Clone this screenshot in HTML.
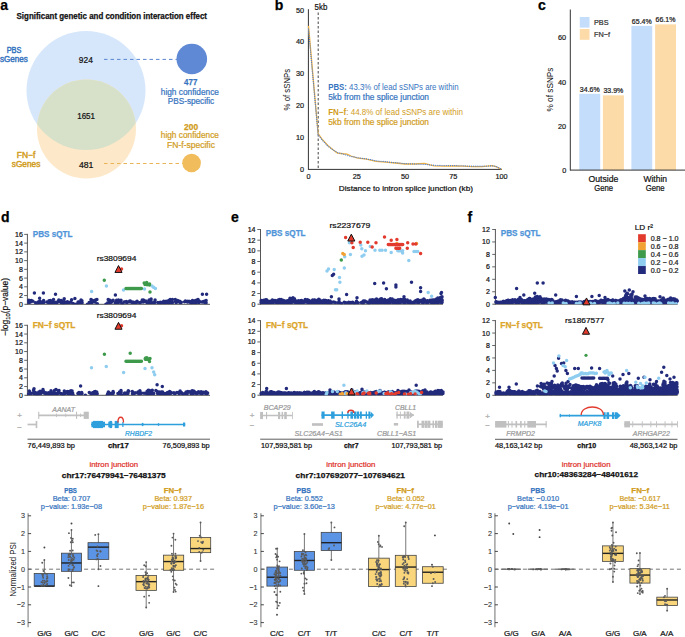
<!DOCTYPE html>
<html><head><meta charset="utf-8"><style>
html,body{margin:0;padding:0;background:#fff;overflow:hidden;}
svg{display:block;font-family:"Liberation Sans", sans-serif;}
</style></head><body>
<svg width="685" height="637" viewBox="0 0 685 637">
<text x="0.3" y="10.2" font-size="14" fill="#000" font-weight="bold" stroke="#000" stroke-width="0.25" text-anchor="start">a</text>
<text x="16.6" y="18.8" font-size="8.2" fill="#111" font-weight="bold" stroke="#111" stroke-width="0.25" text-anchor="start" textLength="190.4" lengthAdjust="spacingAndGlyphs">Significant genetic and condition interaction effect</text>
<circle cx="86.00" cy="90.50" r="59.50" fill="#d6e7fb"/>
<circle cx="86.50" cy="129.00" r="49.50" fill="#fde9c9"/>
<clipPath id="cb"><circle cx="86" cy="90.5" r="59.5"/></clipPath>
<circle cx="86.50" cy="129.00" r="49.50" fill="#d7e0c9" clip-path="url(#cb)"/>
<text x="6.7" y="52.5" font-size="8.6" fill="#3674c0" stroke="#3674c0" stroke-width="0.45" text-anchor="start" textLength="14.7" lengthAdjust="spacingAndGlyphs">PBS</text>
<text x="0.0" y="62.2" font-size="8.6" fill="#3674c0" stroke="#3674c0" stroke-width="0.45" text-anchor="start" textLength="27.7" lengthAdjust="spacingAndGlyphs">sGenes</text>
<text x="78.8" y="63.0" font-size="8.6" fill="#111" stroke="#111" stroke-width="0.22" text-anchor="start" textLength="14.0" lengthAdjust="spacingAndGlyphs">924</text>
<text x="77.2" y="119.2" font-size="8.6" fill="#111" stroke="#111" stroke-width="0.22" text-anchor="start" textLength="17.8" lengthAdjust="spacingAndGlyphs">1651</text>
<text x="78.9" y="167.9" font-size="8.6" fill="#111" stroke="#111" stroke-width="0.22" text-anchor="start" textLength="14.5" lengthAdjust="spacingAndGlyphs">481</text>
<text x="16.8" y="157.8" font-size="8.6" fill="#d19c1c" stroke="#d19c1c" stroke-width="0.45" text-anchor="start" textLength="18.5" lengthAdjust="spacingAndGlyphs">FN−f</text>
<text x="11.8" y="166.9" font-size="8.6" fill="#d19c1c" stroke="#d19c1c" stroke-width="0.45" text-anchor="start" textLength="28.5" lengthAdjust="spacingAndGlyphs">sGenes</text>
<line x1="104.00" y1="59.40" x2="177.00" y2="59.40" stroke="#5b86d2" stroke-width="1" stroke-dasharray="3.5,3"/>
<line x1="104.00" y1="163.50" x2="183.00" y2="163.50" stroke="#e8b455" stroke-width="1" stroke-dasharray="3.5,3"/>
<circle cx="191.80" cy="59.00" r="15.30" fill="#5f88d5"/>
<circle cx="191.60" cy="163.00" r="9.30" fill="#f0bc5c"/>
<text x="184.1" y="85.3" font-size="8.4" fill="#3674c0" font-weight="bold" stroke="#3674c0" stroke-width="0.25" text-anchor="start" textLength="13.2" lengthAdjust="spacingAndGlyphs">477</text>
<text x="160.8" y="94.7" font-size="8.4" fill="#3674c0" stroke="#3674c0" stroke-width="0.22" text-anchor="start" textLength="58.1" lengthAdjust="spacingAndGlyphs">high confidence</text>
<text x="167.8" y="103.6" font-size="8.4" fill="#3674c0" stroke="#3674c0" stroke-width="0.22" text-anchor="start" textLength="46.4" lengthAdjust="spacingAndGlyphs">PBS-specific</text>
<text x="184.1" y="129.6" font-size="8.4" fill="#d19c1c" font-weight="bold" stroke="#d19c1c" stroke-width="0.25" text-anchor="start" textLength="14.1" lengthAdjust="spacingAndGlyphs">200</text>
<text x="160.8" y="138.3" font-size="8.4" fill="#d19c1c" stroke="#d19c1c" stroke-width="0.22" text-anchor="start" textLength="58.1" lengthAdjust="spacingAndGlyphs">high confidence</text>
<text x="167.1" y="147.7" font-size="8.4" fill="#d19c1c" stroke="#d19c1c" stroke-width="0.22" text-anchor="start" textLength="47.8" lengthAdjust="spacingAndGlyphs">FN-f-specific</text>
<text x="274.7" y="10.2" font-size="14" fill="#000" font-weight="bold" stroke="#000" stroke-width="0.25" text-anchor="start">b</text>
<line x1="308.40" y1="9.20" x2="308.40" y2="169.90" stroke="#333333" stroke-width="1"/>
<line x1="308.40" y1="169.40" x2="502.00" y2="169.40" stroke="#333333" stroke-width="1"/>
<text x="304.0" y="172.0" font-size="7.3" fill="#222" stroke="#222" stroke-width="0.22" text-anchor="end">0</text>
<text x="304.0" y="140.1" font-size="7.3" fill="#222" stroke="#222" stroke-width="0.22" text-anchor="end">10</text>
<text x="304.0" y="108.2" font-size="7.3" fill="#222" stroke="#222" stroke-width="0.22" text-anchor="end">20</text>
<text x="304.0" y="76.3" font-size="7.3" fill="#222" stroke="#222" stroke-width="0.22" text-anchor="end">30</text>
<text x="304.0" y="44.4" font-size="7.3" fill="#222" stroke="#222" stroke-width="0.22" text-anchor="end">40</text>
<text x="304.0" y="12.5" font-size="7.3" fill="#222" stroke="#222" stroke-width="0.22" text-anchor="end">50</text>
<text x="308.5" y="179.2" font-size="7.3" fill="#222" stroke="#222" stroke-width="0.22" text-anchor="middle">0</text>
<text x="356.8" y="179.2" font-size="7.3" fill="#222" stroke="#222" stroke-width="0.22" text-anchor="middle">25</text>
<text x="405.1" y="179.2" font-size="7.3" fill="#222" stroke="#222" stroke-width="0.22" text-anchor="middle">50</text>
<text x="453.3" y="179.2" font-size="7.3" fill="#222" stroke="#222" stroke-width="0.22" text-anchor="middle">75</text>
<text x="501.6" y="179.2" font-size="7.3" fill="#222" stroke="#222" stroke-width="0.22" text-anchor="middle">100</text>
<text x="338.8" y="191.0" font-size="8" fill="#111" stroke="#111" stroke-width="0.22" text-anchor="start" textLength="134.2" lengthAdjust="spacingAndGlyphs">Distance to intron splice junction (kb)</text>
<text x="0" y="0" font-size="8.8" fill="#111" text-anchor="middle" textLength="41.6" lengthAdjust="spacingAndGlyphs" transform="translate(289.5,89.6) rotate(-90)">% of sSNPs</text>
<line x1="318.20" y1="12.50" x2="318.20" y2="169.40" stroke="#444" stroke-width="1" stroke-dasharray="2.5,2"/>
<text x="314.6" y="10.0" font-size="9" fill="#111" stroke="#111" stroke-width="0.22" text-anchor="start" textLength="12.7" lengthAdjust="spacingAndGlyphs">5kb</text>
<polyline points="308.50,25.85 318.15,133.67 322.02,139.09 327.81,145.47 333.60,150.26 337.46,153.13 343.26,153.77 347.12,154.09 350.98,156.00 356.77,157.92 366.43,159.19 376.09,161.43 385.74,162.06 395.39,163.02 405.05,163.98 414.70,163.98 424.36,163.34 430.15,164.93 434.01,165.89 443.67,166.21 453.33,165.89 462.98,166.21 472.63,166.53 482.29,166.53 491.94,165.57 495.81,166.53 501.60,169.40" fill="none" stroke="#f2b23c" stroke-width="1.3"/>
<polyline points="308.50,29.04 318.15,134.95 322.02,139.73 327.81,146.11 333.60,150.26 337.46,152.49 343.26,154.09 347.12,155.36 350.98,156.32 356.77,157.60 366.43,158.87 376.09,160.79 385.74,161.74 395.39,162.70 405.05,163.66 414.70,163.98 424.36,164.30 430.15,164.93 434.01,165.25 443.67,165.57 453.33,165.57 462.98,165.89 472.63,166.21 482.29,166.21 491.94,165.89 495.81,166.21 501.60,169.40" fill="none" stroke="#3d78e0" stroke-width="1.25" stroke-dasharray="0.01,2.1" stroke-linecap="round"/>
<text x="328.2" y="90" font-size="8.6" fill="#3674c0" textLength="130.4" lengthAdjust="spacingAndGlyphs"><tspan font-weight="bold">PBS:</tspan> 43.3% of lead sSNPs are within</text>
<text x="328.2" y="99.5" font-size="8.6" fill="#3674c0" stroke="#3674c0" stroke-width="0.22" text-anchor="start" textLength="100.8" lengthAdjust="spacingAndGlyphs">5kb from the splice junction</text>
<text x="328.2" y="115.2" font-size="8.6" fill="#d19c1c" textLength="134.7" lengthAdjust="spacingAndGlyphs"><tspan font-weight="bold">FN−f</tspan>: 44.8% of lead sSNPs are within</text>
<text x="328.2" y="124.9" font-size="8.6" fill="#d19c1c" stroke="#d19c1c" stroke-width="0.22" text-anchor="start" textLength="100.8" lengthAdjust="spacingAndGlyphs">5kb from the splice junction</text>
<text x="537.9" y="10.2" font-size="14" fill="#000" font-weight="bold" stroke="#000" stroke-width="0.25" text-anchor="start">c</text>
<rect x="579.30" y="93.81" width="20.90" height="76.29" fill="#c4ddfa"/>
<text x="589.8" y="91.8" font-size="7" fill="#222" stroke="#222" stroke-width="0.22" text-anchor="middle">34.6%</text>
<rect x="602.90" y="95.35" width="21.00" height="74.75" fill="#fddba8"/>
<text x="613.4" y="93.4" font-size="7" fill="#222" stroke="#222" stroke-width="0.22" text-anchor="middle">33.9%</text>
<rect x="631.40" y="25.89" width="20.80" height="144.21" fill="#c4ddfa"/>
<text x="641.8" y="23.9" font-size="7" fill="#222" stroke="#222" stroke-width="0.22" text-anchor="middle">65.4%</text>
<rect x="655.10" y="24.35" width="20.90" height="145.75" fill="#fddba8"/>
<text x="665.5" y="22.3" font-size="7" fill="#222" stroke="#222" stroke-width="0.22" text-anchor="middle">66.1%</text>
<line x1="570.30" y1="9.50" x2="570.30" y2="170.60" stroke="#333333" stroke-width="1"/>
<line x1="570.30" y1="170.10" x2="685.00" y2="170.10" stroke="#333333" stroke-width="1"/>
<text x="566.2" y="172.7" font-size="7.3" fill="#222" stroke="#222" stroke-width="0.22" text-anchor="end">0</text>
<text x="566.2" y="128.6" font-size="7.3" fill="#222" stroke="#222" stroke-width="0.22" text-anchor="end">20</text>
<text x="566.2" y="84.5" font-size="7.3" fill="#222" stroke="#222" stroke-width="0.22" text-anchor="end">40</text>
<text x="566.2" y="40.4" font-size="7.3" fill="#222" stroke="#222" stroke-width="0.22" text-anchor="end">60</text>
<rect x="579.80" y="17.00" width="9.70" height="10.60" fill="#c4ddfa"/>
<rect x="579.80" y="29.00" width="9.70" height="10.80" fill="#fddba8"/>
<text x="594.0" y="24.8" font-size="7.3" fill="#333" stroke="#333" stroke-width="0.22" text-anchor="start">PBS</text>
<text x="594.0" y="36.8" font-size="7.3" fill="#333" stroke="#333" stroke-width="0.22" text-anchor="start">FN−f</text>
<text x="588.5" y="181.7" font-size="8.8" fill="#111" stroke="#111" stroke-width="0.22" text-anchor="start" textLength="29.9" lengthAdjust="spacingAndGlyphs">Outside</text>
<text x="594.2" y="190.9" font-size="8.8" fill="#111" stroke="#111" stroke-width="0.22" text-anchor="start" textLength="18.8" lengthAdjust="spacingAndGlyphs">Gene</text>
<text x="643.5" y="181.7" font-size="8.8" fill="#111" stroke="#111" stroke-width="0.22" text-anchor="start" textLength="23.5" lengthAdjust="spacingAndGlyphs">Within</text>
<text x="645.7" y="190.9" font-size="8.8" fill="#111" stroke="#111" stroke-width="0.22" text-anchor="start" textLength="18.9" lengthAdjust="spacingAndGlyphs">Gene</text>
<text x="0" y="0" font-size="8.8" fill="#111" text-anchor="middle" textLength="44.0" lengthAdjust="spacingAndGlyphs" transform="translate(553.0,89.5) rotate(-90)">% of sSNPs</text>
<text x="0.9" y="221.6" font-size="14" fill="#000" font-weight="bold" stroke="#000" stroke-width="0.25" text-anchor="start">d</text>
<line x1="27.40" y1="233.88" x2="27.40" y2="304.80" stroke="#555" stroke-width="1.0"/>
<line x1="24.40" y1="304.30" x2="210.00" y2="304.30" stroke="#555" stroke-width="1.0"/>
<text x="22.8" y="306.8" font-size="7" fill="#111" stroke="#111" stroke-width="0.22" text-anchor="end">0</text>
<line x1="24.20" y1="295.56" x2="27.40" y2="295.56" stroke="#555" stroke-width="0.9"/>
<text x="22.8" y="298.1" font-size="7" fill="#111" stroke="#111" stroke-width="0.22" text-anchor="end">2</text>
<line x1="24.20" y1="286.82" x2="27.40" y2="286.82" stroke="#555" stroke-width="0.9"/>
<text x="22.8" y="289.3" font-size="7" fill="#111" stroke="#111" stroke-width="0.22" text-anchor="end">4</text>
<line x1="24.20" y1="278.08" x2="27.40" y2="278.08" stroke="#555" stroke-width="0.9"/>
<text x="22.8" y="280.6" font-size="7" fill="#111" stroke="#111" stroke-width="0.22" text-anchor="end">6</text>
<line x1="24.20" y1="269.34" x2="27.40" y2="269.34" stroke="#555" stroke-width="0.9"/>
<text x="22.8" y="271.8" font-size="7" fill="#111" stroke="#111" stroke-width="0.22" text-anchor="end">8</text>
<line x1="24.20" y1="260.60" x2="27.40" y2="260.60" stroke="#555" stroke-width="0.9"/>
<text x="22.8" y="263.1" font-size="7" fill="#111" stroke="#111" stroke-width="0.22" text-anchor="end">10</text>
<line x1="24.20" y1="251.86" x2="27.40" y2="251.86" stroke="#555" stroke-width="0.9"/>
<text x="22.8" y="254.4" font-size="7" fill="#111" stroke="#111" stroke-width="0.22" text-anchor="end">12</text>
<line x1="24.20" y1="243.12" x2="27.40" y2="243.12" stroke="#555" stroke-width="0.9"/>
<text x="22.8" y="245.6" font-size="7" fill="#111" stroke="#111" stroke-width="0.22" text-anchor="end">14</text>
<line x1="24.20" y1="234.38" x2="27.40" y2="234.38" stroke="#555" stroke-width="0.9"/>
<text x="22.8" y="236.9" font-size="7" fill="#111" stroke="#111" stroke-width="0.22" text-anchor="end">16</text>
<text x="32.8" y="236.6" font-size="8.4" fill="#4f94d8" font-weight="bold" stroke="#4f94d8" stroke-width="0.25" text-anchor="start" textLength="39.7" lengthAdjust="spacingAndGlyphs">PBS sQTL</text>
<clipPath id="mc1"><rect x="0" y="184.3" width="685" height="120"/></clipPath><g clip-path="url(#mc1)">
<path d="M30.8 301.7h0M29.0 302.2h0M28.9 301.8h0M28.8 302.0h0M29.0 302.7h0M31.5 301.1h0M29.4 302.6h0M32.9 301.2h0M31.3 300.5h0M28.8 300.3h0M35.6 302.7h0M36.6 304.3h0M38.2 302.1h0M41.3 301.9h0M38.6 302.8h0M39.3 301.6h0M40.3 302.4h0M41.1 302.1h0M39.7 301.2h0M41.6 302.6h0M43.6 300.6h0M43.7 302.5h0M49.9 302.3h0M48.5 302.7h0M46.9 301.9h0M48.6 302.0h0M49.3 302.5h0M48.2 301.9h0M47.5 302.3h0M49.0 300.8h0M52.4 302.7h0M53.5 299.5h0M54.1 302.4h0M51.9 301.1h0M50.1 301.9h0M50.8 302.7h0M50.3 300.6h0M55.9 302.3h0M61.1 302.2h0M58.8 299.9h0M61.0 302.5h0M57.9 302.1h0M61.2 300.6h0M56.1 302.7h0M56.6 302.6h0M58.4 301.2h0M56.8 302.8h0M62.2 302.6h0M63.1 304.3h0M63.8 301.8h0M69.2 302.8h0M71.6 299.7h0M70.8 302.0h0M67.4 301.7h0M64.5 302.7h0M65.8 302.7h0M66.9 302.8h0M64.0 302.6h0M64.9 302.0h0M64.2 298.8h0M69.2 302.6h0M66.1 302.4h0M67.1 302.7h0M72.9 303.4h0M75.1 304.3h0M77.5 303.7h0M79.4 302.5h0M81.3 302.8h0M81.8 301.9h0M78.6 301.9h0M78.1 301.9h0M81.9 300.8h0M80.8 302.5h0M82.1 302.7h0M87.5 304.3h0M89.2 302.6h0M95.5 300.0h0M95.5 300.2h0M95.0 302.1h0M92.0 302.8h0M91.5 302.6h0M94.6 300.7h0M92.7 300.6h0M96.9 299.6h0M92.1 302.6h0M91.0 302.7h0M90.9 301.9h0M97.3 303.8h0M105.9 304.3h0M107.8 302.7h0M116.6 300.2h0M117.8 302.6h0M118.3 302.4h0M118.4 299.9h0M113.1 300.3h0M117.4 302.6h0M109.7 302.7h0M119.8 300.7h0M109.9 300.2h0M120.7 302.2h0M115.1 302.7h0M108.2 299.4h0M116.4 301.5h0M120.1 302.0h0M119.3 300.6h0M110.7 302.5h0M111.1 301.9h0M111.4 302.3h0M121.0 300.3h0M122.3 304.3h0M124.1 302.1h0M128.8 301.7h0M130.0 301.7h0M124.5 302.1h0M126.3 301.6h0M126.1 302.3h0M132.1 302.4h0M129.8 301.5h0M132.7 302.1h0M127.0 302.6h0M132.6 302.2h0M130.3 301.1h0M134.1 302.4h0M130.9 302.0h0M129.8 300.9h0M141.8 302.0h0M149.1 299.9h0M149.1 302.5h0M143.4 299.9h0M137.1 302.3h0M136.1 302.6h0M136.1 301.9h0M146.8 302.6h0M145.7 300.9h0M137.1 301.3h0M149.5 302.5h0M149.3 302.1h0M142.3 299.9h0M147.5 302.6h0M141.5 301.9h0M140.1 302.6h0M139.8 302.8h0M143.3 301.9h0M135.3 302.5h0M144.4 301.6h0M151.0 299.9h0M164.6 302.6h0M150.6 300.0h0M154.1 302.3h0M163.7 301.2h0M153.9 302.7h0M163.8 302.0h0M160.5 302.8h0M160.3 302.3h0M151.1 298.9h0M159.5 302.7h0M162.8 302.8h0M162.9 302.2h0M155.1 299.9h0M154.0 302.7h0M157.9 302.5h0M151.6 302.6h0M150.8 302.5h0M154.7 302.5h0M161.4 302.5h0M172.5 302.4h0M165.3 302.8h0M176.0 302.6h0M172.1 302.7h0M177.3 302.0h0M172.4 299.6h0M170.9 301.5h0M175.3 299.4h0M170.1 299.6h0M175.6 301.2h0M171.1 302.1h0M165.8 302.7h0M166.1 301.3h0M168.8 302.7h0M177.6 300.6h0M169.2 302.6h0M169.4 302.2h0M167.4 302.2h0M168.9 300.5h0M179.6 301.3h0M168.7 300.5h0M169.6 302.4h0M180.0 301.9h0M187.5 302.1h0M180.1 302.5h0M181.3 302.2h0M180.6 302.8h0M184.6 301.8h0M187.9 301.3h0M189.9 301.5h0M193.2 302.4h0M194.8 302.7h0M190.9 302.8h0M192.5 300.6h0M189.4 301.4h0M192.2 302.7h0M187.9 302.1h0M192.5 300.9h0M192.4 301.5h0M193.4 301.4h0M190.4 302.5h0M180.5 302.7h0M185.4 301.1h0M188.4 301.7h0M204.4 301.8h0M195.0 300.7h0M202.5 301.7h0M204.9 302.7h0M206.1 302.7h0M199.0 302.6h0M206.1 300.4h0M202.4 302.0h0M205.3 301.2h0M204.3 301.2h0M196.2 302.7h0M198.8 300.8h0M199.6 301.5h0M195.2 302.7h0M199.0 301.1h0M205.4 301.5h0M199.4 301.7h0M202.0 302.1h0M196.8 299.9h0M198.0 299.5h0M34.4 292.9h0M43.4 292.9h0M39.6 298.2h0M55.5 294.2h0M74.9 298.6h0M115.4 295.1h0M202.4 294.2h0M206.6 294.2h0M81.0 299.9h0M91.0 299.5h0" stroke="#222a7c" stroke-width="3.5" stroke-linecap="round" fill="none"/>
<path d="M91.6 291.6h0M106.4 285.9h0M123.5 289.9h0M144.5 289.0h0M152.0 285.9h0M153.5 287.3h0M155.4 288.6h0" stroke="#8fcdf0" stroke-width="3.5" stroke-linecap="round" fill="none"/>
<path d="M104.3 280.3h0M150.0 292.1h0M126.0 288.6h0M127.1 288.6h0M128.2 288.6h0M129.3 288.6h0M130.4 288.6h0M131.5 288.6h0M132.6 288.6h0M133.7 288.6h0M134.8 288.6h0M135.9 288.6h0M137.0 288.6h0M138.1 288.6h0M139.2 288.6h0M140.3 288.6h0M141.4 288.6h0M149.4 285.0h0M146.3 282.9h0M149.6 283.9h0M145.0 284.5h0M149.4 284.5h0M147.1 284.7h0M146.7 282.6h0M144.2 282.9h0M146.6 282.7h0M147.9 284.5h0" stroke="#3e9a4b" stroke-width="3.5" stroke-linecap="round" fill="none"/>
<path d="M121.5 268.9h0" stroke="#e23b2e" stroke-width="3.5" stroke-linecap="round" fill="none"/>
</g>
<polygon points="114.95,272.44 122.05,272.44 118.50,265.56" fill="#e23b2e" stroke="#111" stroke-width="1"/>
<text x="96.7" y="260.6" font-size="8" fill="#111" stroke="#111" stroke-width="0.22" text-anchor="start" textLength="39.7" lengthAdjust="spacingAndGlyphs">rs3809694</text>
<line x1="27.40" y1="324.80" x2="27.40" y2="395.80" stroke="#555" stroke-width="1.0"/>
<line x1="24.40" y1="395.30" x2="210.00" y2="395.30" stroke="#555" stroke-width="1.0"/>
<text x="22.8" y="397.8" font-size="7" fill="#111" stroke="#111" stroke-width="0.22" text-anchor="end">0</text>
<line x1="24.20" y1="386.55" x2="27.40" y2="386.55" stroke="#555" stroke-width="0.9"/>
<text x="22.8" y="389.1" font-size="7" fill="#111" stroke="#111" stroke-width="0.22" text-anchor="end">2</text>
<line x1="24.20" y1="377.80" x2="27.40" y2="377.80" stroke="#555" stroke-width="0.9"/>
<text x="22.8" y="380.3" font-size="7" fill="#111" stroke="#111" stroke-width="0.22" text-anchor="end">4</text>
<line x1="24.20" y1="369.05" x2="27.40" y2="369.05" stroke="#555" stroke-width="0.9"/>
<text x="22.8" y="371.6" font-size="7" fill="#111" stroke="#111" stroke-width="0.22" text-anchor="end">6</text>
<line x1="24.20" y1="360.30" x2="27.40" y2="360.30" stroke="#555" stroke-width="0.9"/>
<text x="22.8" y="362.8" font-size="7" fill="#111" stroke="#111" stroke-width="0.22" text-anchor="end">8</text>
<line x1="24.20" y1="351.55" x2="27.40" y2="351.55" stroke="#555" stroke-width="0.9"/>
<text x="22.8" y="354.1" font-size="7" fill="#111" stroke="#111" stroke-width="0.22" text-anchor="end">10</text>
<line x1="24.20" y1="342.80" x2="27.40" y2="342.80" stroke="#555" stroke-width="0.9"/>
<text x="22.8" y="345.3" font-size="7" fill="#111" stroke="#111" stroke-width="0.22" text-anchor="end">12</text>
<line x1="24.20" y1="334.05" x2="27.40" y2="334.05" stroke="#555" stroke-width="0.9"/>
<text x="22.8" y="336.6" font-size="7" fill="#111" stroke="#111" stroke-width="0.22" text-anchor="end">14</text>
<line x1="24.20" y1="325.30" x2="27.40" y2="325.30" stroke="#555" stroke-width="0.9"/>
<text x="22.8" y="327.8" font-size="7" fill="#111" stroke="#111" stroke-width="0.22" text-anchor="end">16</text>
<text x="32.7" y="327.8" font-size="8.4" fill="#dca52a" font-weight="bold" stroke="#dca52a" stroke-width="0.25" text-anchor="start" textLength="42.8" lengthAdjust="spacingAndGlyphs">FN−f sQTL</text>
<clipPath id="mc2"><rect x="0" y="275.3" width="685" height="120"/></clipPath><g clip-path="url(#mc2)">
<path d="M34.8 392.6h0M28.7 393.8h0M31.9 393.2h0M30.6 393.7h0M30.9 393.5h0M34.4 393.8h0M33.8 390.7h0M29.3 390.9h0M33.5 390.2h0M30.5 393.4h0M35.7 392.7h0M37.2 395.3h0M38.1 393.7h0M39.6 393.8h0M38.8 392.1h0M39.6 391.7h0M39.5 393.6h0M40.7 393.6h0M40.1 391.2h0M42.5 392.0h0M43.6 391.5h0M43.9 392.9h0M48.3 393.8h0M48.4 393.3h0M48.5 392.8h0M45.7 393.8h0M49.6 393.7h0M46.8 393.5h0M45.8 392.7h0M49.9 393.6h0M53.3 393.4h0M52.8 393.1h0M50.8 393.6h0M51.0 390.8h0M52.5 393.5h0M54.5 390.6h0M52.2 393.7h0M56.3 393.7h0M57.4 393.7h0M56.7 393.6h0M59.0 390.4h0M60.2 393.3h0M57.9 392.5h0M57.6 393.2h0M55.4 393.5h0M61.8 393.7h0M58.5 392.0h0M62.4 394.4h0M62.7 395.3h0M63.6 393.7h0M67.4 393.2h0M72.1 390.9h0M71.4 393.8h0M64.3 391.0h0M71.6 392.7h0M69.0 393.8h0M67.3 391.6h0M71.0 390.8h0M72.3 393.5h0M64.9 393.6h0M68.4 391.8h0M72.0 391.6h0M69.5 391.4h0M72.7 393.2h0M73.2 395.3h0M77.9 393.6h0M81.7 392.6h0M79.2 393.7h0M79.0 392.6h0M80.8 393.7h0M78.3 392.9h0M80.3 393.3h0M78.9 392.7h0M82.0 393.5h0M85.4 395.3h0M89.3 392.5h0M96.1 392.8h0M91.1 393.6h0M96.7 391.9h0M91.7 393.8h0M93.1 392.6h0M92.5 393.6h0M94.4 391.8h0M91.0 393.8h0M91.9 393.3h0M94.6 393.6h0M95.4 391.6h0M97.2 393.7h0M107.2 395.3h0M107.7 393.7h0M111.0 393.6h0M117.9 393.4h0M120.4 392.8h0M110.4 393.6h0M113.4 392.4h0M120.3 393.7h0M113.1 393.6h0M120.7 393.7h0M108.7 393.7h0M113.1 391.5h0M119.5 392.0h0M121.0 390.6h0M112.3 393.7h0M120.2 391.7h0M108.4 392.1h0M112.9 393.3h0M112.3 393.7h0M108.0 393.4h0M121.1 392.0h0M121.6 395.3h0M124.3 393.6h0M128.1 391.2h0M133.1 393.4h0M124.8 393.0h0M128.3 390.7h0M126.4 393.5h0M133.9 393.8h0M128.7 391.3h0M132.5 393.8h0M124.7 393.7h0M134.1 393.6h0M132.3 391.5h0M127.9 393.4h0M134.5 393.0h0M127.1 392.8h0M139.7 393.5h0M135.1 392.7h0M148.7 392.2h0M149.1 393.8h0M138.5 392.9h0M149.4 390.4h0M140.8 393.5h0M141.4 393.0h0M148.9 393.6h0M147.0 391.5h0M147.3 391.3h0M144.1 393.2h0M139.8 393.3h0M146.7 393.7h0M138.0 391.9h0M138.7 393.7h0M135.5 393.1h0M139.9 390.7h0M148.3 390.3h0M139.0 393.7h0M151.4 392.5h0M160.6 393.3h0M153.5 393.3h0M159.3 391.9h0M161.2 392.1h0M160.0 393.7h0M162.6 393.5h0M158.5 393.1h0M161.1 393.6h0M153.7 393.6h0M152.3 390.3h0M158.7 393.2h0M155.9 390.5h0M157.6 393.5h0M162.1 392.8h0M164.9 393.7h0M157.1 391.5h0M162.6 391.9h0M150.6 393.3h0M151.8 393.6h0M179.6 392.1h0M179.0 393.0h0M178.0 392.7h0M168.9 392.2h0M179.2 393.7h0M173.9 392.7h0M168.3 393.4h0M167.1 393.6h0M168.8 392.8h0M174.8 393.6h0M165.2 393.4h0M175.2 393.6h0M169.7 393.6h0M176.9 392.6h0M165.9 393.7h0M170.9 392.3h0M174.6 393.7h0M167.5 392.4h0M171.1 393.3h0M169.6 391.5h0M169.7 392.9h0M170.4 392.9h0M193.0 391.1h0M185.5 393.6h0M190.9 393.6h0M180.1 391.1h0M186.4 392.2h0M186.1 392.0h0M186.9 393.7h0M180.2 392.7h0M189.6 391.8h0M181.3 392.4h0M185.6 393.1h0M182.2 393.4h0M187.8 391.6h0M181.6 392.9h0M192.1 390.7h0M183.0 393.7h0M194.1 391.2h0M187.2 393.8h0M193.9 393.3h0M193.6 392.6h0M192.4 393.6h0M191.8 393.5h0M201.1 391.8h0M207.4 393.6h0M198.3 393.1h0M202.8 393.2h0M196.8 393.5h0M205.9 391.7h0M195.6 392.5h0M206.4 393.8h0M207.6 392.9h0M203.3 392.3h0M199.6 393.0h0M203.7 393.0h0M204.9 393.0h0M201.6 393.8h0M204.3 392.8h0M198.5 391.7h0M206.7 393.2h0M197.7 392.9h0M196.6 393.7h0M201.5 393.7h0M80.6 386.1h0M157.1 384.8h0M162.3 386.6h0M34.0 388.7h0M43.0 389.6h0M56.0 389.6h0" stroke="#222a7c" stroke-width="3.5" stroke-linecap="round" fill="none"/>
<path d="M91.5 367.7h0M106.3 366.4h0M123.6 372.6h0M145.0 368.6h0M152.0 367.7h0M153.7 372.1h0M154.7 374.7h0" stroke="#8fcdf0" stroke-width="3.5" stroke-linecap="round" fill="none"/>
<path d="M104.4 354.2h0M130.2 353.3h0M149.5 361.6h0M126.0 361.2h0M127.1 361.2h0M128.2 361.2h0M129.3 361.2h0M130.4 361.2h0M131.5 361.2h0M132.6 361.2h0M133.7 361.2h0M134.8 361.2h0M135.9 361.2h0M137.0 361.2h0M138.1 361.2h0M139.2 361.2h0M140.3 361.2h0M141.4 361.2h0M147.2 359.2h0M145.2 358.8h0M145.4 358.5h0M148.9 359.2h0M145.3 359.2h0M146.9 357.8h0M145.7 358.1h0M150.0 358.5h0" stroke="#3e9a4b" stroke-width="3.5" stroke-linecap="round" fill="none"/>
<path d="M121.5 325.7h0" stroke="#e23b2e" stroke-width="3.5" stroke-linecap="round" fill="none"/>
</g>
<polygon points="114.95,329.24 122.05,329.24 118.50,322.36" fill="#e23b2e" stroke="#111" stroke-width="1"/>
<text x="96.7" y="318.2" font-size="8" fill="#111" stroke="#111" stroke-width="0.22" text-anchor="start" textLength="39.7" lengthAdjust="spacingAndGlyphs">rs3809694</text>
<text x="0" y="0" font-size="8.6" fill="#111" stroke="#111" stroke-width="0.2" text-anchor="middle" textLength="58" lengthAdjust="spacingAndGlyphs" transform="translate(8.0,307) rotate(-90)">−log<tspan font-size="6" dy="1.8">10</tspan><tspan dy="-1.8">(p−value)</tspan></text>
<text x="19.5" y="418.0" font-size="8" fill="#aaa" stroke="#aaa" stroke-width="0.22" text-anchor="middle">+</text>
<text x="19.5" y="429.5" font-size="8" fill="#aaa" stroke="#aaa" stroke-width="0.22" text-anchor="middle">−</text>
<line x1="38.50" y1="415.30" x2="84.00" y2="415.30" stroke="#c0c0c0" stroke-width="1.7"/>
<rect x="83.70" y="411.70" width="5.10" height="7.20" fill="#c0c0c0"/>
<rect x="38.20" y="411.70" width="1.10" height="7.20" fill="#c0c0c0"/>
<rect x="76.00" y="411.70" width="1.10" height="7.20" fill="#c0c0c0"/>
<rect x="56.00" y="413.55" width="0.90" height="3.50" fill="#c0c0c0"/>
<rect x="65.30" y="413.55" width="0.90" height="3.50" fill="#c0c0c0"/>
<rect x="80.00" y="413.55" width="0.90" height="3.50" fill="#c0c0c0"/>
<text x="52.3" y="411.8" font-size="7.2" fill="#999" font-style="italic" stroke="#999" stroke-width="0.22" text-anchor="start" textLength="22.7" lengthAdjust="spacingAndGlyphs">AANAT</text>
<line x1="27.50" y1="424.50" x2="37.00" y2="424.50" stroke="#c0c0c0" stroke-width="1.7"/>
<rect x="35.70" y="420.90" width="1.60" height="7.20" fill="#c0c0c0"/>
<line x1="91.00" y1="424.50" x2="185.20" y2="424.50" stroke="#2d9fdc" stroke-width="1.7"/>
<rect x="91.40" y="421.70" width="13.60" height="5.60" fill="#2d9fdc"/>
<rect x="93.00" y="420.90" width="10.00" height="7.20" fill="#2d9fdc"/>
<rect x="108.30" y="421.70" width="4.00" height="5.60" fill="#2d9fdc"/>
<rect x="109.50" y="420.90" width="2.50" height="7.20" fill="#2d9fdc"/>
<rect x="114.70" y="420.90" width="4.00" height="7.20" fill="#2d9fdc"/>
<rect x="122.30" y="422.00" width="1.20" height="5.00" fill="#2d9fdc"/>
<rect x="141.80" y="422.90" width="1.60" height="3.20" fill="#2d9fdc"/>
<rect x="157.80" y="423.20" width="1.40" height="2.60" fill="#2d9fdc"/>
<rect x="183.00" y="422.50" width="2.20" height="4.00" fill="#2d9fdc"/>
<path d="M117.90,422.50 C117.90,415.53 123.50,415.53 123.50,422.50" fill="none" stroke="#e23b2e" stroke-width="1.3"/>
<text x="125.0" y="436.2" font-size="7.2" fill="#2d9fdc" font-style="italic" stroke="#2d9fdc" stroke-width="0.22" text-anchor="start" textLength="27.0" lengthAdjust="spacingAndGlyphs">RHBDF2</text>
<line x1="27.50" y1="439.20" x2="210.00" y2="439.20" stroke="#333" stroke-width="0.8"/>
<text x="27.5" y="448.2" font-size="7.4" fill="#111" stroke="#111" stroke-width="0.22" text-anchor="start" textLength="47.5" lengthAdjust="spacingAndGlyphs">76,449,893 bp</text>
<text x="108.0" y="448.2" font-size="7.4" fill="#111" font-weight="bold" stroke="#111" stroke-width="0.25" text-anchor="start" textLength="20.7" lengthAdjust="spacingAndGlyphs">chr17</text>
<text x="162.6" y="448.2" font-size="7.4" fill="#111" stroke="#111" stroke-width="0.22" text-anchor="start" textLength="47.1" lengthAdjust="spacingAndGlyphs">76,509,893 bp</text>
<text x="89.5" y="467.2" font-size="7.4" fill="#e0322c" stroke="#e0322c" stroke-width="0.22" text-anchor="start" textLength="48.6" lengthAdjust="spacingAndGlyphs">intron junction</text>
<text x="61.8" y="477.6" font-size="7.8" fill="#111" font-weight="bold" stroke="#111" stroke-width="0.25" text-anchor="start" textLength="103.9" lengthAdjust="spacingAndGlyphs">chr17:76479941−76481375</text>
<text x="64.3" y="493.1" font-size="7.4" fill="#3674c0" font-weight="bold" stroke="#3674c0" stroke-width="0.25" text-anchor="start" textLength="12.6" lengthAdjust="spacingAndGlyphs">PBS</text>
<text x="52.7" y="501.0" font-size="7.4" fill="#3674c0" stroke="#3674c0" stroke-width="0.22" text-anchor="start" textLength="37.7" lengthAdjust="spacingAndGlyphs">Beta: 0.707</text>
<text x="40.8" y="508.9" font-size="7.4" fill="#3674c0" stroke="#3674c0" stroke-width="0.22" text-anchor="start" textLength="61.2" lengthAdjust="spacingAndGlyphs">p−value: 1.93e−08</text>
<text x="163.8" y="493.1" font-size="7.4" fill="#d19c1c" font-weight="bold" stroke="#d19c1c" stroke-width="0.25" text-anchor="start" textLength="17.6" lengthAdjust="spacingAndGlyphs">FN−f</text>
<text x="154.4" y="501.0" font-size="7.4" fill="#d19c1c" stroke="#d19c1c" stroke-width="0.22" text-anchor="start" textLength="37.6" lengthAdjust="spacingAndGlyphs">Beta: 0.937</text>
<text x="142.8" y="508.9" font-size="7.4" fill="#d19c1c" stroke="#d19c1c" stroke-width="0.22" text-anchor="start" textLength="61.2" lengthAdjust="spacingAndGlyphs">p−value: 1.87e−16</text>
<line x1="28.10" y1="513.30" x2="28.10" y2="627.20" stroke="#999" stroke-width="1.4"/>
<line x1="28.10" y1="515.80" x2="31.10" y2="515.80" stroke="#333" stroke-width="0.9"/>
<text x="25.0" y="518.3" font-size="7.2" fill="#333" stroke="#333" stroke-width="0.1" text-anchor="end">3</text>
<line x1="28.10" y1="533.60" x2="31.10" y2="533.60" stroke="#333" stroke-width="0.9"/>
<text x="25.0" y="536.1" font-size="7.2" fill="#333" stroke="#333" stroke-width="0.1" text-anchor="end">2</text>
<line x1="28.10" y1="551.40" x2="31.10" y2="551.40" stroke="#333" stroke-width="0.9"/>
<text x="25.0" y="553.9" font-size="7.2" fill="#333" stroke="#333" stroke-width="0.1" text-anchor="end">1</text>
<line x1="28.10" y1="569.20" x2="31.10" y2="569.20" stroke="#333" stroke-width="0.9"/>
<text x="25.0" y="571.7" font-size="7.2" fill="#333" stroke="#333" stroke-width="0.1" text-anchor="end">0</text>
<line x1="28.10" y1="587.00" x2="31.10" y2="587.00" stroke="#333" stroke-width="0.9"/>
<text x="25.0" y="589.5" font-size="7.2" fill="#333" stroke="#333" stroke-width="0.1" text-anchor="end">−1</text>
<line x1="28.10" y1="604.80" x2="31.10" y2="604.80" stroke="#333" stroke-width="0.9"/>
<text x="25.0" y="607.3" font-size="7.2" fill="#333" stroke="#333" stroke-width="0.1" text-anchor="end">−2</text>
<line x1="28.10" y1="622.60" x2="31.10" y2="622.60" stroke="#333" stroke-width="0.9"/>
<text x="25.0" y="625.1" font-size="7.2" fill="#333" stroke="#333" stroke-width="0.1" text-anchor="end">−3</text>
<line x1="28.10" y1="569.20" x2="215.00" y2="569.20" stroke="#666" stroke-width="0.9" stroke-dasharray="4,3"/>
<text x="0" y="0" font-size="8.6" fill="#222" text-anchor="middle" textLength="54.7" lengthAdjust="spacingAndGlyphs" transform="translate(15.8,569.3) rotate(-90)">Normalized PSI</text>
<line x1="44.35" y1="559.94" x2="44.35" y2="586.11" stroke="#555" stroke-width="0.8"/>
<rect x="34.20" y="573.47" width="20.30" height="12.64" fill="#5b93e5" stroke="#444" stroke-width="0.8"/>
<line x1="34.20" y1="586.11" x2="54.50" y2="586.11" stroke="#222" stroke-width="1.4"/>
<circle cx="47.43" cy="581.04" r="0.95" fill="#5a5a5a"/>
<circle cx="47.01" cy="574.02" r="0.95" fill="#5a5a5a"/>
<circle cx="47.11" cy="576.15" r="0.95" fill="#5a5a5a"/>
<circle cx="45.99" cy="581.68" r="0.95" fill="#5a5a5a"/>
<circle cx="42.91" cy="574.78" r="0.95" fill="#5a5a5a"/>
<circle cx="44.36" cy="582.35" r="0.95" fill="#5a5a5a"/>
<circle cx="42.83" cy="580.66" r="0.95" fill="#5a5a5a"/>
<circle cx="41.39" cy="582.08" r="0.95" fill="#5a5a5a"/>
<circle cx="47.14" cy="584.07" r="0.95" fill="#5a5a5a"/>
<circle cx="42.23" cy="562.68" r="0.95" fill="#5a5a5a"/>
<circle cx="44.55" cy="583.10" r="0.95" fill="#5a5a5a"/>
<circle cx="46.74" cy="581.56" r="0.95" fill="#5a5a5a"/>
<circle cx="46.80" cy="578.78" r="0.95" fill="#5a5a5a"/>
<circle cx="45.18" cy="573.56" r="0.95" fill="#5a5a5a"/>
<circle cx="42.84" cy="576.03" r="0.95" fill="#5a5a5a"/>
<circle cx="43.46" cy="571.00" r="0.95" fill="#5a5a5a"/>
<circle cx="42.28" cy="574.54" r="0.95" fill="#5a5a5a"/>
<circle cx="46.40" cy="584.85" r="0.95" fill="#5a5a5a"/>
<circle cx="47.45" cy="578.03" r="0.95" fill="#5a5a5a"/>
<circle cx="43.15" cy="577.72" r="0.95" fill="#5a5a5a"/>
<circle cx="42.11" cy="585.68" r="0.95" fill="#5a5a5a"/>
<circle cx="44.43" cy="580.65" r="0.95" fill="#5a5a5a"/>
<circle cx="42.60" cy="582.66" r="0.95" fill="#5a5a5a"/>
<circle cx="41.17" cy="585.53" r="0.95" fill="#5a5a5a"/>
<circle cx="43.44" cy="584.77" r="0.95" fill="#5a5a5a"/>
<circle cx="44.35" cy="559.94" r="0.95" fill="#5a5a5a"/>
<circle cx="44.35" cy="586.11" r="0.95" fill="#5a5a5a"/>
<circle cx="44.40" cy="547.48" r="0.95" fill="#444"/>
<line x1="71.45" y1="530.04" x2="71.45" y2="586.11" stroke="#555" stroke-width="0.8"/>
<rect x="61.50" y="553.18" width="19.90" height="18.16" fill="#5b93e5" stroke="#444" stroke-width="0.8"/>
<line x1="61.50" y1="562.97" x2="81.40" y2="562.97" stroke="#222" stroke-width="1.4"/>
<circle cx="72.02" cy="560.74" r="0.95" fill="#5a5a5a"/>
<circle cx="71.29" cy="560.01" r="0.95" fill="#5a5a5a"/>
<circle cx="69.81" cy="554.33" r="0.95" fill="#5a5a5a"/>
<circle cx="72.33" cy="569.60" r="0.95" fill="#5a5a5a"/>
<circle cx="70.82" cy="542.25" r="0.95" fill="#5a5a5a"/>
<circle cx="72.38" cy="571.13" r="0.95" fill="#5a5a5a"/>
<circle cx="72.38" cy="564.98" r="0.95" fill="#5a5a5a"/>
<circle cx="72.94" cy="554.32" r="0.95" fill="#5a5a5a"/>
<circle cx="68.53" cy="554.93" r="0.95" fill="#5a5a5a"/>
<circle cx="69.77" cy="563.96" r="0.95" fill="#5a5a5a"/>
<circle cx="68.33" cy="557.19" r="0.95" fill="#5a5a5a"/>
<circle cx="69.16" cy="554.25" r="0.95" fill="#5a5a5a"/>
<circle cx="71.49" cy="560.30" r="0.95" fill="#5a5a5a"/>
<circle cx="69.37" cy="556.57" r="0.95" fill="#5a5a5a"/>
<circle cx="68.56" cy="565.88" r="0.95" fill="#5a5a5a"/>
<circle cx="72.83" cy="542.21" r="0.95" fill="#5a5a5a"/>
<circle cx="73.02" cy="556.00" r="0.95" fill="#5a5a5a"/>
<circle cx="71.15" cy="557.87" r="0.95" fill="#5a5a5a"/>
<circle cx="69.74" cy="569.42" r="0.95" fill="#5a5a5a"/>
<circle cx="73.05" cy="565.24" r="0.95" fill="#5a5a5a"/>
<circle cx="72.80" cy="538.71" r="0.95" fill="#5a5a5a"/>
<circle cx="71.04" cy="561.28" r="0.95" fill="#5a5a5a"/>
<circle cx="69.95" cy="556.77" r="0.95" fill="#5a5a5a"/>
<circle cx="69.64" cy="553.81" r="0.95" fill="#5a5a5a"/>
<circle cx="69.92" cy="585.26" r="0.95" fill="#5a5a5a"/>
<circle cx="74.30" cy="557.83" r="0.95" fill="#5a5a5a"/>
<circle cx="73.88" cy="567.78" r="0.95" fill="#5a5a5a"/>
<circle cx="74.06" cy="566.99" r="0.95" fill="#5a5a5a"/>
<circle cx="72.51" cy="558.76" r="0.95" fill="#5a5a5a"/>
<circle cx="73.62" cy="559.79" r="0.95" fill="#5a5a5a"/>
<circle cx="71.05" cy="538.03" r="0.95" fill="#5a5a5a"/>
<circle cx="70.22" cy="554.13" r="0.95" fill="#5a5a5a"/>
<circle cx="68.75" cy="560.03" r="0.95" fill="#5a5a5a"/>
<circle cx="68.42" cy="578.00" r="0.95" fill="#5a5a5a"/>
<circle cx="70.46" cy="554.47" r="0.95" fill="#5a5a5a"/>
<circle cx="68.52" cy="570.81" r="0.95" fill="#5a5a5a"/>
<circle cx="72.71" cy="550.57" r="0.95" fill="#5a5a5a"/>
<circle cx="72.03" cy="582.42" r="0.95" fill="#5a5a5a"/>
<circle cx="73.50" cy="556.49" r="0.95" fill="#5a5a5a"/>
<circle cx="73.80" cy="582.41" r="0.95" fill="#5a5a5a"/>
<circle cx="68.94" cy="533.16" r="0.95" fill="#5a5a5a"/>
<circle cx="68.47" cy="569.30" r="0.95" fill="#5a5a5a"/>
<circle cx="72.31" cy="540.58" r="0.95" fill="#5a5a5a"/>
<circle cx="70.09" cy="550.70" r="0.95" fill="#5a5a5a"/>
<circle cx="73.10" cy="569.56" r="0.95" fill="#5a5a5a"/>
<circle cx="71.45" cy="530.04" r="0.95" fill="#5a5a5a"/>
<circle cx="71.45" cy="586.11" r="0.95" fill="#5a5a5a"/>
<circle cx="71.50" cy="523.45" r="0.95" fill="#444"/>
<line x1="98.40" y1="534.13" x2="98.40" y2="569.20" stroke="#555" stroke-width="0.8"/>
<rect x="88.00" y="542.68" width="20.80" height="16.73" fill="#5b93e5" stroke="#444" stroke-width="0.8"/>
<line x1="88.00" y1="547.13" x2="108.80" y2="547.13" stroke="#222" stroke-width="1.4"/>
<circle cx="97.91" cy="554.07" r="0.95" fill="#5a5a5a"/>
<circle cx="97.01" cy="555.11" r="0.95" fill="#5a5a5a"/>
<circle cx="97.25" cy="556.29" r="0.95" fill="#5a5a5a"/>
<circle cx="100.65" cy="551.54" r="0.95" fill="#5a5a5a"/>
<circle cx="97.84" cy="558.89" r="0.95" fill="#5a5a5a"/>
<circle cx="97.42" cy="546.48" r="0.95" fill="#5a5a5a"/>
<circle cx="96.59" cy="550.34" r="0.95" fill="#5a5a5a"/>
<circle cx="100.45" cy="566.01" r="0.95" fill="#5a5a5a"/>
<circle cx="96.49" cy="559.39" r="0.95" fill="#5a5a5a"/>
<circle cx="95.23" cy="534.91" r="0.95" fill="#5a5a5a"/>
<circle cx="100.30" cy="551.19" r="0.95" fill="#5a5a5a"/>
<circle cx="97.42" cy="551.13" r="0.95" fill="#5a5a5a"/>
<circle cx="98.40" cy="534.13" r="0.95" fill="#5a5a5a"/>
<circle cx="98.40" cy="569.20" r="0.95" fill="#5a5a5a"/>
<circle cx="98.40" cy="586.11" r="0.95" fill="#444"/>
<line x1="146.20" y1="562.08" x2="146.20" y2="607.47" stroke="#555" stroke-width="0.8"/>
<rect x="136.00" y="575.43" width="20.40" height="14.95" fill="#f9d67c" stroke="#444" stroke-width="0.8"/>
<line x1="136.00" y1="581.66" x2="156.40" y2="581.66" stroke="#222" stroke-width="1.4"/>
<circle cx="149.04" cy="595.64" r="0.95" fill="#5a5a5a"/>
<circle cx="147.48" cy="587.17" r="0.95" fill="#5a5a5a"/>
<circle cx="147.07" cy="588.74" r="0.95" fill="#5a5a5a"/>
<circle cx="147.46" cy="578.60" r="0.95" fill="#5a5a5a"/>
<circle cx="145.28" cy="578.97" r="0.95" fill="#5a5a5a"/>
<circle cx="148.70" cy="584.48" r="0.95" fill="#5a5a5a"/>
<circle cx="143.16" cy="577.10" r="0.95" fill="#5a5a5a"/>
<circle cx="148.77" cy="586.45" r="0.95" fill="#5a5a5a"/>
<circle cx="148.66" cy="584.71" r="0.95" fill="#5a5a5a"/>
<circle cx="146.40" cy="583.49" r="0.95" fill="#5a5a5a"/>
<circle cx="147.14" cy="573.29" r="0.95" fill="#5a5a5a"/>
<circle cx="143.99" cy="585.50" r="0.95" fill="#5a5a5a"/>
<circle cx="147.75" cy="577.42" r="0.95" fill="#5a5a5a"/>
<circle cx="147.95" cy="583.82" r="0.95" fill="#5a5a5a"/>
<circle cx="145.96" cy="588.50" r="0.95" fill="#5a5a5a"/>
<circle cx="144.23" cy="596.67" r="0.95" fill="#5a5a5a"/>
<circle cx="148.40" cy="579.87" r="0.95" fill="#5a5a5a"/>
<circle cx="144.58" cy="588.05" r="0.95" fill="#5a5a5a"/>
<circle cx="144.03" cy="582.57" r="0.95" fill="#5a5a5a"/>
<circle cx="149.24" cy="587.55" r="0.95" fill="#5a5a5a"/>
<circle cx="149.16" cy="602.85" r="0.95" fill="#5a5a5a"/>
<circle cx="149.30" cy="584.64" r="0.95" fill="#5a5a5a"/>
<circle cx="145.78" cy="574.19" r="0.95" fill="#5a5a5a"/>
<circle cx="143.68" cy="580.84" r="0.95" fill="#5a5a5a"/>
<circle cx="143.22" cy="584.58" r="0.95" fill="#5a5a5a"/>
<circle cx="147.44" cy="578.55" r="0.95" fill="#5a5a5a"/>
<circle cx="145.96" cy="580.93" r="0.95" fill="#5a5a5a"/>
<circle cx="145.59" cy="581.36" r="0.95" fill="#5a5a5a"/>
<circle cx="145.75" cy="566.26" r="0.95" fill="#5a5a5a"/>
<circle cx="145.70" cy="579.18" r="0.95" fill="#5a5a5a"/>
<circle cx="148.63" cy="579.58" r="0.95" fill="#5a5a5a"/>
<circle cx="148.46" cy="575.69" r="0.95" fill="#5a5a5a"/>
<circle cx="145.90" cy="578.35" r="0.95" fill="#5a5a5a"/>
<circle cx="143.63" cy="580.99" r="0.95" fill="#5a5a5a"/>
<circle cx="147.56" cy="578.68" r="0.95" fill="#5a5a5a"/>
<circle cx="145.71" cy="586.64" r="0.95" fill="#5a5a5a"/>
<circle cx="145.62" cy="581.09" r="0.95" fill="#5a5a5a"/>
<circle cx="144.17" cy="565.25" r="0.95" fill="#5a5a5a"/>
<circle cx="145.49" cy="572.15" r="0.95" fill="#5a5a5a"/>
<circle cx="143.24" cy="575.81" r="0.95" fill="#5a5a5a"/>
<circle cx="148.00" cy="587.98" r="0.95" fill="#5a5a5a"/>
<circle cx="143.65" cy="583.90" r="0.95" fill="#5a5a5a"/>
<circle cx="147.59" cy="582.29" r="0.95" fill="#5a5a5a"/>
<circle cx="148.31" cy="580.82" r="0.95" fill="#5a5a5a"/>
<circle cx="149.07" cy="584.25" r="0.95" fill="#5a5a5a"/>
<circle cx="146.20" cy="562.08" r="0.95" fill="#5a5a5a"/>
<circle cx="146.20" cy="607.47" r="0.95" fill="#5a5a5a"/>
<line x1="173.55" y1="533.60" x2="173.55" y2="591.98" stroke="#555" stroke-width="0.8"/>
<rect x="163.40" y="555.14" width="20.30" height="15.13" fill="#f9d67c" stroke="#444" stroke-width="0.8"/>
<line x1="163.40" y1="561.55" x2="183.70" y2="561.55" stroke="#222" stroke-width="1.4"/>
<circle cx="172.86" cy="559.91" r="0.95" fill="#5a5a5a"/>
<circle cx="176.65" cy="584.84" r="0.95" fill="#5a5a5a"/>
<circle cx="172.11" cy="569.41" r="0.95" fill="#5a5a5a"/>
<circle cx="173.03" cy="570.07" r="0.95" fill="#5a5a5a"/>
<circle cx="172.60" cy="559.70" r="0.95" fill="#5a5a5a"/>
<circle cx="175.10" cy="566.87" r="0.95" fill="#5a5a5a"/>
<circle cx="171.75" cy="561.21" r="0.95" fill="#5a5a5a"/>
<circle cx="171.71" cy="569.10" r="0.95" fill="#5a5a5a"/>
<circle cx="175.53" cy="558.52" r="0.95" fill="#5a5a5a"/>
<circle cx="173.95" cy="563.17" r="0.95" fill="#5a5a5a"/>
<circle cx="172.61" cy="555.68" r="0.95" fill="#5a5a5a"/>
<circle cx="175.57" cy="557.88" r="0.95" fill="#5a5a5a"/>
<circle cx="173.86" cy="565.81" r="0.95" fill="#5a5a5a"/>
<circle cx="172.62" cy="557.65" r="0.95" fill="#5a5a5a"/>
<circle cx="172.76" cy="576.37" r="0.95" fill="#5a5a5a"/>
<circle cx="171.54" cy="563.82" r="0.95" fill="#5a5a5a"/>
<circle cx="172.15" cy="559.35" r="0.95" fill="#5a5a5a"/>
<circle cx="173.42" cy="565.70" r="0.95" fill="#5a5a5a"/>
<circle cx="174.57" cy="560.63" r="0.95" fill="#5a5a5a"/>
<circle cx="175.82" cy="556.22" r="0.95" fill="#5a5a5a"/>
<circle cx="176.15" cy="557.74" r="0.95" fill="#5a5a5a"/>
<circle cx="175.67" cy="583.79" r="0.95" fill="#5a5a5a"/>
<circle cx="170.42" cy="570.04" r="0.95" fill="#5a5a5a"/>
<circle cx="171.95" cy="553.69" r="0.95" fill="#5a5a5a"/>
<circle cx="171.85" cy="568.11" r="0.95" fill="#5a5a5a"/>
<circle cx="171.33" cy="571.76" r="0.95" fill="#5a5a5a"/>
<circle cx="171.42" cy="545.76" r="0.95" fill="#5a5a5a"/>
<circle cx="175.35" cy="556.47" r="0.95" fill="#5a5a5a"/>
<circle cx="175.39" cy="539.79" r="0.95" fill="#5a5a5a"/>
<circle cx="174.78" cy="580.46" r="0.95" fill="#5a5a5a"/>
<circle cx="173.16" cy="559.04" r="0.95" fill="#5a5a5a"/>
<circle cx="172.04" cy="559.58" r="0.95" fill="#5a5a5a"/>
<circle cx="173.51" cy="568.16" r="0.95" fill="#5a5a5a"/>
<circle cx="171.27" cy="563.20" r="0.95" fill="#5a5a5a"/>
<circle cx="173.80" cy="562.73" r="0.95" fill="#5a5a5a"/>
<circle cx="175.73" cy="591.60" r="0.95" fill="#5a5a5a"/>
<circle cx="174.61" cy="561.76" r="0.95" fill="#5a5a5a"/>
<circle cx="173.03" cy="570.09" r="0.95" fill="#5a5a5a"/>
<circle cx="174.43" cy="587.58" r="0.95" fill="#5a5a5a"/>
<circle cx="174.25" cy="569.84" r="0.95" fill="#5a5a5a"/>
<circle cx="172.46" cy="537.60" r="0.95" fill="#5a5a5a"/>
<circle cx="173.45" cy="562.17" r="0.95" fill="#5a5a5a"/>
<circle cx="174.95" cy="590.00" r="0.95" fill="#5a5a5a"/>
<circle cx="175.86" cy="565.14" r="0.95" fill="#5a5a5a"/>
<circle cx="173.71" cy="563.09" r="0.95" fill="#5a5a5a"/>
<circle cx="173.14" cy="579.68" r="0.95" fill="#5a5a5a"/>
<circle cx="175.64" cy="561.89" r="0.95" fill="#5a5a5a"/>
<circle cx="172.93" cy="557.74" r="0.95" fill="#5a5a5a"/>
<circle cx="173.59" cy="566.16" r="0.95" fill="#5a5a5a"/>
<circle cx="175.42" cy="553.77" r="0.95" fill="#5a5a5a"/>
<circle cx="173.55" cy="533.60" r="0.95" fill="#5a5a5a"/>
<circle cx="173.55" cy="591.98" r="0.95" fill="#5a5a5a"/>
<line x1="200.55" y1="522.56" x2="200.55" y2="561.01" stroke="#555" stroke-width="0.8"/>
<rect x="190.40" y="537.52" width="20.30" height="15.13" fill="#f9d67c" stroke="#444" stroke-width="0.8"/>
<line x1="190.40" y1="548.55" x2="210.70" y2="548.55" stroke="#222" stroke-width="1.4"/>
<circle cx="199.27" cy="547.85" r="0.95" fill="#5a5a5a"/>
<circle cx="202.37" cy="543.04" r="0.95" fill="#5a5a5a"/>
<circle cx="203.02" cy="541.71" r="0.95" fill="#5a5a5a"/>
<circle cx="199.27" cy="551.89" r="0.95" fill="#5a5a5a"/>
<circle cx="203.25" cy="549.77" r="0.95" fill="#5a5a5a"/>
<circle cx="202.40" cy="542.69" r="0.95" fill="#5a5a5a"/>
<circle cx="201.30" cy="537.49" r="0.95" fill="#5a5a5a"/>
<circle cx="201.17" cy="542.11" r="0.95" fill="#5a5a5a"/>
<circle cx="201.62" cy="552.84" r="0.95" fill="#5a5a5a"/>
<circle cx="198.00" cy="541.11" r="0.95" fill="#5a5a5a"/>
<circle cx="202.31" cy="552.09" r="0.95" fill="#5a5a5a"/>
<circle cx="199.71" cy="535.80" r="0.95" fill="#5a5a5a"/>
<circle cx="200.55" cy="522.56" r="0.95" fill="#5a5a5a"/>
<circle cx="200.55" cy="561.01" r="0.95" fill="#5a5a5a"/>
<text x="44.5" y="636.2" font-size="8" fill="#111" stroke="#111" stroke-width="0.22" text-anchor="middle">G/G</text>
<text x="71.5" y="636.2" font-size="8" fill="#111" stroke="#111" stroke-width="0.22" text-anchor="middle">G/C</text>
<text x="98.4" y="636.2" font-size="8" fill="#111" stroke="#111" stroke-width="0.22" text-anchor="middle">C/C</text>
<text x="146.4" y="636.2" font-size="8" fill="#111" stroke="#111" stroke-width="0.22" text-anchor="middle">G/G</text>
<text x="173.4" y="636.2" font-size="8" fill="#111" stroke="#111" stroke-width="0.22" text-anchor="middle">G/C</text>
<text x="200.3" y="636.2" font-size="8" fill="#111" stroke="#111" stroke-width="0.22" text-anchor="middle">C/C</text>
<text x="230.9" y="221.8" font-size="14" fill="#000" font-weight="bold" stroke="#000" stroke-width="0.25" text-anchor="start">e</text>
<line x1="260.50" y1="229.00" x2="260.50" y2="304.70" stroke="#555" stroke-width="1.0"/>
<line x1="257.50" y1="304.20" x2="443.00" y2="304.20" stroke="#555" stroke-width="1.0"/>
<text x="255.5" y="306.7" font-size="7" fill="#111" stroke="#111" stroke-width="0.22" text-anchor="end">0</text>
<line x1="257.30" y1="293.53" x2="260.50" y2="293.53" stroke="#555" stroke-width="0.9"/>
<text x="255.5" y="296.0" font-size="7" fill="#111" stroke="#111" stroke-width="0.22" text-anchor="end">2</text>
<line x1="257.30" y1="282.86" x2="260.50" y2="282.86" stroke="#555" stroke-width="0.9"/>
<text x="255.5" y="285.4" font-size="7" fill="#111" stroke="#111" stroke-width="0.22" text-anchor="end">4</text>
<line x1="257.30" y1="272.18" x2="260.50" y2="272.18" stroke="#555" stroke-width="0.9"/>
<text x="255.5" y="274.7" font-size="7" fill="#111" stroke="#111" stroke-width="0.22" text-anchor="end">6</text>
<line x1="257.30" y1="261.51" x2="260.50" y2="261.51" stroke="#555" stroke-width="0.9"/>
<text x="255.5" y="264.0" font-size="7" fill="#111" stroke="#111" stroke-width="0.22" text-anchor="end">8</text>
<line x1="257.30" y1="250.84" x2="260.50" y2="250.84" stroke="#555" stroke-width="0.9"/>
<text x="255.5" y="253.3" font-size="7" fill="#111" stroke="#111" stroke-width="0.22" text-anchor="end">10</text>
<line x1="257.30" y1="240.17" x2="260.50" y2="240.17" stroke="#555" stroke-width="0.9"/>
<text x="255.5" y="242.7" font-size="7" fill="#111" stroke="#111" stroke-width="0.22" text-anchor="end">12</text>
<line x1="257.30" y1="229.50" x2="260.50" y2="229.50" stroke="#555" stroke-width="0.9"/>
<text x="255.5" y="232.0" font-size="7" fill="#111" stroke="#111" stroke-width="0.22" text-anchor="end">14</text>
<text x="265.8" y="236.4" font-size="8.4" fill="#4f94d8" font-weight="bold" stroke="#4f94d8" stroke-width="0.25" text-anchor="start" textLength="39.8" lengthAdjust="spacingAndGlyphs">PBS sQTL</text>
<clipPath id="mc3"><rect x="0" y="184.2" width="685" height="120"/></clipPath><g clip-path="url(#mc3)">
<path d="M265.1 301.1h0M262.3 301.7h0M262.6 300.9h0M265.7 302.5h0M263.8 302.6h0M261.6 300.4h0M263.9 300.2h0M263.2 302.6h0M262.9 301.1h0M265.7 299.8h0M263.4 301.7h0M261.5 301.0h0M262.1 302.4h0M261.1 302.6h0M264.4 302.4h0M265.8 302.5h0M265.3 302.4h0M261.1 300.7h0M262.2 300.8h0M261.9 302.5h0M264.9 301.0h0M265.3 300.6h0M261.4 301.0h0M264.5 301.7h0M265.7 302.1h0M265.8 300.7h0M261.1 302.6h0M264.3 300.6h0M261.4 302.0h0M264.6 302.4h0M265.3 301.4h0M261.3 301.8h0M263.9 301.7h0M275.5 301.2h0M271.1 301.1h0M271.9 301.8h0M277.0 300.8h0M277.0 301.7h0M270.1 302.5h0M279.6 300.2h0M270.6 301.2h0M279.7 300.1h0M274.4 301.9h0M278.4 301.7h0M275.6 301.6h0M278.5 300.3h0M270.0 302.3h0M271.9 301.2h0M277.4 300.9h0M266.6 300.4h0M277.4 301.0h0M274.0 302.2h0M277.9 300.3h0M275.6 300.9h0M270.9 302.5h0M273.8 301.0h0M268.8 301.6h0M279.0 302.1h0M274.5 301.3h0M272.5 302.3h0M269.6 301.6h0M277.1 301.9h0M267.2 300.4h0M276.8 302.3h0M274.1 300.7h0M278.4 301.3h0M272.7 301.5h0M268.6 302.4h0M268.5 301.7h0M271.1 301.3h0M271.6 301.4h0M268.1 302.6h0M280.0 301.7h0M267.5 301.0h0M277.0 302.4h0M274.4 302.1h0M273.3 302.6h0M266.5 299.8h0M278.1 301.4h0M273.9 302.2h0M276.9 302.0h0M279.3 300.4h0M277.5 300.8h0M269.6 302.6h0M268.8 302.4h0M267.2 302.5h0M273.8 300.8h0M272.4 300.0h0M278.7 302.5h0M274.4 301.9h0M267.7 301.2h0M269.6 301.9h0M275.0 300.5h0M275.4 302.0h0M272.3 302.3h0M279.5 299.5h0M269.1 302.6h0M269.6 302.2h0M278.6 299.9h0M277.7 302.5h0M277.0 301.4h0M275.1 300.8h0M266.8 302.4h0M276.6 300.8h0M275.5 302.2h0M274.3 301.1h0M267.5 301.9h0M269.6 302.5h0M284.8 302.2h0M281.4 302.6h0M287.2 302.6h0M289.3 300.1h0M288.7 300.3h0M281.4 301.5h0M281.0 299.7h0M288.4 301.2h0M284.5 302.0h0M288.2 301.6h0M286.3 302.4h0M282.2 302.5h0M287.1 301.4h0M281.4 299.9h0M282.7 301.9h0M281.6 302.0h0M288.4 302.0h0M281.7 301.3h0M283.2 300.7h0M281.1 299.5h0M280.6 299.9h0M286.7 302.3h0M284.8 302.1h0M282.6 302.3h0M283.6 300.4h0M290.0 300.1h0M281.0 302.0h0M289.0 302.5h0M287.3 302.1h0M289.8 302.6h0M288.1 302.0h0M281.4 302.6h0M288.3 301.5h0M281.9 301.5h0M289.1 302.2h0M285.7 302.4h0M281.8 300.3h0M287.1 302.3h0M280.8 302.5h0M286.1 301.6h0M282.7 302.3h0M286.1 301.0h0M288.1 301.3h0M282.0 302.5h0M287.3 301.8h0M287.2 302.5h0M288.1 302.0h0M288.4 300.4h0M284.9 302.6h0M289.1 301.6h0M288.7 302.1h0M281.9 300.1h0M283.7 302.4h0M283.7 301.5h0M280.0 301.3h0M284.5 301.6h0M281.2 300.5h0M288.2 300.4h0M283.2 301.2h0M283.8 301.0h0M280.6 300.0h0M289.5 301.5h0M285.1 301.6h0M285.4 302.6h0M289.7 302.2h0M291.8 302.2h0M298.2 302.5h0M297.0 302.6h0M296.0 301.5h0M295.2 301.1h0M291.0 300.6h0M297.2 302.6h0M291.2 301.7h0M295.0 302.1h0M291.2 301.9h0M291.4 301.4h0M298.6 302.4h0M295.7 301.0h0M291.6 300.8h0M299.4 302.1h0M294.2 300.9h0M294.0 298.9h0M297.8 302.1h0M292.4 302.0h0M294.4 298.7h0M298.0 301.0h0M298.2 301.1h0M290.5 301.6h0M299.6 301.0h0M292.5 301.9h0M296.3 302.0h0M295.3 302.5h0M294.3 301.0h0M290.2 302.4h0M299.7 301.3h0M299.4 301.6h0M298.1 301.0h0M298.8 302.6h0M296.4 302.2h0M296.8 302.2h0M295.4 300.5h0M296.2 302.2h0M295.2 301.8h0M299.5 302.2h0M293.1 300.3h0M291.2 301.4h0M299.6 301.9h0M292.7 301.1h0M295.3 302.4h0M291.2 302.4h0M292.9 301.3h0M292.9 301.9h0M290.9 301.5h0M298.4 301.6h0M295.7 301.3h0M292.0 301.1h0M294.6 300.8h0M296.1 301.7h0M293.1 302.0h0M292.2 301.6h0M293.8 300.6h0M290.1 302.0h0M298.6 302.3h0M295.6 301.7h0M292.8 298.6h0M293.0 299.7h0M291.6 302.5h0M298.7 302.0h0M290.6 301.9h0M294.4 299.9h0M301.6 300.6h0M311.1 302.1h0M305.3 301.0h0M312.7 301.2h0M311.1 301.2h0M311.4 301.8h0M311.8 301.3h0M313.7 302.4h0M313.1 302.6h0M311.5 301.6h0M307.5 299.7h0M308.6 300.7h0M313.1 300.8h0M305.7 301.5h0M306.9 300.6h0M304.4 301.4h0M305.8 301.9h0M311.8 301.0h0M307.5 301.5h0M302.8 302.1h0M302.2 301.6h0M308.7 302.5h0M313.8 301.8h0M312.7 299.9h0M314.4 302.2h0M306.4 299.9h0M300.2 302.6h0M308.5 301.6h0M313.8 300.2h0M308.1 300.1h0M307.8 301.5h0M310.3 302.0h0M305.4 301.0h0M305.3 299.7h0M310.1 301.7h0M301.5 302.0h0M306.0 301.2h0M308.6 300.4h0M314.5 301.3h0M306.6 300.9h0M314.9 301.8h0M308.0 300.7h0M302.6 302.0h0M314.7 300.0h0M307.7 302.5h0M313.4 300.5h0M312.3 300.6h0M313.3 301.5h0M302.3 302.2h0M307.7 301.6h0M302.8 302.3h0M309.5 301.3h0M305.3 299.6h0M309.5 302.6h0M306.2 300.3h0M304.6 301.1h0M300.1 302.1h0M312.6 300.9h0M310.0 302.4h0M307.5 301.2h0M304.0 301.2h0M308.0 300.1h0M308.6 301.8h0M301.8 302.4h0M311.4 302.5h0M301.5 302.4h0M307.8 300.6h0M309.2 300.7h0M300.9 302.6h0M311.6 302.1h0M310.7 302.1h0M302.5 302.2h0M301.5 300.7h0M308.7 302.0h0M306.7 301.7h0M300.8 300.8h0M308.7 300.2h0M306.6 301.0h0M303.7 302.6h0M314.0 299.9h0M304.7 300.4h0M323.2 301.1h0M324.6 301.4h0M324.5 302.1h0M318.9 302.1h0M318.1 299.7h0M319.8 299.9h0M317.4 302.0h0M316.9 300.5h0M317.9 301.0h0M316.1 301.7h0M318.9 301.5h0M315.7 302.5h0M323.3 301.9h0M317.4 302.3h0M317.8 302.1h0M315.3 301.4h0M318.4 302.3h0M322.1 302.2h0M323.4 302.4h0M319.4 299.8h0M323.0 302.3h0M318.5 300.3h0M318.8 299.3h0M317.1 300.6h0M320.0 302.3h0M319.5 302.3h0M322.1 302.2h0M324.0 301.1h0M318.7 302.0h0M321.1 302.3h0M323.7 302.4h0M320.1 301.6h0M317.7 300.2h0M318.8 300.6h0M320.7 302.1h0M318.9 302.5h0M316.8 300.9h0M318.2 300.6h0M316.1 301.6h0M318.6 301.2h0M318.0 302.5h0M318.1 302.1h0M316.3 301.2h0M317.8 301.6h0M324.1 300.5h0M323.8 300.2h0M316.3 302.2h0M315.3 301.4h0M321.6 302.0h0M319.1 300.5h0M322.0 302.2h0M323.5 301.9h0M321.3 302.4h0M316.2 300.7h0M322.3 301.1h0M315.4 302.6h0M316.6 302.3h0M318.0 301.6h0M315.4 302.1h0M321.4 302.4h0M323.4 301.2h0M322.2 302.2h0M319.3 300.4h0M318.5 302.6h0M323.3 300.5h0M327.0 301.0h0M329.3 302.3h0M325.8 301.0h0M326.5 300.8h0M330.2 301.6h0M327.8 301.3h0M330.8 302.3h0M325.6 300.6h0M328.0 300.9h0M329.8 301.5h0M330.8 301.8h0M328.2 302.6h0M329.9 302.1h0M328.6 301.0h0M325.9 301.1h0M325.3 301.2h0M330.6 302.3h0M328.8 300.9h0M329.5 301.9h0M326.7 302.5h0M327.5 302.0h0M326.4 302.1h0M326.0 301.2h0M329.7 302.4h0M326.7 301.7h0M328.1 300.9h0M327.5 302.2h0M331.2 302.5h0M328.9 302.2h0M330.7 301.9h0M330.3 302.4h0M329.7 301.8h0M328.2 301.3h0M330.8 302.5h0M327.0 302.1h0M326.4 302.5h0M327.0 302.4h0M329.9 302.0h0M325.8 302.1h0M328.3 302.1h0M326.2 302.5h0M325.1 300.4h0M330.3 302.5h0M330.0 301.0h0M328.9 302.5h0M350.6 303.0h0M352.6 302.2h0M356.5 301.2h0M356.8 302.8h0M341.3 303.4h0M361.4 302.6h0M339.1 301.4h0M367.2 302.2h0M363.6 302.6h0M339.0 301.5h0M344.2 302.3h0M346.0 302.8h0M333.6 302.0h0M363.1 301.6h0M366.4 301.9h0M350.8 302.4h0M338.0 302.7h0M354.1 303.3h0M358.1 302.7h0M368.9 303.3h0M348.7 302.2h0M332.1 302.2h0M364.5 301.4h0M348.2 302.9h0M357.1 302.2h0M348.0 302.8h0M348.7 302.3h0M363.4 301.1h0M338.2 302.7h0M348.8 302.5h0M345.2 302.9h0M335.2 302.6h0M368.9 302.1h0M364.9 300.9h0M368.5 302.5h0M362.8 303.2h0M383.5 301.9h0M381.4 301.1h0M382.9 301.9h0M376.9 302.6h0M373.8 301.5h0M371.7 301.7h0M381.6 301.3h0M380.6 300.7h0M377.9 302.4h0M387.8 302.4h0M387.2 302.5h0M380.6 301.9h0M379.8 301.6h0M374.5 301.1h0M372.3 301.3h0M381.8 302.5h0M378.2 302.5h0M378.8 300.9h0M381.0 300.1h0M385.1 302.5h0M389.8 300.5h0M372.0 300.2h0M377.8 302.4h0M389.2 301.1h0M385.5 302.4h0M385.5 302.5h0M374.7 301.7h0M370.3 301.1h0M374.3 301.9h0M384.1 301.5h0M387.8 300.9h0M387.4 301.4h0M388.4 299.9h0M373.4 300.4h0M376.8 300.0h0M383.6 300.1h0M372.5 301.7h0M384.7 299.6h0M384.4 302.5h0M382.1 302.4h0M381.0 299.6h0M372.3 299.8h0M383.5 302.1h0M373.9 301.5h0M386.8 301.4h0M372.3 302.6h0M372.2 300.3h0M373.7 301.1h0M375.8 300.4h0M377.6 302.4h0M387.5 301.2h0M383.8 300.2h0M389.0 302.6h0M376.8 302.3h0M380.0 299.3h0M386.0 302.6h0M373.6 300.2h0M383.6 301.6h0M379.5 302.4h0M386.9 301.9h0M387.5 301.3h0M371.5 301.9h0M374.3 299.9h0M381.8 302.5h0M373.4 301.8h0M379.4 301.6h0M377.8 302.1h0M370.1 301.1h0M376.7 302.6h0M379.2 300.6h0M370.9 302.3h0M383.4 302.0h0M375.5 301.1h0M375.2 300.9h0M380.6 298.9h0M389.8 302.6h0M381.2 299.8h0M387.4 300.8h0M382.7 300.8h0M377.3 301.9h0M385.9 300.5h0M388.8 300.7h0M376.1 300.0h0M384.8 301.3h0M382.7 301.8h0M381.0 301.4h0M371.2 301.9h0M376.5 299.0h0M379.6 302.0h0M374.9 302.1h0M377.0 302.3h0M370.1 300.1h0M379.1 301.9h0M381.4 301.8h0M373.4 302.5h0M376.0 301.8h0M384.5 301.1h0M388.7 301.8h0M388.4 301.0h0M371.6 302.3h0M381.6 298.7h0M377.1 300.0h0M378.6 300.9h0M371.4 301.4h0M388.0 302.0h0M375.2 302.6h0M393.3 301.0h0M394.4 301.9h0M394.0 301.3h0M407.3 302.3h0M404.7 300.8h0M391.6 299.4h0M396.8 302.4h0M400.7 300.7h0M408.5 302.2h0M405.0 300.7h0M398.1 301.8h0M391.1 301.4h0M390.9 300.5h0M396.7 301.8h0M402.0 302.0h0M399.3 302.6h0M408.5 301.7h0M409.8 302.6h0M402.3 300.4h0M396.6 302.5h0M393.1 302.4h0M405.3 302.5h0M406.3 301.7h0M400.8 300.9h0M401.1 300.6h0M402.0 301.8h0M404.8 302.0h0M404.2 300.2h0M405.5 302.0h0M405.5 299.9h0M399.1 302.0h0M400.5 299.4h0M392.6 302.6h0M399.5 300.8h0M405.5 301.9h0M409.8 302.3h0M405.1 302.5h0M390.6 302.3h0M391.2 301.1h0M401.1 302.2h0M408.8 302.1h0M393.0 302.3h0M404.8 299.5h0M393.2 302.6h0M405.6 302.2h0M409.6 301.9h0M402.7 301.7h0M406.0 301.6h0M396.5 300.8h0M392.2 300.1h0M391.3 300.5h0M398.0 300.0h0M391.2 300.8h0M398.2 299.8h0M408.9 301.6h0M394.5 302.2h0M395.2 301.9h0M394.6 302.3h0M405.2 301.0h0M396.0 300.5h0M394.3 301.4h0M393.1 300.6h0M407.4 302.1h0M405.0 300.4h0M395.7 302.1h0M399.7 299.9h0M393.2 301.1h0M402.0 301.4h0M401.6 299.7h0M394.2 300.5h0M397.2 301.1h0M407.3 302.3h0M407.3 299.9h0M396.0 302.6h0M392.2 299.0h0M390.2 299.2h0M393.0 301.0h0M392.0 302.2h0M403.7 302.4h0M396.8 300.8h0M404.3 299.7h0M409.6 302.6h0M394.7 300.8h0M403.8 302.6h0M400.1 302.1h0M398.6 302.4h0M390.4 298.8h0M396.3 300.9h0M392.4 301.1h0M392.7 301.8h0M393.6 301.1h0M393.0 300.9h0M400.0 302.4h0M397.1 301.8h0M408.4 302.1h0M394.3 300.3h0M407.7 301.3h0M395.5 302.4h0M395.3 302.5h0M390.9 301.0h0M398.2 301.1h0M397.3 302.6h0M403.8 300.6h0M400.9 301.0h0M403.8 299.2h0M407.5 300.9h0M410.4 302.2h0M411.0 302.6h0M410.4 302.2h0M410.1 300.9h0M410.0 301.6h0M413.8 302.6h0M412.8 302.6h0M412.1 302.6h0M411.7 302.6h0M411.6 302.6h0M414.1 302.4h0M414.8 301.3h0M414.0 302.5h0M414.3 302.3h0M414.5 302.4h0M429.6 301.5h0M427.8 301.9h0M423.9 302.1h0M424.4 300.2h0M420.7 301.7h0M422.9 300.8h0M425.2 301.4h0M423.1 302.1h0M424.2 302.0h0M428.6 302.0h0M425.8 301.6h0M422.1 302.2h0M417.1 301.2h0M422.9 301.1h0M427.2 302.2h0M417.6 301.5h0M424.6 299.8h0M428.4 301.2h0M415.6 301.7h0M427.5 300.8h0M416.8 302.3h0M418.8 302.4h0M420.3 300.5h0M422.8 301.4h0M416.3 301.7h0M430.0 301.6h0M421.7 301.5h0M427.0 301.0h0M417.2 300.7h0M420.5 301.4h0M418.6 301.8h0M420.1 301.8h0M415.3 302.2h0M423.6 302.5h0M417.7 300.7h0M419.1 301.9h0M418.6 300.2h0M416.4 300.9h0M427.9 302.4h0M421.3 300.5h0M424.3 301.6h0M415.7 301.5h0M420.5 300.8h0M419.4 301.7h0M424.7 299.9h0M420.3 301.8h0M423.7 299.4h0M417.9 299.7h0M425.7 302.0h0M425.0 301.8h0M416.1 300.4h0M420.7 301.4h0M422.4 300.1h0M426.4 302.6h0M423.9 301.3h0M421.9 300.3h0M421.2 301.5h0M428.4 302.0h0M422.4 301.4h0M427.4 301.2h0M426.1 301.9h0M415.6 300.7h0M423.3 300.1h0M426.5 302.5h0M418.3 302.5h0M427.3 302.5h0M416.3 300.4h0M423.5 302.5h0M425.2 301.2h0M422.2 302.5h0M425.4 301.9h0M423.8 299.1h0M427.3 300.7h0M431.9 301.5h0M430.1 300.3h0M433.6 302.0h0M433.3 300.4h0M437.2 301.4h0M430.7 302.1h0M441.3 298.2h0M433.3 302.3h0M430.7 301.5h0M434.9 301.6h0M436.4 300.8h0M434.8 300.5h0M432.6 300.3h0M437.2 302.5h0M434.1 301.4h0M435.3 300.9h0M434.2 302.1h0M440.3 301.5h0M439.2 300.1h0M435.9 299.3h0M435.8 299.6h0M430.8 301.8h0M438.3 302.5h0M441.2 302.4h0M437.8 302.1h0M442.0 300.0h0M440.4 300.5h0M438.8 299.6h0M433.8 302.2h0M440.9 302.2h0M441.9 301.9h0M431.3 302.5h0M440.2 297.7h0M435.4 300.5h0M433.3 300.3h0M438.9 302.2h0M430.7 301.1h0M430.5 300.7h0M433.8 302.2h0M437.6 301.5h0M437.3 302.3h0M441.9 301.3h0M440.9 302.1h0M440.4 297.5h0M435.1 302.6h0M434.9 301.0h0M432.9 301.4h0M431.2 301.7h0M439.5 300.9h0M438.8 302.3h0M440.8 302.3h0M442.0 297.1h0M442.2 300.2h0M433.8 301.9h0M439.8 300.5h0M442.1 302.3h0M436.3 299.6h0M437.8 300.5h0M431.1 302.4h0M433.5 300.3h0M441.0 301.8h0M442.0 302.5h0M437.8 298.0h0M434.5 300.0h0M438.5 302.5h0M434.3 301.6h0M433.2 300.8h0M432.3 300.6h0M433.9 302.5h0M437.3 302.4h0M437.2 299.8h0M437.7 300.9h0M430.4 301.6h0M431.3 301.2h0M431.7 301.3h0M434.6 301.8h0M438.6 302.1h0M432.2 300.1h0M434.3 300.4h0M441.4 300.5h0M431.9 302.5h0M441.4 302.3h0M436.4 301.0h0M431.5 301.6h0M432.1 301.4h0M436.6 301.6h0M432.6 301.8h0M432.6 302.4h0M433.1 300.4h0M436.5 299.4h0M430.2 300.4h0M436.3 299.9h0M437.4 300.2h0M433.0 300.8h0M290.0 298.3h0M293.0 297.8h0M442.0 296.7h0M441.0 293.5h0M332.3 275.4h0M333.6 274.3h0M374.7 283.4h0M383.6 282.9h0M386.4 288.7h0M395.9 285.0h0M395.9 287.1h0M411.5 282.3h0M420.6 287.7h0M420.6 291.4h0M441.5 292.5h0M346.6 294.6h0M331.4 296.7h0M339.0 298.9h0M357.0 297.8h0M404.0 296.7h0" stroke="#222a7c" stroke-width="3.5" stroke-linecap="round" fill="none"/>
<path d="M349.4 242.8h0M360.8 245.0h0M361.8 248.7h0M365.5 250.8h0M364.0 255.1h0M370.3 246.6h0M375.0 250.3h0M379.8 250.3h0M382.0 250.3h0M385.5 250.3h0M391.2 252.4h0M397.8 250.8h0M400.0 250.8h0M402.6 250.8h0M402.6 253.0h0M414.0 251.4h0M416.0 251.4h0M417.7 251.4h0M408.8 260.4h0M350.4 254.6h0M344.7 256.7h0M328.5 269.0h0M334.2 269.5h0M344.3 267.9h0M339.5 277.5h0M339.9 282.3h0M336.7 289.8h0M335.5 289.8h0M428.2 292.5h0M431.6 296.2h0M327.0 271.1h0M362.0 256.2h0" stroke="#8fcdf0" stroke-width="3.5" stroke-linecap="round" fill="none"/>
<path d="M341.3 259.9h0" stroke="#3e9a4b" stroke-width="3.5" stroke-linecap="round" fill="none"/>
<path d="M342.8 253.5h0M344.2 254.6h0M396.9 243.4h0M416.5 243.4h0" stroke="#f2a234" stroke-width="3.5" stroke-linecap="round" fill="none"/>
<path d="M345.6 237.5h0M351.9 242.8h0M353.2 247.6h0M360.2 242.3h0M367.8 242.3h0M372.2 247.1h0M376.0 242.8h0M384.5 237.0h0M391.2 240.2h0M396.9 239.6h0M407.7 242.8h0M407.3 248.2h0M413.0 243.9h0M415.8 243.9h0M420.6 253.5h0M395.9 248.2h0M397.8 248.2h0M399.7 248.2h0M388.3 244.4h0M389.5 244.4h0M390.7 244.4h0M391.9 244.4h0M393.1 244.4h0M394.3 244.4h0M395.5 244.4h0M396.7 244.4h0M397.9 244.4h0M399.1 244.4h0M400.3 244.4h0M401.5 244.4h0M402.7 244.4h0" stroke="#e23b2e" stroke-width="3.5" stroke-linecap="round" fill="none"/>
</g>
<polygon points="347.75,241.04 354.85,241.04 351.30,234.16" fill="#e23b2e" stroke="#111" stroke-width="1"/>
<text x="329.5" y="227.6" font-size="8" fill="#111" stroke="#111" stroke-width="0.22" text-anchor="start" textLength="40.8" lengthAdjust="spacingAndGlyphs">rs2237679</text>
<line x1="260.50" y1="320.15" x2="260.50" y2="395.70" stroke="#555" stroke-width="1.0"/>
<line x1="257.50" y1="395.20" x2="443.00" y2="395.20" stroke="#555" stroke-width="1.0"/>
<text x="255.5" y="397.7" font-size="7" fill="#111" stroke="#111" stroke-width="0.22" text-anchor="end">0</text>
<line x1="257.30" y1="384.55" x2="260.50" y2="384.55" stroke="#555" stroke-width="0.9"/>
<text x="255.5" y="387.1" font-size="7" fill="#111" stroke="#111" stroke-width="0.22" text-anchor="end">2</text>
<line x1="257.30" y1="373.90" x2="260.50" y2="373.90" stroke="#555" stroke-width="0.9"/>
<text x="255.5" y="376.4" font-size="7" fill="#111" stroke="#111" stroke-width="0.22" text-anchor="end">4</text>
<line x1="257.30" y1="363.25" x2="260.50" y2="363.25" stroke="#555" stroke-width="0.9"/>
<text x="255.5" y="365.8" font-size="7" fill="#111" stroke="#111" stroke-width="0.22" text-anchor="end">6</text>
<line x1="257.30" y1="352.60" x2="260.50" y2="352.60" stroke="#555" stroke-width="0.9"/>
<text x="255.5" y="355.1" font-size="7" fill="#111" stroke="#111" stroke-width="0.22" text-anchor="end">8</text>
<line x1="257.30" y1="341.95" x2="260.50" y2="341.95" stroke="#555" stroke-width="0.9"/>
<text x="255.5" y="344.4" font-size="7" fill="#111" stroke="#111" stroke-width="0.22" text-anchor="end">10</text>
<line x1="257.30" y1="331.30" x2="260.50" y2="331.30" stroke="#555" stroke-width="0.9"/>
<text x="255.5" y="333.8" font-size="7" fill="#111" stroke="#111" stroke-width="0.22" text-anchor="end">12</text>
<line x1="257.30" y1="320.65" x2="260.50" y2="320.65" stroke="#555" stroke-width="0.9"/>
<text x="255.5" y="323.1" font-size="7" fill="#111" stroke="#111" stroke-width="0.22" text-anchor="end">14</text>
<text x="266.0" y="327.6" font-size="8.4" fill="#dca52a" font-weight="bold" stroke="#dca52a" stroke-width="0.25" text-anchor="start" textLength="42.0" lengthAdjust="spacingAndGlyphs">FN−f sQTL</text>
<clipPath id="mc4"><rect x="0" y="275.2" width="685" height="120"/></clipPath><g clip-path="url(#mc4)">
<path d="M265.5 393.9h0M261.9 393.8h0M276.0 394.1h0M286.8 394.3h0M277.8 394.0h0M278.3 392.5h0M281.6 394.3h0M268.1 393.6h0M289.5 394.4h0M278.9 392.8h0M284.6 394.0h0M284.5 393.8h0M287.7 394.4h0M288.3 393.9h0M272.8 394.3h0M268.1 393.4h0M280.7 394.2h0M271.0 394.2h0M266.7 394.0h0M270.6 391.8h0M289.9 393.2h0M274.9 393.6h0M283.6 392.9h0M282.8 393.5h0M266.8 392.8h0M285.5 393.2h0M263.7 392.9h0M271.1 394.2h0M289.0 393.4h0M282.6 394.3h0M285.0 392.9h0M287.2 393.3h0M285.1 393.1h0M278.1 393.5h0M284.9 393.2h0M286.3 394.1h0M288.9 393.7h0M288.4 394.3h0M289.1 393.2h0M268.3 393.2h0M267.7 394.2h0M274.3 394.1h0M275.3 392.9h0M280.9 392.8h0M272.4 392.5h0M284.0 393.4h0M288.3 393.1h0M272.8 394.3h0M279.9 392.3h0M270.8 393.1h0M285.3 393.2h0M261.1 393.6h0M261.5 394.3h0M284.6 393.9h0M278.5 393.5h0M270.7 394.0h0M271.3 392.3h0M279.0 393.9h0M263.6 394.0h0M281.3 393.5h0M280.2 392.5h0M264.5 393.0h0M262.2 392.8h0M266.3 393.9h0M288.8 394.0h0M267.5 393.1h0M278.7 392.1h0M272.4 393.3h0M288.7 393.7h0M289.7 394.2h0M285.1 394.2h0M276.3 394.4h0M266.1 391.6h0M274.2 392.9h0M268.3 394.0h0M263.9 393.3h0M286.0 393.7h0M271.9 392.0h0M286.9 393.4h0M263.2 393.1h0M273.9 392.5h0M271.5 392.9h0M279.3 393.7h0M276.1 393.4h0M287.3 393.7h0M271.5 391.9h0M262.7 392.5h0M280.8 393.2h0M274.0 393.0h0M286.8 393.3h0M282.7 394.4h0M270.4 394.2h0M288.6 392.9h0M265.2 392.9h0M277.7 394.4h0M272.4 392.6h0M279.6 393.9h0M283.1 394.1h0M276.8 393.9h0M289.4 393.4h0M284.3 393.4h0M272.0 391.9h0M281.6 392.8h0M269.0 394.3h0M277.7 392.3h0M284.0 394.0h0M265.1 393.1h0M286.4 394.2h0M282.4 394.1h0M270.0 394.3h0M269.6 394.0h0M289.0 392.8h0M266.4 393.8h0M288.4 394.2h0M270.3 393.5h0M264.1 394.0h0M272.4 393.6h0M288.9 394.1h0M266.9 391.8h0M274.1 392.8h0M279.5 392.5h0M270.1 394.2h0M283.0 393.8h0M277.2 393.4h0M320.1 394.1h0M304.5 392.5h0M311.2 394.1h0M315.2 394.1h0M320.9 394.4h0M323.1 393.4h0M304.1 392.5h0M300.6 394.1h0M292.8 393.2h0M320.1 393.4h0M306.5 392.4h0M294.5 393.8h0M315.8 392.7h0M315.4 393.3h0M321.0 393.9h0M327.6 393.3h0M303.7 393.8h0M322.2 394.0h0M297.4 393.0h0M311.3 393.7h0M316.8 392.8h0M295.3 394.0h0M292.6 393.5h0M310.1 393.0h0M316.7 393.5h0M306.1 393.1h0M301.0 393.0h0M321.5 393.1h0M296.0 393.4h0M320.2 393.7h0M325.9 393.0h0M319.7 392.2h0M316.0 392.9h0M295.3 393.3h0M318.2 392.9h0M301.0 394.3h0M314.1 392.1h0M300.9 394.2h0M299.0 394.3h0M317.0 392.7h0M322.1 394.0h0M318.0 394.3h0M323.5 393.9h0M290.1 393.6h0M295.6 394.1h0M292.4 393.9h0M312.2 393.1h0M291.6 393.2h0M294.4 394.0h0M315.2 394.0h0M303.2 393.4h0M298.7 393.3h0M298.4 393.3h0M322.3 393.7h0M291.2 393.3h0M291.1 393.8h0M307.0 394.3h0M315.2 393.2h0M313.4 393.5h0M310.5 393.5h0M299.1 393.2h0M329.8 393.2h0M328.5 394.0h0M329.5 394.3h0M309.1 394.2h0M308.2 393.1h0M318.3 393.4h0M303.7 394.2h0M306.1 393.9h0M297.8 393.5h0M310.6 393.8h0M297.9 393.5h0M297.9 394.1h0M312.4 393.3h0M328.9 393.3h0M327.9 392.9h0M318.9 392.6h0M292.5 394.1h0M290.5 393.2h0M318.9 392.9h0M300.6 393.9h0M296.5 393.5h0M329.7 394.0h0M291.8 394.2h0M304.2 392.6h0M322.2 393.8h0M294.1 394.3h0M296.2 393.2h0M308.9 392.3h0M326.5 393.2h0M309.0 392.7h0M295.1 394.3h0M312.5 393.2h0M298.4 394.2h0M290.8 393.1h0M318.4 391.8h0M329.2 393.8h0M319.3 393.6h0M322.5 393.1h0M295.4 394.4h0M298.6 393.7h0M305.2 394.4h0M323.2 392.9h0M308.5 394.4h0M325.6 393.7h0M292.8 393.8h0M315.0 391.9h0M309.4 393.2h0M298.2 394.2h0M326.2 393.9h0M294.2 393.0h0M295.0 394.2h0M308.3 393.3h0M315.5 393.3h0M307.6 394.3h0M319.0 394.3h0M308.8 393.7h0M316.9 393.2h0M299.6 393.6h0M317.7 393.4h0M295.7 392.9h0M314.0 394.3h0M299.5 393.0h0M299.1 394.0h0M321.5 393.1h0M315.4 393.2h0M291.5 394.3h0M329.0 393.2h0M291.5 394.4h0M299.6 393.1h0M298.8 393.6h0M327.2 393.5h0M326.8 394.1h0M296.1 394.4h0M320.3 394.3h0M328.9 393.4h0M297.5 393.1h0M296.5 393.7h0M294.2 392.4h0M325.6 393.0h0M290.1 393.2h0M312.2 393.1h0M310.1 393.5h0M313.8 392.2h0M293.1 394.3h0M311.8 394.1h0M305.9 394.4h0M319.8 394.4h0M323.2 392.8h0M308.3 394.3h0M316.0 394.2h0M307.2 394.3h0M329.1 393.7h0M304.1 394.3h0M319.2 392.1h0M323.9 394.3h0M304.7 394.0h0M320.5 394.3h0M314.3 391.6h0M320.8 394.4h0M293.0 394.2h0M317.7 393.0h0M310.8 393.8h0M306.3 393.0h0M315.9 392.8h0M319.3 392.3h0M326.5 393.1h0M318.7 394.4h0M317.2 392.9h0M307.2 392.2h0M297.2 392.8h0M343.3 393.1h0M337.6 393.8h0M340.5 394.0h0M332.8 393.5h0M359.4 393.5h0M358.0 393.3h0M355.1 392.0h0M352.6 394.1h0M337.5 393.7h0M330.6 394.1h0M356.6 392.3h0M339.9 392.5h0M353.2 393.2h0M353.8 393.8h0M333.1 392.4h0M339.4 393.0h0M341.0 393.6h0M359.0 394.3h0M345.9 392.8h0M346.2 391.8h0M342.2 392.9h0M350.7 392.4h0M332.7 394.1h0M338.6 392.1h0M330.4 394.1h0M351.5 392.3h0M335.3 393.7h0M350.6 393.1h0M352.4 392.9h0M337.5 394.0h0M330.8 393.3h0M336.3 394.0h0M358.9 393.5h0M347.7 393.4h0M347.9 393.3h0M339.1 394.3h0M332.0 394.4h0M340.8 394.3h0M333.4 393.4h0M359.1 393.4h0M338.2 392.5h0M335.3 394.3h0M339.1 393.6h0M350.7 393.7h0M351.8 394.3h0M358.0 394.0h0M355.0 394.4h0M354.9 394.2h0M355.7 392.6h0M350.1 394.0h0M330.3 394.2h0M357.1 394.2h0M349.8 393.5h0M349.8 394.2h0M334.3 394.3h0M359.5 393.9h0M349.6 393.6h0M336.7 394.3h0M330.4 393.0h0M333.9 391.9h0M340.9 393.3h0M334.2 392.5h0M337.5 393.7h0M345.7 394.2h0M337.4 392.8h0M338.6 393.6h0M352.9 394.2h0M335.8 394.1h0M341.5 393.9h0M349.2 393.7h0M356.1 394.4h0M349.9 393.0h0M337.0 394.4h0M343.2 394.3h0M343.8 393.1h0M332.8 394.2h0M344.4 394.2h0M336.9 393.7h0M333.5 394.3h0M340.8 393.8h0M358.1 393.7h0M332.1 394.2h0M352.3 393.4h0M356.1 392.1h0M355.7 394.3h0M358.3 393.7h0M337.2 394.2h0M355.9 394.1h0M332.5 394.1h0M357.7 393.8h0M351.9 394.3h0M343.6 393.9h0M336.2 393.2h0M340.8 394.3h0M359.5 393.8h0M335.4 394.4h0M349.6 393.7h0M330.7 393.8h0M352.2 393.5h0M337.0 393.6h0M348.1 393.4h0M334.4 392.5h0M358.4 393.3h0M355.7 393.8h0M357.1 394.1h0M336.8 393.3h0M357.0 394.3h0M336.5 394.4h0M343.2 394.2h0M335.7 393.0h0M347.5 391.8h0M342.1 393.4h0M330.4 392.8h0M337.0 393.6h0M345.3 391.7h0M344.8 392.3h0M348.6 394.2h0M355.0 394.1h0M360.0 393.8h0M336.8 392.4h0M339.7 393.6h0M340.3 393.4h0M330.7 393.9h0M334.9 392.4h0M330.0 393.5h0M337.7 393.4h0M346.9 392.6h0M334.1 394.0h0M364.8 392.0h0M366.0 394.3h0M380.9 392.9h0M395.5 394.4h0M369.4 394.3h0M383.4 393.5h0M376.4 391.9h0M386.5 392.8h0M398.3 393.9h0M397.7 393.5h0M362.1 392.0h0M364.2 394.4h0M371.6 393.9h0M398.7 392.0h0M376.8 393.1h0M394.0 392.9h0M386.1 393.6h0M364.7 394.0h0M386.3 393.4h0M392.0 391.8h0M398.5 394.1h0M363.0 392.2h0M382.8 394.1h0M387.7 394.0h0M369.5 394.0h0M381.0 392.5h0M362.9 392.7h0M385.0 393.4h0M386.9 393.0h0M360.4 393.4h0M387.1 393.2h0M385.9 394.2h0M398.3 392.3h0M369.3 393.9h0M398.3 394.0h0M376.4 391.6h0M396.0 394.1h0M389.4 393.7h0M386.5 393.0h0M365.1 394.2h0M368.6 394.1h0M361.4 394.2h0M376.2 393.4h0M363.1 393.1h0M397.7 393.0h0M374.2 392.8h0M377.5 394.1h0M379.3 394.4h0M387.0 394.2h0M374.8 392.0h0M390.7 392.0h0M385.7 393.3h0M388.2 392.0h0M367.9 393.3h0M372.0 394.0h0M392.9 393.4h0M394.0 392.7h0M383.6 394.1h0M360.6 393.2h0M389.0 393.9h0M362.8 394.4h0M366.9 393.4h0M360.2 394.0h0M370.6 392.8h0M399.5 394.4h0M364.6 392.1h0M398.8 394.2h0M373.4 393.3h0M372.8 393.6h0M379.2 394.1h0M362.2 394.3h0M366.5 394.3h0M385.0 392.8h0M370.5 392.6h0M389.2 393.8h0M379.7 394.2h0M397.2 393.6h0M362.1 394.2h0M387.7 393.7h0M388.7 394.0h0M391.9 392.1h0M363.8 393.1h0M367.7 393.4h0M392.2 392.2h0M369.2 394.3h0M386.5 393.5h0M365.5 394.2h0M383.3 394.3h0M385.4 394.1h0M370.3 393.6h0M381.3 392.3h0M361.2 392.6h0M368.8 394.1h0M385.6 393.2h0M384.6 392.2h0M368.2 394.1h0M386.5 394.1h0M366.3 394.2h0M390.9 392.1h0M388.7 392.0h0M391.8 393.7h0M372.6 392.7h0M362.2 393.0h0M363.6 394.4h0M380.5 394.1h0M397.3 392.9h0M378.5 394.2h0M364.8 393.3h0M380.9 393.6h0M388.7 393.3h0M391.0 394.2h0M362.8 393.7h0M379.3 394.1h0M386.7 394.1h0M372.7 393.4h0M388.5 392.6h0M374.9 393.5h0M397.1 392.8h0M384.7 394.3h0M378.2 393.5h0M371.1 394.4h0M399.2 391.9h0M365.2 393.8h0M384.8 393.9h0M362.7 392.6h0M390.8 393.4h0M363.4 393.6h0M363.8 392.0h0M362.0 393.9h0M390.7 394.2h0M364.3 394.3h0M366.6 393.7h0M393.3 394.2h0M366.9 393.2h0M377.0 393.7h0M364.9 394.0h0M398.9 394.2h0M370.4 392.7h0M395.7 392.8h0M378.9 392.9h0M384.2 393.9h0M378.6 393.3h0M389.4 394.2h0M367.7 393.0h0M364.3 392.4h0M373.6 394.0h0M370.2 393.5h0M399.6 394.2h0M394.2 393.9h0M366.9 393.3h0M373.7 394.1h0M376.7 392.1h0M394.5 393.4h0M360.4 392.5h0M384.3 392.2h0M398.1 393.7h0M393.9 392.8h0M370.6 393.7h0M375.0 393.7h0M375.1 394.2h0M369.1 393.1h0M376.4 392.8h0M395.5 393.2h0M369.8 393.0h0M392.2 391.4h0M389.1 392.7h0M392.5 394.1h0M386.2 393.9h0M393.6 394.3h0M381.6 393.6h0M392.8 393.9h0M436.3 391.8h0M437.8 394.1h0M440.3 391.7h0M429.1 393.3h0M402.1 391.7h0M423.6 392.9h0M414.6 392.8h0M433.6 392.3h0M409.2 393.9h0M410.7 394.3h0M414.1 394.4h0M434.3 394.0h0M403.0 394.3h0M431.9 394.1h0M419.9 393.3h0M434.5 392.0h0M413.3 393.2h0M438.5 392.9h0M438.7 391.8h0M413.4 392.5h0M424.7 394.2h0M425.3 392.4h0M422.3 393.1h0M417.9 391.4h0M428.6 394.2h0M415.6 393.4h0M441.2 391.9h0M405.4 391.8h0M401.5 392.8h0M418.6 392.1h0M418.5 394.2h0M422.5 391.3h0M433.9 393.7h0M409.6 393.0h0M434.5 394.0h0M438.0 390.5h0M418.6 393.4h0M430.5 392.0h0M408.7 394.0h0M414.1 392.9h0M408.0 393.5h0M421.5 392.4h0M406.2 391.6h0M443.0 391.9h0M407.9 392.6h0M423.7 391.6h0M437.3 393.5h0M439.7 393.9h0M401.0 393.1h0M438.6 391.0h0M441.1 392.7h0M440.1 392.5h0M406.2 392.8h0M434.5 393.6h0M425.9 394.0h0M411.9 393.6h0M422.1 393.1h0M404.0 394.4h0M414.6 392.9h0M432.2 394.0h0M411.0 393.4h0M407.5 393.3h0M438.9 393.9h0M425.2 392.7h0M432.2 392.7h0M430.6 393.9h0M436.0 391.5h0M402.3 391.4h0M419.0 394.3h0M403.0 391.8h0M429.1 394.3h0M419.8 392.4h0M442.9 393.6h0M433.0 394.0h0M408.6 394.2h0M417.6 392.5h0M413.0 394.2h0M409.4 394.3h0M408.3 393.9h0M421.7 394.0h0M420.6 393.3h0M441.8 392.8h0M440.6 392.9h0M408.5 393.3h0M406.2 394.1h0M403.2 392.2h0M441.6 393.2h0M415.2 393.2h0M415.1 392.1h0M416.9 394.1h0M437.2 392.8h0M400.3 391.8h0M431.3 393.7h0M427.1 392.1h0M417.3 393.1h0M412.8 393.4h0M428.5 393.1h0M440.8 394.1h0M415.7 391.4h0M434.0 393.1h0M429.1 393.9h0M440.6 392.6h0M417.3 394.0h0M405.0 391.4h0M434.4 394.4h0M413.9 393.5h0M421.3 393.5h0M438.5 393.4h0M422.9 390.7h0M427.5 393.4h0M414.3 393.7h0M426.2 392.5h0M411.2 393.8h0M416.7 393.4h0M439.3 392.6h0M411.9 393.8h0M435.3 394.1h0M429.7 394.4h0M408.3 394.3h0M434.6 394.2h0M409.8 394.3h0M411.3 392.8h0M431.0 392.0h0M440.7 392.6h0M439.6 394.2h0M439.8 393.1h0M408.3 393.0h0M436.9 393.5h0M404.0 391.5h0M432.4 393.0h0M442.0 394.3h0M402.4 394.2h0M400.9 392.3h0M427.1 394.3h0M407.0 394.1h0M426.2 392.9h0M441.7 393.3h0M442.1 393.0h0M416.8 393.8h0M410.0 392.2h0M442.8 392.2h0M407.5 394.2h0M406.5 393.7h0M431.7 394.3h0M422.8 392.0h0M401.4 393.3h0M434.0 393.2h0M419.4 391.4h0M425.8 393.8h0M417.0 390.9h0M437.0 391.6h0M424.1 394.1h0M407.5 393.8h0M429.7 394.4h0M434.5 392.5h0M422.1 394.4h0M434.3 393.6h0M428.8 393.5h0M431.3 393.6h0M441.3 390.6h0M439.9 392.3h0M413.6 393.8h0M411.6 392.3h0M434.1 392.5h0M435.3 391.3h0M429.6 394.0h0M432.6 394.0h0M426.3 394.2h0M436.9 393.1h0M411.8 392.3h0M403.6 391.2h0M432.5 394.2h0M432.7 393.2h0M439.0 392.4h0M418.4 391.2h0M403.8 391.9h0M404.4 393.7h0M404.9 391.5h0M419.0 392.1h0M411.0 392.8h0M427.9 394.3h0M421.2 392.2h0M409.2 393.2h0M411.9 393.8h0M439.6 390.7h0M442.9 393.3h0M424.6 391.3h0M432.6 393.5h0M437.1 393.4h0M440.9 392.9h0M405.1 392.4h0M406.2 392.6h0M402.3 391.2h0M423.3 391.7h0M405.6 392.8h0M416.2 393.8h0M435.0 394.4h0M420.6 394.3h0M436.6 391.6h0M401.5 393.2h0M420.2 392.2h0M431.4 393.7h0M440.1 394.0h0M405.9 392.2h0M405.2 394.1h0M421.5 393.6h0M407.0 391.7h0M420.4 392.0h0M410.8 392.3h0M409.5 392.6h0M426.4 391.9h0M433.2 393.0h0M422.9 391.1h0M419.1 394.2h0M439.3 391.4h0M429.3 393.1h0M410.0 393.6h0M435.4 391.4h0M439.7 394.0h0M429.4 393.5h0M417.4 394.0h0M405.9 393.3h0M421.2 393.8h0M415.8 392.7h0M432.8 393.1h0M407.0 391.9h0M415.8 390.9h0M442.2 394.1h0M425.0 392.0h0M266.7 388.5h0M286.4 388.5h0M416.2 385.3h0M330.0 389.9h0M352.0 389.9h0M362.0 389.3h0M380.0 390.4h0M398.0 390.4h0M409.0 390.1h0M425.0 389.9h0" stroke="#222a7c" stroke-width="3.5" stroke-linecap="round" fill="none"/>
<path d="M363.0 392.6h0M356.1 394.6h0M345.6 394.2h0M353.3 392.3h0M380.1 391.1h0M391.8 393.3h0M417.1 392.3h0M378.2 391.5h0M390.3 393.3h0M384.1 393.5h0M419.0 393.8h0M419.4 394.4h0M326.9 392.6h0M345.8 392.8h0M337.3 391.5h0M390.2 392.1h0M415.0 391.0h0M391.1 392.0h0M326.2 394.5h0M366.9 391.1h0M356.0 392.5h0M326.8 393.1h0M412.6 392.5h0M405.1 394.6h0M345.5 394.0h0M405.9 394.3h0M415.5 393.7h0M410.5 392.7h0M357.1 391.1h0M364.9 392.1h0M332.5 391.6h0M420.2 394.3h0M343.9 385.3h0M352.0 390.4h0" stroke="#8fcdf0" stroke-width="3.5" stroke-linecap="round" fill="none"/>
<path d="M342.6 394.9h0M347.1 393.8h0M342.3 393.6h0M351.1 394.4h0M340.2 394.2h0" stroke="#f2a234" stroke-width="3.5" stroke-linecap="round" fill="none"/>
<path d="M404.5 394.1h0M363.2 393.9h0M398.7 392.6h0M421.6 392.6h0M396.0 393.3h0M364.1 393.1h0M391.0 393.9h0M415.1 394.1h0M362.8 394.3h0M363.3 393.4h0M408.3 394.3h0M387.7 393.4h0M391.7 393.8h0M390.5 394.6h0M357.0 393.8h0M369.3 393.1h0M369.7 392.9h0M369.7 394.5h0M385.9 393.8h0M376.2 393.0h0M368.3 393.2h0M410.6 393.7h0M387.7 392.7h0M394.7 394.3h0M357.8 394.5h0" stroke="#e23b2e" stroke-width="3.5" stroke-linecap="round" fill="none"/>
</g>
<polygon points="347.95,394.94 355.05,394.94 351.50,388.06" fill="#e23b2e" stroke="#111" stroke-width="1"/>
<text x="252.0" y="418.0" font-size="8" fill="#aaa" stroke="#aaa" stroke-width="0.22" text-anchor="middle">+</text>
<text x="252.0" y="428.0" font-size="8" fill="#aaa" stroke="#aaa" stroke-width="0.22" text-anchor="middle">−</text>
<line x1="260.20" y1="415.50" x2="292.60" y2="415.50" stroke="#c0c0c0" stroke-width="1.7"/>
<rect x="260.10" y="411.90" width="2.90" height="7.20" fill="#c0c0c0"/>
<rect x="266.00" y="411.90" width="1.10" height="7.20" fill="#c0c0c0"/>
<rect x="278.00" y="411.90" width="2.20" height="7.20" fill="#c0c0c0"/>
<rect x="281.60" y="411.90" width="1.50" height="7.20" fill="#c0c0c0"/>
<rect x="284.20" y="411.90" width="2.60" height="7.20" fill="#c0c0c0"/>
<rect x="292.00" y="411.90" width="0.80" height="7.20" fill="#c0c0c0"/>
<text x="263.8" y="409.7" font-size="7.2" fill="#999" font-style="italic" stroke="#999" stroke-width="0.22" text-anchor="start" textLength="27.0" lengthAdjust="spacingAndGlyphs">BCAP29</text>
<line x1="312.00" y1="424.50" x2="323.00" y2="424.50" stroke="#c0c0c0" stroke-width="1.2"/>
<rect x="312.00" y="423.20" width="11.00" height="2.60" fill="#c0c0c0"/>
<text x="294.5" y="436.2" font-size="7.2" fill="#999" font-style="italic" stroke="#999" stroke-width="0.22" text-anchor="start" textLength="48.2" lengthAdjust="spacingAndGlyphs">SLC26A4−AS1</text>
<line x1="321.50" y1="415.10" x2="373.00" y2="415.10" stroke="#2d9fdc" stroke-width="1.7"/>
<rect x="321.50" y="411.50" width="3.10" height="7.20" fill="#2d9fdc"/>
<rect x="331.10" y="411.50" width="3.50" height="7.20" fill="#2d9fdc"/>
<rect x="341.60" y="411.50" width="1.40" height="7.20" fill="#2d9fdc"/>
<rect x="347.30" y="411.50" width="1.30" height="7.20" fill="#2d9fdc"/>
<rect x="350.40" y="411.50" width="2.60" height="7.20" fill="#2d9fdc"/>
<rect x="353.90" y="411.50" width="2.60" height="7.20" fill="#2d9fdc"/>
<rect x="357.00" y="411.50" width="2.20" height="7.20" fill="#2d9fdc"/>
<rect x="360.00" y="411.50" width="1.80" height="7.20" fill="#2d9fdc"/>
<rect x="365.70" y="411.50" width="1.30" height="7.20" fill="#2d9fdc"/>
<rect x="368.40" y="411.50" width="1.70" height="7.20" fill="#2d9fdc"/>
<polygon points="370.5,411.5 374,415.1 370.5,418.7" fill="#2d9fdc"/>
<path d="M347.80,413.00 C347.80,409.31 353.90,409.31 353.90,413.00" fill="none" stroke="#e23b2e" stroke-width="1.3"/>
<text x="335.0" y="426.8" font-size="7.2" fill="#2d9fdc" font-style="italic" stroke="#2d9fdc" stroke-width="0.22" text-anchor="start" textLength="31.3" lengthAdjust="spacingAndGlyphs">SLC26A4</text>
<line x1="396.40" y1="415.10" x2="413.90" y2="415.10" stroke="#c0c0c0" stroke-width="1.7"/>
<rect x="396.40" y="411.50" width="1.30" height="7.20" fill="#c0c0c0"/>
<rect x="399.90" y="411.50" width="0.90" height="7.20" fill="#c0c0c0"/>
<rect x="403.80" y="411.50" width="1.80" height="7.20" fill="#c0c0c0"/>
<rect x="406.50" y="411.50" width="2.60" height="7.20" fill="#c0c0c0"/>
<polygon points="409.6,411.5 413.9,415.1 409.6,418.7" fill="#c0c0c0"/>
<text x="395.0" y="409.9" font-size="7.2" fill="#999" font-style="italic" stroke="#999" stroke-width="0.22" text-anchor="start" textLength="21.1" lengthAdjust="spacingAndGlyphs">CBLL1</text>
<rect x="393.80" y="423.00" width="4.30" height="2.60" fill="#c0c0c0"/>
<line x1="417.00" y1="424.30" x2="442.80" y2="424.30" stroke="#c0c0c0" stroke-width="1.7"/>
<rect x="417.00" y="420.70" width="1.80" height="7.20" fill="#c0c0c0"/>
<rect x="421.50" y="420.70" width="3.00" height="7.20" fill="#c0c0c0"/>
<rect x="425.00" y="420.70" width="2.60" height="7.20" fill="#c0c0c0"/>
<rect x="427.80" y="420.70" width="2.60" height="7.20" fill="#c0c0c0"/>
<rect x="432.50" y="420.70" width="1.50" height="7.20" fill="#c0c0c0"/>
<rect x="435.00" y="420.70" width="2.50" height="7.20" fill="#c0c0c0"/>
<rect x="438.00" y="420.70" width="4.80" height="7.20" fill="#c0c0c0"/>
<text x="377.0" y="436.2" font-size="7.2" fill="#999" font-style="italic" stroke="#999" stroke-width="0.22" text-anchor="start" textLength="39.3" lengthAdjust="spacingAndGlyphs">CBLL1−AS1</text>
<line x1="260.20" y1="439.20" x2="442.80" y2="439.20" stroke="#333" stroke-width="0.8"/>
<text x="261.0" y="448.2" font-size="7.4" fill="#111" stroke="#111" stroke-width="0.22" text-anchor="start" textLength="51.0" lengthAdjust="spacingAndGlyphs">107,593,581 bp</text>
<text x="344.0" y="448.2" font-size="7.4" fill="#111" font-weight="bold" stroke="#111" stroke-width="0.25" text-anchor="start" textLength="14.5" lengthAdjust="spacingAndGlyphs">chr7</text>
<text x="391.4" y="448.2" font-size="7.4" fill="#111" stroke="#111" stroke-width="0.22" text-anchor="start" textLength="50.6" lengthAdjust="spacingAndGlyphs">107,793,581 bp</text>
<text x="326.2" y="467.4" font-size="7.4" fill="#e0322c" stroke="#e0322c" stroke-width="0.22" text-anchor="start" textLength="49.3" lengthAdjust="spacingAndGlyphs">intron junction</text>
<text x="295.6" y="477.5" font-size="7.8" fill="#111" font-weight="bold" stroke="#111" stroke-width="0.25" text-anchor="start" textLength="109.4" lengthAdjust="spacingAndGlyphs">chr7:107692077−107694621</text>
<text x="296.6" y="493.1" font-size="7.4" fill="#3674c0" font-weight="bold" stroke="#3674c0" stroke-width="0.25" text-anchor="start" textLength="14.4" lengthAdjust="spacingAndGlyphs">PBS</text>
<text x="285.8" y="501.0" font-size="7.4" fill="#3674c0" stroke="#3674c0" stroke-width="0.22" text-anchor="start" textLength="37.1" lengthAdjust="spacingAndGlyphs">Beta: 0.552</text>
<text x="273.6" y="508.9" font-size="7.4" fill="#3674c0" stroke="#3674c0" stroke-width="0.22" text-anchor="start" textLength="61.4" lengthAdjust="spacingAndGlyphs">p−value: 3.60e−13</text>
<text x="396.5" y="493.1" font-size="7.4" fill="#d19c1c" font-weight="bold" stroke="#d19c1c" stroke-width="0.25" text-anchor="start" textLength="17.4" lengthAdjust="spacingAndGlyphs">FN−f</text>
<text x="387.0" y="501.0" font-size="7.4" fill="#d19c1c" stroke="#d19c1c" stroke-width="0.22" text-anchor="start" textLength="37.7" lengthAdjust="spacingAndGlyphs">Beta: 0.052</text>
<text x="375.5" y="508.9" font-size="7.4" fill="#d19c1c" stroke="#d19c1c" stroke-width="0.22" text-anchor="start" textLength="60.4" lengthAdjust="spacingAndGlyphs">p−value: 4.77e−01</text>
<line x1="260.90" y1="513.30" x2="260.90" y2="627.20" stroke="#999" stroke-width="1.4"/>
<line x1="260.90" y1="515.80" x2="263.90" y2="515.80" stroke="#333" stroke-width="0.9"/>
<text x="257.4" y="518.3" font-size="7.2" fill="#333" stroke="#333" stroke-width="0.1" text-anchor="end">3</text>
<line x1="260.90" y1="533.60" x2="263.90" y2="533.60" stroke="#333" stroke-width="0.9"/>
<text x="257.4" y="536.1" font-size="7.2" fill="#333" stroke="#333" stroke-width="0.1" text-anchor="end">2</text>
<line x1="260.90" y1="551.40" x2="263.90" y2="551.40" stroke="#333" stroke-width="0.9"/>
<text x="257.4" y="553.9" font-size="7.2" fill="#333" stroke="#333" stroke-width="0.1" text-anchor="end">1</text>
<line x1="260.90" y1="569.20" x2="263.90" y2="569.20" stroke="#333" stroke-width="0.9"/>
<text x="257.4" y="571.7" font-size="7.2" fill="#333" stroke="#333" stroke-width="0.1" text-anchor="end">0</text>
<line x1="260.90" y1="587.00" x2="263.90" y2="587.00" stroke="#333" stroke-width="0.9"/>
<text x="257.4" y="589.5" font-size="7.2" fill="#333" stroke="#333" stroke-width="0.1" text-anchor="end">−1</text>
<line x1="260.90" y1="604.80" x2="263.90" y2="604.80" stroke="#333" stroke-width="0.9"/>
<text x="257.4" y="607.3" font-size="7.2" fill="#333" stroke="#333" stroke-width="0.1" text-anchor="end">−2</text>
<line x1="260.90" y1="622.60" x2="263.90" y2="622.60" stroke="#333" stroke-width="0.9"/>
<text x="257.4" y="625.1" font-size="7.2" fill="#333" stroke="#333" stroke-width="0.1" text-anchor="end">−3</text>
<line x1="260.90" y1="569.20" x2="447.70" y2="569.20" stroke="#666" stroke-width="0.9" stroke-dasharray="4,3"/>
<line x1="277.25" y1="548.55" x2="277.25" y2="608.36" stroke="#555" stroke-width="0.8"/>
<rect x="266.90" y="567.06" width="20.70" height="19.05" fill="#5b93e5" stroke="#444" stroke-width="0.8"/>
<line x1="266.90" y1="577.21" x2="287.60" y2="577.21" stroke="#222" stroke-width="1.4"/>
<circle cx="278.57" cy="568.78" r="0.95" fill="#5a5a5a"/>
<circle cx="274.34" cy="582.95" r="0.95" fill="#5a5a5a"/>
<circle cx="278.20" cy="569.97" r="0.95" fill="#5a5a5a"/>
<circle cx="274.42" cy="574.20" r="0.95" fill="#5a5a5a"/>
<circle cx="274.71" cy="579.72" r="0.95" fill="#5a5a5a"/>
<circle cx="277.32" cy="565.49" r="0.95" fill="#5a5a5a"/>
<circle cx="276.82" cy="573.36" r="0.95" fill="#5a5a5a"/>
<circle cx="279.83" cy="602.89" r="0.95" fill="#5a5a5a"/>
<circle cx="276.60" cy="581.87" r="0.95" fill="#5a5a5a"/>
<circle cx="278.45" cy="584.44" r="0.95" fill="#5a5a5a"/>
<circle cx="275.75" cy="588.33" r="0.95" fill="#5a5a5a"/>
<circle cx="276.61" cy="595.05" r="0.95" fill="#5a5a5a"/>
<circle cx="275.05" cy="582.60" r="0.95" fill="#5a5a5a"/>
<circle cx="280.39" cy="575.77" r="0.95" fill="#5a5a5a"/>
<circle cx="277.26" cy="602.39" r="0.95" fill="#5a5a5a"/>
<circle cx="278.34" cy="582.41" r="0.95" fill="#5a5a5a"/>
<circle cx="275.92" cy="570.71" r="0.95" fill="#5a5a5a"/>
<circle cx="277.08" cy="559.64" r="0.95" fill="#5a5a5a"/>
<circle cx="274.86" cy="576.90" r="0.95" fill="#5a5a5a"/>
<circle cx="277.75" cy="566.65" r="0.95" fill="#5a5a5a"/>
<circle cx="278.63" cy="605.66" r="0.95" fill="#5a5a5a"/>
<circle cx="276.11" cy="601.61" r="0.95" fill="#5a5a5a"/>
<circle cx="278.68" cy="575.01" r="0.95" fill="#5a5a5a"/>
<circle cx="276.40" cy="572.86" r="0.95" fill="#5a5a5a"/>
<circle cx="280.31" cy="591.80" r="0.95" fill="#5a5a5a"/>
<circle cx="274.64" cy="586.04" r="0.95" fill="#5a5a5a"/>
<circle cx="278.13" cy="556.64" r="0.95" fill="#5a5a5a"/>
<circle cx="278.64" cy="569.50" r="0.95" fill="#5a5a5a"/>
<circle cx="278.35" cy="578.86" r="0.95" fill="#5a5a5a"/>
<circle cx="276.31" cy="585.30" r="0.95" fill="#5a5a5a"/>
<circle cx="276.09" cy="548.77" r="0.95" fill="#5a5a5a"/>
<circle cx="279.59" cy="561.35" r="0.95" fill="#5a5a5a"/>
<circle cx="278.17" cy="567.65" r="0.95" fill="#5a5a5a"/>
<circle cx="275.31" cy="574.52" r="0.95" fill="#5a5a5a"/>
<circle cx="276.21" cy="576.91" r="0.95" fill="#5a5a5a"/>
<circle cx="277.81" cy="576.39" r="0.95" fill="#5a5a5a"/>
<circle cx="277.27" cy="580.83" r="0.95" fill="#5a5a5a"/>
<circle cx="278.30" cy="578.13" r="0.95" fill="#5a5a5a"/>
<circle cx="275.82" cy="575.98" r="0.95" fill="#5a5a5a"/>
<circle cx="279.05" cy="566.27" r="0.95" fill="#5a5a5a"/>
<circle cx="279.97" cy="581.37" r="0.95" fill="#5a5a5a"/>
<circle cx="275.91" cy="578.96" r="0.95" fill="#5a5a5a"/>
<circle cx="279.29" cy="572.61" r="0.95" fill="#5a5a5a"/>
<circle cx="275.41" cy="572.19" r="0.95" fill="#5a5a5a"/>
<circle cx="276.01" cy="579.29" r="0.95" fill="#5a5a5a"/>
<circle cx="278.74" cy="571.74" r="0.95" fill="#5a5a5a"/>
<circle cx="279.07" cy="581.66" r="0.95" fill="#5a5a5a"/>
<circle cx="278.12" cy="567.92" r="0.95" fill="#5a5a5a"/>
<circle cx="274.44" cy="592.04" r="0.95" fill="#5a5a5a"/>
<circle cx="280.21" cy="585.49" r="0.95" fill="#5a5a5a"/>
<circle cx="280.24" cy="573.35" r="0.95" fill="#5a5a5a"/>
<circle cx="276.21" cy="594.65" r="0.95" fill="#5a5a5a"/>
<circle cx="278.77" cy="570.96" r="0.95" fill="#5a5a5a"/>
<circle cx="275.78" cy="579.08" r="0.95" fill="#5a5a5a"/>
<circle cx="279.78" cy="572.55" r="0.95" fill="#5a5a5a"/>
<circle cx="276.86" cy="556.47" r="0.95" fill="#5a5a5a"/>
<circle cx="280.28" cy="580.13" r="0.95" fill="#5a5a5a"/>
<circle cx="275.85" cy="583.10" r="0.95" fill="#5a5a5a"/>
<circle cx="276.17" cy="557.36" r="0.95" fill="#5a5a5a"/>
<circle cx="276.78" cy="555.09" r="0.95" fill="#5a5a5a"/>
<circle cx="276.45" cy="571.39" r="0.95" fill="#5a5a5a"/>
<circle cx="276.86" cy="568.92" r="0.95" fill="#5a5a5a"/>
<circle cx="275.68" cy="574.77" r="0.95" fill="#5a5a5a"/>
<circle cx="276.48" cy="578.68" r="0.95" fill="#5a5a5a"/>
<circle cx="278.92" cy="579.03" r="0.95" fill="#5a5a5a"/>
<circle cx="278.05" cy="573.17" r="0.95" fill="#5a5a5a"/>
<circle cx="278.37" cy="585.72" r="0.95" fill="#5a5a5a"/>
<circle cx="275.33" cy="580.51" r="0.95" fill="#5a5a5a"/>
<circle cx="275.54" cy="553.98" r="0.95" fill="#5a5a5a"/>
<circle cx="276.11" cy="575.17" r="0.95" fill="#5a5a5a"/>
<circle cx="277.25" cy="548.55" r="0.95" fill="#5a5a5a"/>
<circle cx="277.25" cy="608.36" r="0.95" fill="#5a5a5a"/>
<circle cx="277.00" cy="614.77" r="0.95" fill="#444"/>
<line x1="304.40" y1="533.96" x2="304.40" y2="593.94" stroke="#555" stroke-width="0.8"/>
<rect x="294.30" y="551.58" width="20.20" height="18.69" fill="#5b93e5" stroke="#444" stroke-width="0.8"/>
<line x1="294.30" y1="560.48" x2="314.50" y2="560.48" stroke="#222" stroke-width="1.4"/>
<circle cx="305.32" cy="564.19" r="0.95" fill="#5a5a5a"/>
<circle cx="301.98" cy="560.74" r="0.95" fill="#5a5a5a"/>
<circle cx="303.87" cy="564.45" r="0.95" fill="#5a5a5a"/>
<circle cx="301.94" cy="553.40" r="0.95" fill="#5a5a5a"/>
<circle cx="306.68" cy="579.52" r="0.95" fill="#5a5a5a"/>
<circle cx="303.61" cy="559.29" r="0.95" fill="#5a5a5a"/>
<circle cx="306.39" cy="555.38" r="0.95" fill="#5a5a5a"/>
<circle cx="304.27" cy="555.76" r="0.95" fill="#5a5a5a"/>
<circle cx="303.63" cy="590.68" r="0.95" fill="#5a5a5a"/>
<circle cx="306.18" cy="558.59" r="0.95" fill="#5a5a5a"/>
<circle cx="303.68" cy="561.05" r="0.95" fill="#5a5a5a"/>
<circle cx="302.86" cy="587.67" r="0.95" fill="#5a5a5a"/>
<circle cx="307.56" cy="567.52" r="0.95" fill="#5a5a5a"/>
<circle cx="302.56" cy="561.64" r="0.95" fill="#5a5a5a"/>
<circle cx="301.78" cy="568.52" r="0.95" fill="#5a5a5a"/>
<circle cx="304.45" cy="562.18" r="0.95" fill="#5a5a5a"/>
<circle cx="304.50" cy="557.15" r="0.95" fill="#5a5a5a"/>
<circle cx="304.47" cy="583.79" r="0.95" fill="#5a5a5a"/>
<circle cx="306.71" cy="563.32" r="0.95" fill="#5a5a5a"/>
<circle cx="303.49" cy="553.87" r="0.95" fill="#5a5a5a"/>
<circle cx="304.81" cy="558.78" r="0.95" fill="#5a5a5a"/>
<circle cx="307.31" cy="568.69" r="0.95" fill="#5a5a5a"/>
<circle cx="305.40" cy="568.13" r="0.95" fill="#5a5a5a"/>
<circle cx="303.30" cy="564.15" r="0.95" fill="#5a5a5a"/>
<circle cx="303.87" cy="573.63" r="0.95" fill="#5a5a5a"/>
<circle cx="303.77" cy="572.30" r="0.95" fill="#5a5a5a"/>
<circle cx="305.45" cy="557.89" r="0.95" fill="#5a5a5a"/>
<circle cx="302.69" cy="562.68" r="0.95" fill="#5a5a5a"/>
<circle cx="306.52" cy="566.51" r="0.95" fill="#5a5a5a"/>
<circle cx="301.38" cy="556.56" r="0.95" fill="#5a5a5a"/>
<circle cx="305.57" cy="552.31" r="0.95" fill="#5a5a5a"/>
<circle cx="304.22" cy="564.13" r="0.95" fill="#5a5a5a"/>
<circle cx="305.33" cy="567.03" r="0.95" fill="#5a5a5a"/>
<circle cx="305.33" cy="578.42" r="0.95" fill="#5a5a5a"/>
<circle cx="302.30" cy="558.81" r="0.95" fill="#5a5a5a"/>
<circle cx="304.72" cy="564.40" r="0.95" fill="#5a5a5a"/>
<circle cx="305.15" cy="561.23" r="0.95" fill="#5a5a5a"/>
<circle cx="305.54" cy="564.50" r="0.95" fill="#5a5a5a"/>
<circle cx="306.19" cy="558.74" r="0.95" fill="#5a5a5a"/>
<circle cx="304.03" cy="566.12" r="0.95" fill="#5a5a5a"/>
<circle cx="306.02" cy="559.95" r="0.95" fill="#5a5a5a"/>
<circle cx="307.41" cy="561.89" r="0.95" fill="#5a5a5a"/>
<circle cx="301.88" cy="554.78" r="0.95" fill="#5a5a5a"/>
<circle cx="307.18" cy="569.65" r="0.95" fill="#5a5a5a"/>
<circle cx="302.91" cy="550.27" r="0.95" fill="#5a5a5a"/>
<circle cx="306.50" cy="583.31" r="0.95" fill="#5a5a5a"/>
<circle cx="306.90" cy="569.97" r="0.95" fill="#5a5a5a"/>
<circle cx="305.61" cy="554.75" r="0.95" fill="#5a5a5a"/>
<circle cx="302.50" cy="554.15" r="0.95" fill="#5a5a5a"/>
<circle cx="301.37" cy="573.62" r="0.95" fill="#5a5a5a"/>
<circle cx="304.40" cy="533.96" r="0.95" fill="#5a5a5a"/>
<circle cx="304.40" cy="593.94" r="0.95" fill="#5a5a5a"/>
<line x1="331.35" y1="522.56" x2="331.35" y2="559.94" stroke="#555" stroke-width="0.8"/>
<rect x="321.20" y="532.35" width="20.30" height="18.16" fill="#5b93e5" stroke="#444" stroke-width="0.8"/>
<line x1="321.20" y1="542.68" x2="341.50" y2="542.68" stroke="#222" stroke-width="1.4"/>
<circle cx="328.61" cy="549.31" r="0.95" fill="#5a5a5a"/>
<circle cx="329.17" cy="548.32" r="0.95" fill="#5a5a5a"/>
<circle cx="334.04" cy="545.45" r="0.95" fill="#5a5a5a"/>
<circle cx="334.48" cy="527.42" r="0.95" fill="#5a5a5a"/>
<circle cx="331.35" cy="522.56" r="0.95" fill="#5a5a5a"/>
<circle cx="331.35" cy="559.94" r="0.95" fill="#5a5a5a"/>
<line x1="378.85" y1="535.74" x2="378.85" y2="586.47" stroke="#555" stroke-width="0.8"/>
<rect x="368.40" y="558.16" width="20.90" height="28.30" fill="#f9d67c" stroke="#444" stroke-width="0.8"/>
<line x1="368.40" y1="569.56" x2="389.30" y2="569.56" stroke="#222" stroke-width="1.4"/>
<circle cx="377.45" cy="563.94" r="0.95" fill="#5a5a5a"/>
<circle cx="380.34" cy="545.34" r="0.95" fill="#5a5a5a"/>
<circle cx="381.57" cy="583.88" r="0.95" fill="#5a5a5a"/>
<circle cx="381.17" cy="569.14" r="0.95" fill="#5a5a5a"/>
<circle cx="378.62" cy="566.67" r="0.95" fill="#5a5a5a"/>
<circle cx="376.91" cy="563.34" r="0.95" fill="#5a5a5a"/>
<circle cx="380.42" cy="572.20" r="0.95" fill="#5a5a5a"/>
<circle cx="380.10" cy="573.90" r="0.95" fill="#5a5a5a"/>
<circle cx="377.04" cy="580.12" r="0.95" fill="#5a5a5a"/>
<circle cx="378.91" cy="567.79" r="0.95" fill="#5a5a5a"/>
<circle cx="380.47" cy="585.71" r="0.95" fill="#5a5a5a"/>
<circle cx="377.93" cy="542.03" r="0.95" fill="#5a5a5a"/>
<circle cx="380.34" cy="576.63" r="0.95" fill="#5a5a5a"/>
<circle cx="379.01" cy="565.87" r="0.95" fill="#5a5a5a"/>
<circle cx="378.67" cy="560.47" r="0.95" fill="#5a5a5a"/>
<circle cx="376.92" cy="564.19" r="0.95" fill="#5a5a5a"/>
<circle cx="380.85" cy="568.54" r="0.95" fill="#5a5a5a"/>
<circle cx="379.72" cy="578.66" r="0.95" fill="#5a5a5a"/>
<circle cx="379.35" cy="575.80" r="0.95" fill="#5a5a5a"/>
<circle cx="375.66" cy="574.09" r="0.95" fill="#5a5a5a"/>
<circle cx="380.97" cy="573.58" r="0.95" fill="#5a5a5a"/>
<circle cx="379.66" cy="569.44" r="0.95" fill="#5a5a5a"/>
<circle cx="377.52" cy="564.47" r="0.95" fill="#5a5a5a"/>
<circle cx="379.99" cy="546.57" r="0.95" fill="#5a5a5a"/>
<circle cx="379.96" cy="564.31" r="0.95" fill="#5a5a5a"/>
<circle cx="376.29" cy="576.87" r="0.95" fill="#5a5a5a"/>
<circle cx="376.60" cy="572.04" r="0.95" fill="#5a5a5a"/>
<circle cx="378.13" cy="561.94" r="0.95" fill="#5a5a5a"/>
<circle cx="379.35" cy="581.29" r="0.95" fill="#5a5a5a"/>
<circle cx="379.09" cy="573.02" r="0.95" fill="#5a5a5a"/>
<circle cx="381.01" cy="572.21" r="0.95" fill="#5a5a5a"/>
<circle cx="376.93" cy="560.15" r="0.95" fill="#5a5a5a"/>
<circle cx="379.30" cy="564.74" r="0.95" fill="#5a5a5a"/>
<circle cx="380.65" cy="580.31" r="0.95" fill="#5a5a5a"/>
<circle cx="377.11" cy="565.89" r="0.95" fill="#5a5a5a"/>
<circle cx="378.03" cy="568.12" r="0.95" fill="#5a5a5a"/>
<circle cx="379.77" cy="584.62" r="0.95" fill="#5a5a5a"/>
<circle cx="379.17" cy="578.68" r="0.95" fill="#5a5a5a"/>
<circle cx="381.02" cy="581.34" r="0.95" fill="#5a5a5a"/>
<circle cx="377.24" cy="583.90" r="0.95" fill="#5a5a5a"/>
<circle cx="376.20" cy="579.31" r="0.95" fill="#5a5a5a"/>
<circle cx="377.57" cy="579.38" r="0.95" fill="#5a5a5a"/>
<circle cx="380.70" cy="575.95" r="0.95" fill="#5a5a5a"/>
<circle cx="377.08" cy="580.68" r="0.95" fill="#5a5a5a"/>
<circle cx="376.34" cy="577.15" r="0.95" fill="#5a5a5a"/>
<circle cx="382.02" cy="546.88" r="0.95" fill="#5a5a5a"/>
<circle cx="380.49" cy="585.43" r="0.95" fill="#5a5a5a"/>
<circle cx="378.16" cy="560.11" r="0.95" fill="#5a5a5a"/>
<circle cx="381.72" cy="584.41" r="0.95" fill="#5a5a5a"/>
<circle cx="378.45" cy="573.99" r="0.95" fill="#5a5a5a"/>
<circle cx="378.70" cy="544.32" r="0.95" fill="#5a5a5a"/>
<circle cx="381.35" cy="574.97" r="0.95" fill="#5a5a5a"/>
<circle cx="379.23" cy="567.76" r="0.95" fill="#5a5a5a"/>
<circle cx="377.22" cy="570.20" r="0.95" fill="#5a5a5a"/>
<circle cx="376.16" cy="561.99" r="0.95" fill="#5a5a5a"/>
<circle cx="378.85" cy="535.74" r="0.95" fill="#5a5a5a"/>
<circle cx="378.85" cy="586.47" r="0.95" fill="#5a5a5a"/>
<line x1="405.75" y1="522.56" x2="405.75" y2="586.47" stroke="#555" stroke-width="0.8"/>
<rect x="395.30" y="555.32" width="20.90" height="31.15" fill="#f9d67c" stroke="#444" stroke-width="0.8"/>
<line x1="395.30" y1="567.06" x2="416.20" y2="567.06" stroke="#222" stroke-width="1.4"/>
<circle cx="408.81" cy="559.03" r="0.95" fill="#5a5a5a"/>
<circle cx="406.60" cy="566.93" r="0.95" fill="#5a5a5a"/>
<circle cx="403.39" cy="556.43" r="0.95" fill="#5a5a5a"/>
<circle cx="407.21" cy="564.27" r="0.95" fill="#5a5a5a"/>
<circle cx="406.75" cy="566.45" r="0.95" fill="#5a5a5a"/>
<circle cx="405.38" cy="585.07" r="0.95" fill="#5a5a5a"/>
<circle cx="404.71" cy="567.86" r="0.95" fill="#5a5a5a"/>
<circle cx="404.39" cy="565.58" r="0.95" fill="#5a5a5a"/>
<circle cx="406.04" cy="566.93" r="0.95" fill="#5a5a5a"/>
<circle cx="407.23" cy="579.08" r="0.95" fill="#5a5a5a"/>
<circle cx="402.71" cy="557.30" r="0.95" fill="#5a5a5a"/>
<circle cx="403.70" cy="562.91" r="0.95" fill="#5a5a5a"/>
<circle cx="405.21" cy="570.85" r="0.95" fill="#5a5a5a"/>
<circle cx="404.47" cy="570.18" r="0.95" fill="#5a5a5a"/>
<circle cx="405.34" cy="561.99" r="0.95" fill="#5a5a5a"/>
<circle cx="404.61" cy="556.29" r="0.95" fill="#5a5a5a"/>
<circle cx="405.07" cy="560.53" r="0.95" fill="#5a5a5a"/>
<circle cx="403.25" cy="568.65" r="0.95" fill="#5a5a5a"/>
<circle cx="408.14" cy="572.48" r="0.95" fill="#5a5a5a"/>
<circle cx="407.43" cy="572.75" r="0.95" fill="#5a5a5a"/>
<circle cx="405.87" cy="581.71" r="0.95" fill="#5a5a5a"/>
<circle cx="408.29" cy="557.23" r="0.95" fill="#5a5a5a"/>
<circle cx="405.21" cy="569.00" r="0.95" fill="#5a5a5a"/>
<circle cx="408.41" cy="572.62" r="0.95" fill="#5a5a5a"/>
<circle cx="407.10" cy="568.21" r="0.95" fill="#5a5a5a"/>
<circle cx="403.25" cy="557.68" r="0.95" fill="#5a5a5a"/>
<circle cx="402.67" cy="564.17" r="0.95" fill="#5a5a5a"/>
<circle cx="405.58" cy="582.52" r="0.95" fill="#5a5a5a"/>
<circle cx="403.97" cy="581.76" r="0.95" fill="#5a5a5a"/>
<circle cx="403.79" cy="583.65" r="0.95" fill="#5a5a5a"/>
<circle cx="407.81" cy="582.20" r="0.95" fill="#5a5a5a"/>
<circle cx="404.09" cy="578.62" r="0.95" fill="#5a5a5a"/>
<circle cx="407.30" cy="583.47" r="0.95" fill="#5a5a5a"/>
<circle cx="405.16" cy="557.04" r="0.95" fill="#5a5a5a"/>
<circle cx="403.19" cy="559.58" r="0.95" fill="#5a5a5a"/>
<circle cx="406.31" cy="564.86" r="0.95" fill="#5a5a5a"/>
<circle cx="405.73" cy="568.71" r="0.95" fill="#5a5a5a"/>
<circle cx="404.35" cy="572.85" r="0.95" fill="#5a5a5a"/>
<circle cx="404.31" cy="577.15" r="0.95" fill="#5a5a5a"/>
<circle cx="407.68" cy="583.80" r="0.95" fill="#5a5a5a"/>
<circle cx="403.29" cy="579.34" r="0.95" fill="#5a5a5a"/>
<circle cx="407.15" cy="570.77" r="0.95" fill="#5a5a5a"/>
<circle cx="408.26" cy="573.62" r="0.95" fill="#5a5a5a"/>
<circle cx="408.26" cy="555.91" r="0.95" fill="#5a5a5a"/>
<circle cx="404.20" cy="526.19" r="0.95" fill="#5a5a5a"/>
<circle cx="405.75" cy="522.56" r="0.95" fill="#5a5a5a"/>
<circle cx="405.75" cy="586.47" r="0.95" fill="#5a5a5a"/>
<line x1="432.85" y1="566.71" x2="432.85" y2="583.26" stroke="#555" stroke-width="0.8"/>
<rect x="422.50" y="566.71" width="20.70" height="16.55" fill="#f9d67c" stroke="#444" stroke-width="0.8"/>
<line x1="422.50" y1="572.23" x2="443.20" y2="572.23" stroke="#222" stroke-width="1.4"/>
<circle cx="430.96" cy="573.13" r="0.95" fill="#5a5a5a"/>
<circle cx="434.83" cy="572.54" r="0.95" fill="#5a5a5a"/>
<circle cx="435.18" cy="581.95" r="0.95" fill="#5a5a5a"/>
<circle cx="433.59" cy="578.97" r="0.95" fill="#5a5a5a"/>
<circle cx="432.85" cy="566.71" r="0.95" fill="#5a5a5a"/>
<circle cx="432.85" cy="583.26" r="0.95" fill="#5a5a5a"/>
<circle cx="434.90" cy="535.38" r="0.95" fill="#444"/>
<circle cx="432.00" cy="586.11" r="0.95" fill="#444"/>
<circle cx="432.00" cy="564.75" r="0.95" fill="#444"/>
<text x="276.9" y="636.2" font-size="8" fill="#111" stroke="#111" stroke-width="0.22" text-anchor="middle">C/C</text>
<text x="304.2" y="636.2" font-size="8" fill="#111" stroke="#111" stroke-width="0.22" text-anchor="middle">C/T</text>
<text x="331.1" y="636.2" font-size="8" fill="#111" stroke="#111" stroke-width="0.22" text-anchor="middle">T/T</text>
<text x="378.9" y="636.2" font-size="8" fill="#111" stroke="#111" stroke-width="0.22" text-anchor="middle">C/C</text>
<text x="405.9" y="636.2" font-size="8" fill="#111" stroke="#111" stroke-width="0.22" text-anchor="middle">C/T</text>
<text x="432.8" y="636.2" font-size="8" fill="#111" stroke="#111" stroke-width="0.22" text-anchor="middle">T/T</text>
<text x="467.6" y="221.8" font-size="14" fill="#000" font-weight="bold" stroke="#000" stroke-width="0.25" text-anchor="start">f</text>
<line x1="495.40" y1="229.00" x2="495.40" y2="304.70" stroke="#555" stroke-width="1.0"/>
<line x1="492.40" y1="304.20" x2="677.70" y2="304.20" stroke="#555" stroke-width="1.0"/>
<text x="489.8" y="306.7" font-size="7" fill="#111" stroke="#111" stroke-width="0.22" text-anchor="end">0</text>
<line x1="492.20" y1="291.75" x2="495.40" y2="291.75" stroke="#555" stroke-width="0.9"/>
<text x="489.8" y="294.2" font-size="7" fill="#111" stroke="#111" stroke-width="0.22" text-anchor="end">2</text>
<line x1="492.20" y1="279.30" x2="495.40" y2="279.30" stroke="#555" stroke-width="0.9"/>
<text x="489.8" y="281.8" font-size="7" fill="#111" stroke="#111" stroke-width="0.22" text-anchor="end">4</text>
<line x1="492.20" y1="266.85" x2="495.40" y2="266.85" stroke="#555" stroke-width="0.9"/>
<text x="489.8" y="269.4" font-size="7" fill="#111" stroke="#111" stroke-width="0.22" text-anchor="end">6</text>
<line x1="492.20" y1="254.40" x2="495.40" y2="254.40" stroke="#555" stroke-width="0.9"/>
<text x="489.8" y="256.9" font-size="7" fill="#111" stroke="#111" stroke-width="0.22" text-anchor="end">8</text>
<line x1="492.20" y1="241.95" x2="495.40" y2="241.95" stroke="#555" stroke-width="0.9"/>
<text x="489.8" y="244.4" font-size="7" fill="#111" stroke="#111" stroke-width="0.22" text-anchor="end">10</text>
<line x1="492.20" y1="229.50" x2="495.40" y2="229.50" stroke="#555" stroke-width="0.9"/>
<text x="489.8" y="232.0" font-size="7" fill="#111" stroke="#111" stroke-width="0.22" text-anchor="end">12</text>
<text x="500.7" y="236.4" font-size="8.4" fill="#4f94d8" font-weight="bold" stroke="#4f94d8" stroke-width="0.25" text-anchor="start" textLength="39.9" lengthAdjust="spacingAndGlyphs">PBS sQTL</text>
<clipPath id="mc5"><rect x="0" y="184.2" width="685" height="120"/></clipPath><g clip-path="url(#mc5)">
<path d="M496.4 302.1h0M495.9 302.1h0M496.0 302.3h0M498.4 302.6h0M496.4 301.8h0M497.3 302.5h0M497.2 302.2h0M498.8 302.4h0M497.3 302.3h0M497.8 302.6h0M499.8 302.4h0M507.8 301.8h0M508.4 302.3h0M507.4 300.6h0M508.3 300.3h0M502.7 302.3h0M503.1 302.4h0M508.0 300.5h0M508.4 301.1h0M501.7 302.5h0M502.1 302.6h0M501.0 302.6h0M507.2 302.4h0M508.5 302.1h0M508.5 302.2h0M502.7 302.4h0M500.1 302.6h0M503.8 302.6h0M508.6 302.0h0M500.0 302.5h0M502.3 302.6h0M500.2 302.6h0M507.1 301.7h0M505.0 302.5h0M502.9 301.6h0M503.7 301.4h0M508.9 302.5h0M508.5 302.6h0M507.1 301.1h0M507.0 301.8h0M508.1 302.5h0M505.4 302.4h0M504.0 302.5h0M507.1 301.8h0M507.8 301.3h0M506.0 301.0h0M508.1 301.5h0M503.3 301.6h0M503.7 302.6h0M515.0 299.8h0M519.7 299.5h0M521.7 301.8h0M521.4 302.2h0M511.6 300.6h0M513.7 300.9h0M523.4 302.5h0M517.4 300.3h0M525.0 302.0h0M521.9 301.2h0M512.6 299.7h0M512.6 302.6h0M516.8 302.6h0M517.2 302.0h0M524.3 302.1h0M522.7 301.1h0M518.8 302.3h0M514.6 301.6h0M515.9 301.4h0M517.6 302.1h0M519.1 299.3h0M513.0 302.1h0M510.2 302.6h0M510.8 301.9h0M522.5 301.3h0M524.5 300.8h0M518.8 301.2h0M510.2 302.1h0M513.9 301.2h0M511.0 301.6h0M515.6 301.9h0M516.1 302.6h0M521.0 300.5h0M519.0 302.5h0M519.0 299.9h0M524.8 301.1h0M510.7 300.4h0M520.0 302.2h0M523.8 300.9h0M523.4 302.4h0M518.7 301.9h0M514.4 300.6h0M519.2 302.1h0M518.1 299.7h0M518.5 299.7h0M518.5 299.3h0M510.4 301.9h0M518.3 300.6h0M524.5 301.5h0M517.2 301.4h0M518.0 300.7h0M524.2 302.6h0M514.8 300.0h0M510.9 300.7h0M510.5 301.3h0M522.0 302.3h0M515.7 302.4h0M520.6 301.6h0M519.1 302.1h0M518.8 299.5h0M521.7 299.8h0M513.7 301.6h0M515.8 302.2h0M522.1 302.5h0M518.4 300.4h0M524.0 302.6h0M514.1 301.6h0M524.0 302.5h0M522.6 302.1h0M518.2 299.7h0M511.0 302.2h0M526.6 302.3h0M532.0 302.5h0M533.0 302.5h0M533.2 299.6h0M527.2 300.3h0M533.1 302.3h0M525.0 300.7h0M533.3 302.5h0M532.7 299.9h0M531.3 299.5h0M534.8 301.9h0M533.3 299.0h0M528.1 300.4h0M533.5 301.0h0M527.8 302.2h0M530.4 302.5h0M533.6 299.2h0M527.4 301.2h0M531.7 302.5h0M532.8 300.0h0M528.1 302.5h0M527.8 299.9h0M529.7 299.5h0M526.6 302.6h0M528.5 299.2h0M526.6 302.6h0M532.5 302.6h0M531.7 302.6h0M527.5 301.3h0M533.7 301.6h0M529.5 302.6h0M528.4 302.2h0M532.9 300.2h0M532.8 301.1h0M532.0 302.5h0M528.9 302.0h0M527.8 300.1h0M527.1 302.2h0M527.8 299.4h0M531.4 301.3h0M528.8 298.9h0M534.4 301.5h0M530.7 299.4h0M527.6 302.2h0M526.0 301.8h0M532.7 302.4h0M529.3 298.4h0M529.8 301.7h0M533.4 299.2h0M528.8 302.5h0M531.4 300.0h0M534.2 300.5h0M528.1 301.2h0M527.9 301.5h0M529.7 298.9h0M534.1 298.9h0M529.8 298.5h0M535.7 299.8h0M539.4 297.6h0M535.1 298.3h0M539.1 301.6h0M539.1 302.2h0M538.8 301.2h0M537.1 302.2h0M539.0 299.6h0M535.4 297.0h0M536.1 301.4h0M537.1 300.0h0M539.5 298.0h0M538.2 301.7h0M535.5 302.6h0M537.6 300.7h0M537.2 296.4h0M537.1 301.4h0M537.1 302.3h0M539.7 300.4h0M537.7 301.4h0M536.3 301.7h0M537.5 300.8h0M539.9 300.6h0M536.0 302.6h0M535.8 301.6h0M538.9 298.5h0M536.2 298.6h0M537.2 300.3h0M537.7 302.6h0M535.3 299.6h0M538.4 301.6h0M539.6 298.9h0M536.5 302.6h0M537.8 300.3h0M536.1 302.6h0M537.4 302.6h0M543.7 302.1h0M542.2 302.4h0M540.9 299.7h0M542.3 300.6h0M541.7 300.0h0M543.0 300.4h0M542.0 301.2h0M541.0 298.7h0M543.4 301.1h0M543.2 302.5h0M541.7 302.3h0M544.2 302.6h0M542.2 299.8h0M543.9 300.4h0M541.5 302.3h0M543.5 302.1h0M543.6 301.9h0M543.8 301.0h0M544.1 299.0h0M541.9 299.0h0M540.0 299.0h0M540.1 301.0h0M541.9 300.2h0M541.6 302.3h0M543.9 301.2h0M543.8 301.4h0M540.2 299.7h0M541.1 301.4h0M540.0 302.1h0M543.3 299.9h0M543.2 301.5h0M543.7 300.5h0M541.0 301.2h0M543.0 300.0h0M541.0 302.0h0M541.7 302.6h0M550.2 301.3h0M547.6 302.5h0M556.3 302.6h0M548.8 301.5h0M549.1 299.9h0M559.1 301.3h0M555.4 301.9h0M548.8 299.6h0M559.3 302.6h0M550.0 302.1h0M548.0 301.8h0M558.5 302.6h0M557.5 302.3h0M545.2 302.2h0M548.2 302.5h0M550.5 302.5h0M547.7 302.3h0M553.7 302.3h0M552.9 300.9h0M555.9 302.3h0M558.8 301.2h0M553.4 301.9h0M549.9 302.5h0M558.3 301.7h0M546.5 299.3h0M558.3 302.6h0M555.5 302.5h0M553.0 300.7h0M550.3 301.6h0M555.0 302.5h0M554.4 302.0h0M559.7 302.5h0M555.7 302.6h0M549.1 302.5h0M547.2 301.3h0M547.6 300.3h0M546.4 300.9h0M557.9 302.6h0M548.3 300.5h0M552.1 299.8h0M550.1 301.9h0M559.4 302.3h0M559.5 300.9h0M548.0 301.4h0M559.1 302.6h0M557.7 301.2h0M556.2 301.8h0M546.5 299.1h0M546.5 300.1h0M555.8 302.3h0M555.3 302.2h0M556.3 302.6h0M559.0 302.2h0M557.0 302.1h0M557.2 302.4h0M553.2 302.6h0M552.3 302.6h0M557.9 301.5h0M551.4 299.6h0M559.2 300.7h0M546.2 300.5h0M555.9 301.8h0M545.2 299.3h0M551.6 301.2h0M572.2 302.6h0M573.9 302.6h0M562.1 300.7h0M563.1 301.3h0M570.0 302.6h0M566.2 302.6h0M566.3 302.6h0M575.0 302.6h0M574.3 302.2h0M571.0 302.6h0M570.4 302.3h0M567.4 302.5h0M567.7 301.5h0M562.0 300.1h0M566.3 302.4h0M563.6 302.2h0M569.7 302.1h0M573.4 302.4h0M567.7 301.0h0M563.2 302.6h0M564.9 302.4h0M561.9 301.9h0M560.5 299.7h0M567.3 300.9h0M570.5 302.0h0M571.4 302.5h0M570.9 302.6h0M568.3 302.0h0M571.6 302.6h0M565.2 300.8h0M572.1 301.8h0M561.8 302.4h0M561.6 300.8h0M571.2 302.2h0M571.7 302.3h0M568.4 301.3h0M569.7 301.9h0M568.8 302.2h0M571.4 302.3h0M561.9 301.9h0M566.3 302.0h0M568.4 302.3h0M565.9 302.0h0M565.6 300.3h0M561.4 302.6h0M570.8 302.4h0M566.7 301.7h0M565.5 302.4h0M560.2 299.9h0M574.1 302.6h0M567.0 302.3h0M560.9 299.9h0M572.5 302.6h0M563.8 301.8h0M572.0 302.4h0M565.8 302.4h0M572.0 302.0h0M587.9 302.2h0M589.8 302.0h0M581.9 302.6h0M586.0 302.0h0M585.0 301.6h0M589.0 302.1h0M576.5 302.4h0M578.7 301.9h0M576.8 302.6h0M580.1 302.3h0M579.9 302.3h0M587.2 302.6h0M585.8 302.5h0M589.2 301.6h0M579.9 302.1h0M576.7 302.4h0M584.3 302.1h0M580.1 302.6h0M576.9 302.3h0M577.6 302.5h0M584.3 301.6h0M582.7 302.5h0M583.8 302.5h0M586.7 302.6h0M578.9 302.3h0M588.6 302.6h0M577.9 302.6h0M578.2 302.4h0M580.9 302.2h0M581.1 302.4h0M580.9 302.1h0M588.5 302.4h0M588.8 302.5h0M589.7 302.2h0M585.2 302.5h0M579.1 302.6h0M588.3 302.4h0M585.5 302.4h0M582.9 302.6h0M577.7 302.4h0M585.2 302.3h0M575.0 302.2h0M581.5 302.6h0M593.9 301.6h0M598.3 302.4h0M594.4 302.5h0M595.2 301.1h0M600.5 301.2h0M591.7 302.6h0M593.9 302.1h0M602.3 301.4h0M596.4 302.4h0M604.7 302.1h0M590.7 301.6h0M593.8 301.6h0M591.8 302.1h0M595.3 300.7h0M594.5 302.6h0M593.0 301.7h0M604.7 301.2h0M600.2 302.3h0M594.1 302.6h0M604.8 302.6h0M599.2 302.3h0M592.8 302.3h0M604.0 302.3h0M592.5 302.1h0M599.9 302.0h0M592.7 301.5h0M591.7 302.6h0M593.6 302.2h0M597.1 301.7h0M600.9 300.2h0M597.0 302.6h0M602.5 302.6h0M594.8 302.6h0M599.0 301.4h0M591.9 302.5h0M602.8 301.1h0M591.6 302.0h0M601.9 301.9h0M592.3 302.1h0M594.8 302.6h0M592.5 302.4h0M591.9 302.4h0M598.3 301.9h0M596.1 301.0h0M591.3 302.5h0M604.0 300.4h0M603.8 300.8h0M598.0 301.4h0M598.6 302.6h0M593.8 302.6h0M603.1 302.2h0M596.1 301.8h0M591.5 302.0h0M601.9 300.6h0M603.2 302.2h0M592.2 301.9h0M600.4 302.1h0M610.1 301.2h0M611.9 301.2h0M610.1 302.3h0M612.7 300.0h0M610.3 301.6h0M611.1 301.1h0M616.4 302.1h0M609.1 300.3h0M609.6 302.6h0M607.9 299.5h0M605.6 301.5h0M613.3 301.4h0M611.2 301.9h0M606.3 299.9h0M606.5 302.5h0M615.1 301.2h0M617.1 301.0h0M619.0 302.6h0M608.6 300.4h0M607.3 301.5h0M616.6 302.5h0M612.9 299.9h0M616.2 302.0h0M612.2 302.4h0M619.4 301.3h0M615.2 302.2h0M616.0 301.7h0M617.0 302.1h0M618.2 301.6h0M611.8 301.9h0M617.1 301.6h0M619.4 302.6h0M618.5 301.5h0M612.3 301.1h0M607.2 302.1h0M615.7 300.5h0M610.6 300.7h0M614.7 302.6h0M606.8 302.6h0M613.5 302.1h0M608.9 301.7h0M606.2 300.0h0M617.6 301.9h0M611.7 302.3h0M614.0 302.0h0M619.6 300.8h0M615.9 300.5h0M606.1 302.5h0M610.2 302.6h0M611.3 300.7h0M617.5 300.9h0M608.3 302.3h0M605.4 302.3h0M605.8 301.5h0M609.5 300.8h0M613.4 301.2h0M609.5 300.6h0M615.3 300.9h0M612.1 302.1h0M609.3 302.6h0M612.0 301.7h0M607.8 300.0h0M618.2 301.2h0M617.2 301.7h0M621.4 300.8h0M627.9 302.6h0M622.8 300.9h0M620.9 300.5h0M622.7 299.3h0M622.6 302.1h0M621.4 299.7h0M624.7 299.0h0M620.5 301.6h0M625.9 295.0h0M620.8 302.1h0M628.0 300.7h0M627.7 302.1h0M620.2 300.3h0M622.1 301.3h0M622.9 301.0h0M627.5 293.7h0M627.0 301.6h0M626.6 302.6h0M623.3 298.8h0M622.0 302.0h0M624.7 302.2h0M625.7 298.4h0M620.8 300.2h0M620.6 301.1h0M622.8 302.5h0M620.6 299.9h0M626.4 300.1h0M626.4 294.2h0M627.4 299.1h0M622.2 301.4h0M627.9 299.5h0M625.4 296.4h0M623.3 301.0h0M626.8 301.9h0M626.9 302.6h0M624.3 300.7h0M621.2 300.0h0M623.5 302.4h0M623.3 300.8h0M623.4 302.6h0M620.7 301.0h0M621.1 302.3h0M626.5 295.6h0M627.1 302.1h0M620.0 301.1h0M624.8 301.7h0M620.1 302.0h0M621.9 301.2h0M627.8 302.2h0M620.6 301.1h0M620.9 302.4h0M623.5 298.4h0M622.6 302.0h0M623.8 302.4h0M623.2 300.3h0M622.6 299.9h0M621.5 302.6h0M625.0 300.4h0M627.3 302.4h0M626.0 298.1h0M623.0 302.5h0M624.9 299.4h0M623.8 301.3h0M625.5 298.9h0M623.4 302.4h0M623.7 300.9h0M627.2 293.2h0M624.5 301.8h0M621.8 301.1h0M625.9 301.7h0M636.3 300.9h0M639.3 300.3h0M638.4 302.3h0M632.1 302.5h0M631.7 299.9h0M636.9 299.1h0M639.2 300.2h0M628.0 302.6h0M628.4 301.3h0M628.3 300.8h0M635.6 302.0h0M638.3 301.5h0M639.5 301.8h0M635.4 299.7h0M631.2 296.5h0M628.0 302.1h0M631.8 295.3h0M634.0 302.1h0M635.3 297.0h0M629.3 299.3h0M632.7 301.2h0M633.1 301.6h0M639.9 298.7h0M639.0 299.8h0M636.4 302.3h0M628.4 298.8h0M636.1 298.9h0M631.8 301.6h0M639.1 300.9h0M628.2 301.7h0M632.2 302.5h0M639.7 298.8h0M637.8 302.6h0M633.0 302.5h0M636.7 297.3h0M637.5 297.6h0M629.4 302.6h0M629.1 298.8h0M638.0 300.9h0M630.8 295.4h0M629.4 301.8h0M628.0 297.5h0M633.0 299.9h0M637.6 300.5h0M639.8 299.6h0M639.1 298.2h0M629.0 299.4h0M630.7 301.1h0M632.1 293.9h0M628.7 301.3h0M629.5 297.7h0M634.0 300.4h0M634.2 300.1h0M632.0 300.5h0M636.9 298.4h0M638.7 301.9h0M638.2 299.6h0M634.9 301.7h0M634.8 302.6h0M629.2 301.9h0M629.5 302.6h0M636.6 298.0h0M635.4 302.0h0M636.7 297.1h0M635.4 301.9h0M634.8 301.8h0M631.2 302.2h0M638.4 300.3h0M639.2 302.4h0M631.2 299.5h0M628.7 301.9h0M634.5 301.4h0M638.9 300.7h0M635.7 299.3h0M637.4 301.2h0M628.0 297.6h0M637.5 302.5h0M629.3 302.2h0M635.9 302.3h0M628.2 301.0h0M628.1 302.0h0M632.6 302.3h0M628.0 302.0h0M630.9 301.1h0M633.0 301.8h0M631.9 302.6h0M638.0 299.6h0M633.9 302.6h0M630.8 294.8h0M633.5 302.3h0M637.8 298.5h0M629.5 301.0h0M634.7 302.5h0M631.8 298.5h0M636.1 299.0h0M635.4 301.0h0M628.8 302.6h0M638.1 298.7h0M638.9 302.6h0M637.2 302.2h0M632.2 302.0h0M638.3 299.1h0M638.0 301.6h0M639.2 302.1h0M634.9 300.6h0M630.8 300.6h0M629.2 299.1h0M642.8 302.2h0M649.6 301.1h0M652.8 302.3h0M648.0 302.4h0M643.6 302.5h0M641.2 299.3h0M649.8 302.6h0M643.3 301.3h0M647.9 302.6h0M641.4 301.0h0M649.0 302.6h0M651.6 301.4h0M647.9 301.9h0M654.2 301.7h0M646.3 299.4h0M654.8 300.0h0M648.1 300.0h0M649.6 298.6h0M654.6 300.0h0M643.2 301.3h0M646.6 302.2h0M651.7 302.4h0M650.6 301.7h0M646.4 300.2h0M650.9 299.7h0M655.0 299.8h0M644.0 301.0h0M647.4 298.8h0M646.7 301.8h0M640.4 301.4h0M648.0 302.0h0M641.6 301.4h0M641.1 302.4h0M646.7 301.9h0M647.5 301.0h0M645.8 302.5h0M640.3 301.0h0M654.6 302.1h0M645.3 301.9h0M651.1 301.7h0M651.9 302.6h0M642.0 302.3h0M645.5 301.6h0M645.8 298.5h0M646.6 300.9h0M654.5 300.6h0M648.9 299.4h0M645.0 302.6h0M654.4 301.1h0M648.7 302.6h0M651.2 302.0h0M649.6 302.1h0M653.8 301.8h0M644.1 300.0h0M643.3 302.2h0M647.3 298.6h0M641.7 302.3h0M651.9 302.6h0M646.2 299.7h0M650.7 300.6h0M641.8 299.3h0M645.4 299.5h0M647.1 299.1h0M647.2 302.2h0M642.3 301.3h0M640.7 302.4h0M653.1 300.9h0M652.9 302.4h0M647.2 301.4h0M641.6 302.2h0M653.8 300.2h0M647.6 300.6h0M652.9 298.7h0M648.9 302.6h0M653.1 302.4h0M643.6 302.5h0M647.7 300.8h0M646.9 301.4h0M642.1 300.3h0M648.1 302.0h0M652.5 298.8h0M653.8 298.6h0M641.0 301.7h0M646.7 302.2h0M651.2 300.1h0M642.1 301.3h0M654.5 299.3h0M646.8 302.5h0M646.8 301.2h0M651.8 302.4h0M644.2 299.6h0M640.2 300.7h0M656.2 301.6h0M667.0 300.2h0M658.0 302.6h0M656.0 301.7h0M667.6 300.6h0M655.4 301.2h0M662.0 301.6h0M660.8 302.2h0M665.8 301.0h0M656.6 302.5h0M655.7 302.2h0M663.3 297.9h0M666.2 302.5h0M665.3 300.7h0M661.1 300.2h0M662.8 302.5h0M657.8 302.6h0M662.9 300.3h0M666.2 302.6h0M655.1 298.8h0M658.4 302.4h0M666.3 302.6h0M665.3 300.2h0M662.3 301.5h0M655.1 300.8h0M663.0 299.4h0M661.7 302.6h0M657.9 301.5h0M656.0 302.5h0M658.3 301.0h0M662.1 302.2h0M667.5 301.2h0M658.1 301.7h0M666.1 302.0h0M660.6 301.6h0M667.8 301.0h0M657.4 300.9h0M659.2 301.9h0M664.3 302.6h0M661.6 302.2h0M662.8 299.0h0M661.1 301.5h0M658.8 302.4h0M661.6 301.7h0M657.9 301.2h0M661.5 302.2h0M658.3 300.9h0M666.7 299.9h0M658.2 302.6h0M663.2 302.6h0M666.1 301.0h0M659.4 302.0h0M663.9 302.4h0M659.7 301.1h0M663.8 300.5h0M656.3 302.3h0M658.3 302.6h0M663.3 300.6h0M667.0 301.5h0M666.9 301.8h0M661.7 302.3h0M661.0 300.4h0M661.3 302.6h0M659.6 302.5h0M663.1 301.0h0M661.2 300.4h0M664.9 302.5h0M668.3 300.7h0M673.7 301.2h0M668.3 301.7h0M675.9 302.6h0M669.2 299.7h0M673.2 302.4h0M674.7 298.9h0M676.2 300.6h0M675.7 302.6h0M672.4 301.8h0M669.4 299.9h0M674.7 302.6h0M668.6 301.3h0M677.1 300.7h0M676.3 302.5h0M673.5 302.4h0M671.2 302.4h0M672.4 302.6h0M674.2 300.5h0M676.6 299.9h0M668.7 299.9h0M673.2 298.8h0M672.7 302.6h0M674.7 302.4h0M677.3 301.1h0M676.6 301.3h0M671.1 300.2h0M674.7 301.4h0M670.6 301.5h0M674.8 302.2h0M669.5 301.6h0M674.3 302.6h0M670.6 298.1h0M670.5 299.5h0M670.9 302.6h0M672.6 299.2h0M675.4 302.6h0M674.7 300.6h0M672.6 300.4h0M673.0 302.4h0M674.6 302.5h0M670.9 299.0h0M673.4 301.2h0M674.7 301.3h0M671.6 300.8h0M668.2 302.0h0M668.4 299.3h0M676.6 300.5h0M669.5 300.0h0M516.6 288.6h0M537.3 283.0h0M543.1 283.0h0M495.3 297.4h0M523.8 294.9h0M534.7 293.3h0M555.7 294.9h0M576.4 296.4h0M591.9 296.4h0M599.2 295.5h0M624.8 291.1h0M629.3 289.9h0M633.0 291.8h0M540.0 296.7h0M520.0 297.4h0M605.0 297.4h0M645.0 296.1h0M660.0 296.7h0" stroke="#222a7c" stroke-width="3.5" stroke-linecap="round" fill="none"/>
<path d="M580.2 303.0h0M629.9 303.2h0M642.1 303.6h0M654.6 303.3h0M644.2 303.0h0M576.4 303.5h0M590.8 303.8h0M660.2 303.2h0M608.1 303.3h0M660.8 303.8h0M590.3 303.2h0M614.2 303.4h0M576.9 303.7h0M632.5 303.5h0M668.6 302.9h0M673.0 303.6h0M611.5 303.8h0M590.5 303.8h0M609.7 302.9h0M644.9 303.5h0M579.3 302.9h0M549.1 303.0h0M657.6 303.8h0M670.4 303.2h0M594.5 303.4h0M624.1 303.3h0M659.2 302.9h0M586.1 303.9h0M647.1 303.2h0M630.4 303.8h0M552.2 302.9h0M591.1 303.4h0M673.4 303.7h0M627.7 303.8h0M617.8 303.1h0M563.3 303.1h0M672.8 303.0h0M648.7 302.9h0M638.8 303.3h0M653.3 303.0h0M626.9 303.2h0M566.1 303.5h0M585.9 303.0h0M647.5 303.6h0M676.2 303.8h0" stroke="#8fcdf0" stroke-width="3.5" stroke-linecap="round" fill="none"/>
</g>
<polygon points="582.95,304.84 590.05,304.84 586.50,297.96" fill="#e23b2e" stroke="#111" stroke-width="1"/>
<text x="634.8" y="230.0" font-size="8" fill="#111" stroke="#111" stroke-width="0.22" text-anchor="start" textLength="18.2" lengthAdjust="spacingAndGlyphs">LD r²</text>
<rect x="638.10" y="234.20" width="7.70" height="7.96" fill="#e23b2e"/>
<text x="650.7" y="240.7" font-size="7" fill="#222" stroke="#222" stroke-width="0.22" text-anchor="start" textLength="27.9" lengthAdjust="spacingAndGlyphs">0.8 − 1.0</text>
<rect x="638.10" y="242.16" width="7.70" height="7.96" fill="#f2a234"/>
<text x="650.7" y="248.7" font-size="7" fill="#222" stroke="#222" stroke-width="0.22" text-anchor="start" textLength="27.9" lengthAdjust="spacingAndGlyphs">0.6 − 0.8</text>
<rect x="638.10" y="250.12" width="7.70" height="7.96" fill="#3e9a4b"/>
<text x="650.7" y="256.6" font-size="7" fill="#222" stroke="#222" stroke-width="0.22" text-anchor="start" textLength="27.9" lengthAdjust="spacingAndGlyphs">0.4 − 0.6</text>
<rect x="638.10" y="258.08" width="7.70" height="7.96" fill="#8fcdf0"/>
<text x="650.7" y="264.6" font-size="7" fill="#222" stroke="#222" stroke-width="0.22" text-anchor="start" textLength="27.9" lengthAdjust="spacingAndGlyphs">0.2 − 0.4</text>
<rect x="638.10" y="266.04" width="7.70" height="7.96" fill="#222a7c"/>
<text x="650.7" y="272.5" font-size="7" fill="#222" stroke="#222" stroke-width="0.22" text-anchor="start" textLength="27.9" lengthAdjust="spacingAndGlyphs">0.0 − 0.2</text>
<line x1="495.40" y1="320.10" x2="495.40" y2="395.80" stroke="#555" stroke-width="1.0"/>
<line x1="492.40" y1="395.30" x2="677.70" y2="395.30" stroke="#555" stroke-width="1.0"/>
<text x="489.8" y="397.8" font-size="7" fill="#111" stroke="#111" stroke-width="0.22" text-anchor="end">0</text>
<line x1="492.20" y1="382.85" x2="495.40" y2="382.85" stroke="#555" stroke-width="0.9"/>
<text x="489.8" y="385.4" font-size="7" fill="#111" stroke="#111" stroke-width="0.22" text-anchor="end">2</text>
<line x1="492.20" y1="370.40" x2="495.40" y2="370.40" stroke="#555" stroke-width="0.9"/>
<text x="489.8" y="372.9" font-size="7" fill="#111" stroke="#111" stroke-width="0.22" text-anchor="end">4</text>
<line x1="492.20" y1="357.95" x2="495.40" y2="357.95" stroke="#555" stroke-width="0.9"/>
<text x="489.8" y="360.5" font-size="7" fill="#111" stroke="#111" stroke-width="0.22" text-anchor="end">6</text>
<line x1="492.20" y1="345.50" x2="495.40" y2="345.50" stroke="#555" stroke-width="0.9"/>
<text x="489.8" y="348.0" font-size="7" fill="#111" stroke="#111" stroke-width="0.22" text-anchor="end">8</text>
<line x1="492.20" y1="333.05" x2="495.40" y2="333.05" stroke="#555" stroke-width="0.9"/>
<text x="489.8" y="335.6" font-size="7" fill="#111" stroke="#111" stroke-width="0.22" text-anchor="end">10</text>
<line x1="492.20" y1="320.60" x2="495.40" y2="320.60" stroke="#555" stroke-width="0.9"/>
<text x="489.8" y="323.1" font-size="7" fill="#111" stroke="#111" stroke-width="0.22" text-anchor="end">12</text>
<text x="500.3" y="327.8" font-size="8.4" fill="#dca52a" font-weight="bold" stroke="#dca52a" stroke-width="0.25" text-anchor="start" textLength="42.7" lengthAdjust="spacingAndGlyphs">FN−f sQTL</text>
<clipPath id="mc6"><rect x="0" y="275.3" width="685" height="120"/></clipPath><g clip-path="url(#mc6)">
<path d="M496.1 393.9h0M496.2 392.1h0M498.9 393.6h0M503.6 393.0h0M501.5 393.8h0M499.9 391.5h0M498.1 393.2h0M500.0 394.3h0M496.9 393.5h0M503.1 393.4h0M496.1 392.2h0M496.8 392.3h0M495.9 393.1h0M496.9 394.0h0M499.5 392.4h0M499.6 393.5h0M499.3 393.2h0M498.2 391.6h0M497.3 394.2h0M500.7 393.9h0M502.4 394.3h0M501.9 393.9h0M504.3 393.8h0M499.6 393.8h0M500.6 394.1h0M501.9 393.8h0M502.2 394.0h0M499.8 393.1h0M502.3 393.3h0M499.6 394.3h0M496.6 394.2h0M509.6 394.0h0M521.5 393.7h0M527.7 393.9h0M511.1 394.1h0M508.6 392.0h0M519.5 393.9h0M525.3 393.0h0M515.7 393.1h0M521.4 393.5h0M507.3 393.6h0M528.7 393.5h0M521.0 394.3h0M524.3 392.5h0M514.3 393.6h0M517.8 393.9h0M510.2 394.2h0M522.2 393.2h0M528.9 390.7h0M526.9 392.2h0M526.0 394.4h0M508.2 390.4h0M526.8 393.2h0M520.5 393.5h0M515.6 394.2h0M518.7 393.9h0M508.0 391.0h0M519.4 391.4h0M512.3 392.9h0M511.9 391.8h0M510.2 392.6h0M518.9 393.7h0M507.0 393.2h0M518.1 391.7h0M510.1 394.1h0M512.6 391.8h0M510.8 392.7h0M505.8 394.3h0M522.7 393.5h0M507.8 393.0h0M528.5 393.4h0M518.9 393.4h0M517.6 394.3h0M527.1 393.3h0M513.7 393.8h0M509.7 390.6h0M526.0 393.8h0M520.1 393.1h0M510.0 394.3h0M523.4 394.2h0M519.1 394.4h0M505.5 394.1h0M521.3 392.9h0M529.8 392.3h0M518.1 394.4h0M529.0 393.1h0M526.4 394.3h0M525.9 393.6h0M510.4 393.5h0M506.9 392.8h0M510.5 392.4h0M509.3 392.0h0M520.4 392.5h0M528.8 393.8h0M522.1 393.6h0M527.4 392.6h0M524.1 393.3h0M511.5 391.5h0M529.2 390.8h0M513.5 391.7h0M522.0 392.0h0M525.1 393.6h0M514.9 391.8h0M521.4 393.1h0M526.8 394.4h0M505.3 393.3h0M507.4 391.7h0M507.2 391.5h0M510.6 394.2h0M523.8 393.1h0M515.3 393.1h0M518.8 391.1h0M517.7 393.0h0M516.6 393.6h0M522.3 394.3h0M522.3 391.6h0M524.0 393.4h0M513.8 394.3h0M507.3 393.0h0M527.0 392.4h0M509.6 391.7h0M525.2 393.6h0M526.5 394.2h0M536.7 392.7h0M544.5 393.3h0M536.0 390.8h0M537.8 393.5h0M534.5 393.2h0M544.1 393.6h0M543.2 393.1h0M530.2 391.0h0M535.8 392.6h0M549.2 394.0h0M531.3 394.0h0M533.1 391.7h0M540.3 394.3h0M535.4 392.7h0M533.5 393.8h0M548.1 393.2h0M534.7 392.8h0M532.3 393.0h0M543.0 394.3h0M541.0 393.9h0M544.9 392.6h0M548.2 392.5h0M533.7 394.1h0M544.1 391.7h0M531.3 393.4h0M535.7 392.9h0M547.4 392.5h0M544.9 391.9h0M535.6 392.2h0M537.5 393.3h0M540.6 392.9h0M533.4 391.8h0M533.2 393.8h0M547.0 390.1h0M537.3 390.2h0M530.7 391.0h0M534.0 394.3h0M545.2 394.1h0M545.0 394.4h0M532.5 393.6h0M531.7 393.2h0M536.9 391.5h0M539.9 391.4h0M546.9 394.1h0M548.3 391.0h0M541.3 393.3h0M533.4 393.7h0M534.4 394.1h0M542.3 393.9h0M545.4 392.5h0M546.5 394.3h0M546.9 392.8h0M542.6 393.9h0M543.9 393.4h0M544.4 392.7h0M532.8 393.8h0M545.0 394.4h0M542.6 392.9h0M544.3 393.7h0M539.5 393.3h0M545.0 394.3h0M540.2 394.0h0M541.8 394.0h0M534.1 394.0h0M547.9 393.5h0M547.6 391.9h0M535.4 392.5h0M530.2 391.1h0M542.6 394.2h0M540.4 393.4h0M543.4 393.8h0M548.2 392.4h0M531.5 391.7h0M567.7 393.8h0M564.2 392.4h0M567.6 394.3h0M566.7 393.8h0M566.0 391.8h0M559.3 391.9h0M566.1 389.9h0M569.2 392.8h0M564.7 393.0h0M558.0 393.4h0M560.2 393.9h0M555.2 392.4h0M566.9 391.7h0M563.8 393.5h0M561.5 391.8h0M550.1 393.2h0M569.4 394.0h0M559.3 394.3h0M555.1 392.5h0M550.7 391.5h0M566.0 390.7h0M555.1 392.1h0M557.4 393.6h0M569.0 392.9h0M563.6 394.3h0M550.1 393.8h0M552.1 391.4h0M555.0 391.3h0M563.6 394.2h0M564.2 393.9h0M560.5 394.3h0M566.7 391.2h0M561.6 391.7h0M556.8 394.3h0M556.5 392.8h0M561.3 394.1h0M554.8 393.3h0M550.3 394.3h0M559.0 394.2h0M567.8 394.2h0M565.0 392.6h0M556.3 393.4h0M569.8 392.6h0M557.7 391.6h0M555.2 392.1h0M556.2 393.7h0M556.3 393.1h0M567.6 392.3h0M553.6 391.2h0M564.5 393.5h0M567.0 394.2h0M562.0 391.1h0M565.5 391.9h0M551.3 393.1h0M555.4 393.2h0M557.9 393.5h0M560.8 392.3h0M567.8 393.8h0M555.5 394.2h0M552.3 391.3h0M568.4 394.2h0M557.2 392.2h0M567.3 390.0h0M569.9 393.8h0M551.3 393.9h0M560.0 394.4h0M555.1 393.6h0M563.6 394.2h0M552.5 393.6h0M551.8 394.2h0M552.1 391.5h0M567.6 394.3h0M566.1 390.9h0M579.8 393.6h0M582.3 394.3h0M570.7 391.7h0M573.3 391.8h0M581.3 394.3h0M571.4 392.9h0M572.2 392.8h0M580.1 394.1h0M577.1 394.0h0M583.1 392.5h0M580.4 393.0h0M570.9 392.0h0M581.7 393.4h0M578.9 392.7h0M581.3 393.3h0M574.2 393.3h0M573.2 394.4h0M577.8 390.5h0M580.8 394.1h0M577.6 392.2h0M578.7 392.9h0M577.6 391.6h0M583.2 393.0h0M581.8 392.8h0M571.8 394.0h0M574.7 393.8h0M577.4 393.8h0M585.0 392.0h0M575.6 392.1h0M583.9 394.1h0M579.4 389.8h0M575.6 391.2h0M582.1 393.9h0M572.2 392.3h0M576.2 393.6h0M577.0 392.0h0M583.4 391.1h0M581.5 394.2h0M575.5 394.4h0M573.0 393.8h0M572.7 393.4h0M572.0 392.9h0M576.2 393.9h0M580.3 393.9h0M570.4 392.2h0M581.3 392.1h0M574.4 394.0h0M580.4 394.2h0M584.5 392.4h0M578.2 394.3h0M574.2 393.6h0M584.7 394.2h0M578.9 394.3h0M584.6 391.9h0M582.2 392.6h0M572.7 394.0h0M570.6 393.2h0M571.2 394.1h0M572.6 391.8h0M581.8 393.9h0M584.6 394.1h0M587.1 393.7h0M597.1 394.1h0M596.8 390.7h0M597.0 392.6h0M585.6 394.3h0M595.8 391.2h0M596.5 393.6h0M589.2 394.0h0M597.8 390.4h0M587.3 392.5h0M585.6 393.5h0M588.9 392.0h0M595.8 389.5h0M588.0 394.3h0M594.6 391.3h0M585.1 392.4h0M598.5 392.9h0M592.8 391.8h0M598.9 390.7h0M592.7 391.1h0M592.3 394.3h0M593.2 393.1h0M590.0 393.5h0M588.3 393.8h0M596.2 387.0h0M591.8 391.4h0M586.9 393.3h0M596.2 388.3h0M590.8 394.1h0M599.4 391.0h0M594.8 393.3h0M586.7 393.1h0M591.1 391.3h0M594.9 390.9h0M593.5 391.1h0M587.0 391.4h0M593.7 392.0h0M587.8 394.3h0M595.6 389.1h0M595.0 393.7h0M592.3 391.7h0M594.6 389.8h0M586.3 392.4h0M585.2 393.1h0M593.0 394.3h0M591.3 392.3h0M598.0 394.2h0M592.6 391.0h0M586.8 391.9h0M599.1 393.0h0M588.1 394.2h0M588.3 393.4h0M595.6 386.6h0M593.4 389.7h0M591.4 392.4h0M585.0 393.7h0M585.3 394.2h0M597.1 394.0h0M589.5 393.0h0M592.9 394.3h0M586.7 392.7h0M591.1 394.3h0M592.2 393.5h0M600.0 394.3h0M587.7 394.3h0M593.3 389.7h0M596.7 394.0h0M593.1 393.3h0M599.7 390.1h0M594.1 393.7h0M591.5 392.9h0M590.7 392.8h0M586.4 393.6h0M599.8 392.6h0M592.6 391.2h0M597.2 388.6h0M590.7 392.2h0M588.0 392.7h0M585.2 394.1h0M587.6 393.7h0M596.1 394.3h0M598.1 394.2h0M599.3 387.8h0M594.2 390.4h0M599.1 392.3h0M597.8 394.3h0M596.7 389.7h0M596.6 393.8h0M586.2 393.3h0M594.1 391.4h0M587.7 393.0h0M599.5 393.5h0M597.3 385.7h0M595.1 391.9h0M591.3 393.2h0M586.9 394.3h0M589.2 394.1h0M598.5 392.9h0M598.1 391.5h0M598.5 388.5h0M595.7 391.8h0M588.7 392.9h0M589.7 391.6h0M585.6 393.0h0M590.1 393.4h0M593.1 389.6h0M599.9 392.8h0M599.4 387.7h0M592.9 392.3h0M588.0 392.0h0M592.3 391.7h0M598.8 390.9h0M595.4 390.9h0M587.0 393.4h0M585.9 394.2h0M599.7 392.7h0M587.0 393.5h0M585.9 393.1h0M588.4 394.0h0M594.6 389.7h0M585.2 392.8h0M593.7 392.7h0M606.3 394.4h0M605.3 390.2h0M605.0 383.4h0M605.1 385.8h0M612.2 389.2h0M607.4 390.3h0M612.7 393.9h0M603.4 394.4h0M607.4 390.9h0M614.3 383.6h0M606.1 390.4h0M601.6 387.2h0M607.8 393.5h0M613.2 394.3h0M602.9 390.9h0M615.0 393.7h0M604.0 387.0h0M605.0 384.5h0M600.3 393.1h0M604.6 386.1h0M601.5 388.3h0M613.3 383.0h0M612.1 394.3h0M607.2 393.2h0M601.8 393.0h0M611.0 391.3h0M602.0 392.7h0M601.0 384.6h0M611.3 392.0h0M614.4 382.8h0M603.1 393.0h0M602.9 389.2h0M608.9 389.8h0M611.6 391.6h0M604.7 388.6h0M614.2 394.2h0M607.3 393.8h0M611.2 392.3h0M612.6 388.0h0M614.4 389.1h0M608.9 382.7h0M612.0 392.9h0M601.6 384.6h0M601.0 384.7h0M614.0 388.0h0M614.2 388.7h0M611.2 391.1h0M603.3 394.1h0M611.1 392.2h0M601.9 389.7h0M604.0 393.0h0M613.1 388.6h0M611.2 389.1h0M606.6 390.9h0M606.5 392.0h0M611.7 388.4h0M604.5 388.0h0M603.2 394.4h0M610.3 389.5h0M604.9 383.8h0M610.8 393.1h0M611.4 388.8h0M602.1 384.7h0M606.5 392.7h0M605.7 390.1h0M607.9 392.4h0M600.9 388.9h0M610.8 390.2h0M605.9 385.5h0M600.3 393.9h0M600.3 389.9h0M607.8 393.1h0M607.9 394.4h0M600.5 384.1h0M613.3 394.2h0M609.8 389.9h0M608.1 385.1h0M609.6 383.2h0M610.2 388.2h0M601.7 386.1h0M604.8 385.0h0M611.9 387.5h0M611.3 392.6h0M607.9 386.1h0M600.9 390.0h0M608.5 387.0h0M605.1 389.1h0M611.0 392.7h0M610.2 388.3h0M605.5 390.1h0M607.3 385.6h0M604.0 392.8h0M605.9 388.5h0M602.3 383.6h0M607.5 386.9h0M606.2 394.3h0M605.8 389.5h0M601.4 383.7h0M608.8 390.6h0M600.4 393.0h0M605.1 388.6h0M602.6 390.9h0M604.1 389.9h0M610.3 391.7h0M611.3 390.9h0M601.3 388.5h0M607.3 386.8h0M614.1 391.9h0M612.8 393.1h0M609.8 394.4h0M612.4 392.2h0M606.8 390.4h0M605.6 393.1h0M610.4 390.9h0M600.8 392.8h0M614.0 392.6h0M604.4 389.7h0M605.6 384.1h0M614.7 393.8h0M603.4 393.6h0M606.7 392.7h0M610.1 388.5h0M601.1 394.3h0M601.7 392.5h0M602.0 391.2h0M605.5 387.5h0M614.5 382.8h0M606.3 388.6h0M602.0 389.1h0M613.3 384.5h0M602.1 393.6h0M613.5 387.5h0M611.4 394.2h0M609.3 394.3h0M611.1 389.3h0M604.8 394.4h0M611.0 387.3h0M609.3 391.7h0M604.9 386.6h0M614.5 391.7h0M603.3 384.0h0M606.4 391.1h0M604.7 387.8h0M614.7 390.5h0M612.8 391.4h0M606.3 386.3h0M627.6 389.9h0M624.2 387.8h0M626.9 382.0h0M621.9 392.4h0M615.1 390.3h0M619.6 394.4h0M627.9 393.2h0M627.1 394.3h0M619.7 389.8h0M623.8 389.6h0M621.3 394.1h0M625.8 385.5h0M621.2 390.9h0M625.5 389.7h0M621.2 391.6h0M624.6 388.9h0M619.4 389.9h0M619.9 390.7h0M619.9 388.7h0M627.2 385.2h0M620.0 393.0h0M620.6 390.5h0M615.4 390.1h0M627.1 394.1h0M626.6 388.6h0M628.0 390.2h0M624.3 388.7h0M620.5 394.0h0M626.1 383.4h0M624.4 393.5h0M621.5 391.3h0M619.7 392.1h0M620.9 386.4h0M623.1 385.9h0M626.8 393.4h0M625.0 391.2h0M622.8 390.7h0M624.6 392.9h0M623.8 392.4h0M625.2 389.7h0M623.4 385.7h0M618.6 394.4h0M626.6 389.3h0M623.4 387.8h0M626.6 391.2h0M627.8 392.7h0M624.4 387.8h0M619.7 392.6h0M619.8 393.0h0M620.4 387.9h0M615.8 384.0h0M625.3 388.8h0M623.3 392.9h0M624.9 387.3h0M620.0 392.0h0M617.8 393.5h0M626.1 387.5h0M620.8 390.2h0M617.4 394.4h0M619.6 391.5h0M617.4 390.2h0M619.2 393.5h0M624.6 392.5h0M624.7 388.7h0M619.9 394.3h0M626.0 388.9h0M622.5 389.4h0M622.1 387.3h0M615.1 384.3h0M623.0 392.1h0M626.8 383.1h0M622.8 394.4h0M623.1 392.1h0M622.5 388.2h0M616.7 386.2h0M619.0 393.5h0M615.5 394.0h0M618.5 391.8h0M627.2 393.4h0M618.8 392.9h0M623.3 392.5h0M623.7 393.9h0M615.6 389.7h0M624.4 393.9h0M615.6 388.6h0M615.9 385.0h0M624.0 393.8h0M620.3 394.3h0M616.1 392.2h0M626.4 382.8h0M624.8 389.9h0M622.6 391.2h0M623.5 391.3h0M620.2 388.1h0M618.9 392.7h0M623.8 386.1h0M619.5 392.5h0M620.2 393.6h0M619.6 389.7h0M617.4 390.9h0M618.7 391.5h0M625.1 393.8h0M621.3 393.7h0M623.4 389.5h0M617.9 393.6h0M618.9 393.1h0M626.6 383.5h0M625.3 391.1h0M620.9 393.6h0M621.0 386.7h0M616.2 391.8h0M617.5 389.2h0M618.9 392.1h0M615.7 388.3h0M621.7 388.5h0M624.4 388.8h0M618.4 393.5h0M622.8 394.3h0M627.2 386.2h0M621.4 392.6h0M616.0 390.0h0M625.0 393.8h0M616.3 388.4h0M621.1 388.6h0M620.3 386.3h0M626.3 391.9h0M622.0 390.7h0M629.8 390.2h0M630.8 387.1h0M629.0 392.1h0M630.2 389.6h0M628.1 389.4h0M629.8 394.0h0M631.4 390.6h0M631.0 388.2h0M630.5 385.5h0M628.2 393.1h0M628.7 391.1h0M628.9 394.3h0M628.5 393.9h0M630.2 391.1h0M629.9 394.4h0M630.1 393.0h0M628.4 394.3h0M628.6 392.7h0M628.7 392.3h0M628.7 390.3h0M631.5 392.7h0M628.3 388.1h0M628.3 390.9h0M631.0 391.2h0M631.6 393.9h0M630.9 386.0h0M631.6 387.5h0M629.7 392.3h0M631.4 392.2h0M629.0 394.3h0M628.8 394.0h0M631.7 392.9h0M629.4 388.6h0M630.8 391.5h0M628.4 392.9h0M629.2 388.7h0M629.7 388.8h0M629.1 394.3h0M639.2 394.2h0M638.3 391.5h0M634.3 391.3h0M635.4 385.9h0M636.5 386.3h0M639.4 392.9h0M637.5 390.6h0M637.2 394.3h0M637.5 390.3h0M633.5 394.2h0M632.5 392.8h0M632.8 391.3h0M635.3 385.8h0M637.9 392.7h0M633.5 393.3h0M636.9 387.3h0M639.1 393.2h0M632.2 389.8h0M637.5 389.8h0M638.4 389.9h0M637.0 387.8h0M633.0 390.7h0M637.3 394.1h0M633.3 392.3h0M634.4 390.7h0M634.2 393.0h0M636.0 386.4h0M634.4 391.0h0M637.8 391.7h0M639.6 389.2h0M638.0 391.9h0M632.4 393.5h0M637.2 394.0h0M637.1 392.6h0M635.1 387.9h0M638.7 390.4h0M635.6 391.0h0M639.9 388.8h0M636.9 394.2h0M639.2 394.3h0M632.9 392.2h0M633.6 391.7h0M637.5 393.8h0M639.3 388.2h0M637.3 385.8h0M638.4 392.4h0M638.6 388.8h0M637.6 394.2h0M635.0 392.0h0M634.9 394.1h0M635.6 393.9h0M635.8 394.1h0M643.6 393.8h0M644.7 394.1h0M643.2 391.3h0M641.0 391.2h0M642.7 391.6h0M640.9 392.3h0M644.2 391.3h0M641.2 393.1h0M644.4 394.3h0M642.4 391.8h0M642.2 394.4h0M640.5 389.7h0M642.3 393.3h0M642.3 394.3h0M640.4 389.8h0M643.8 393.8h0M641.6 394.2h0M641.6 391.9h0M643.8 392.1h0M644.2 388.0h0M642.8 394.3h0M640.7 391.0h0M640.7 389.2h0M640.3 394.3h0M645.0 392.6h0M642.8 391.7h0M640.6 393.2h0M641.8 390.1h0M643.9 390.7h0M640.9 392.4h0M644.6 393.9h0M641.7 391.2h0M645.0 394.3h0M643.5 392.5h0M642.6 389.9h0M640.5 391.6h0M641.6 390.1h0M643.6 392.7h0M640.8 390.2h0M643.5 391.8h0M643.7 388.6h0M641.2 390.7h0M644.0 393.5h0M644.5 393.2h0M644.8 391.4h0M659.6 388.8h0M656.7 391.7h0M651.9 390.9h0M657.1 391.2h0M658.5 393.7h0M652.8 393.7h0M647.6 392.7h0M645.7 390.2h0M654.3 391.5h0M657.0 389.6h0M655.3 394.1h0M649.9 394.3h0M647.4 386.8h0M647.0 389.9h0M650.7 390.1h0M658.1 389.4h0M659.5 388.1h0M651.0 386.8h0M656.4 392.6h0M649.9 390.4h0M657.7 394.2h0M658.4 390.7h0M653.9 391.3h0M650.7 392.4h0M655.7 390.9h0M655.7 384.7h0M646.3 394.3h0M659.1 393.8h0M657.2 391.3h0M648.4 394.4h0M651.4 390.8h0M645.8 394.4h0M649.3 385.7h0M656.3 392.8h0M651.1 392.3h0M655.6 392.6h0M650.3 391.6h0M648.6 391.4h0M656.2 390.1h0M645.8 392.4h0M653.6 393.1h0M650.8 391.1h0M650.5 393.8h0M658.1 394.3h0M658.6 394.2h0M653.3 389.7h0M651.1 390.5h0M658.3 393.2h0M645.9 393.5h0M658.2 391.3h0M656.3 391.5h0M649.9 388.3h0M653.5 384.2h0M647.4 392.4h0M655.4 384.2h0M652.0 388.9h0M646.6 389.4h0M649.9 388.3h0M649.5 393.5h0M649.0 387.9h0M655.7 384.1h0M651.2 394.2h0M657.1 392.8h0M655.8 390.3h0M651.7 394.3h0M648.4 387.6h0M651.9 387.9h0M657.1 389.7h0M659.7 394.4h0M651.0 391.4h0M645.8 386.6h0M647.2 390.1h0M649.1 391.9h0M652.0 393.2h0M647.6 388.7h0M654.4 394.1h0M659.6 394.1h0M648.3 392.8h0M650.5 391.7h0M658.5 394.2h0M653.6 388.6h0M648.9 392.1h0M651.7 387.9h0M656.7 390.4h0M646.0 392.3h0M657.3 391.0h0M650.9 390.4h0M645.6 389.4h0M655.3 393.9h0M651.3 388.2h0M648.9 390.3h0M650.2 391.2h0M650.9 392.8h0M658.9 390.5h0M660.0 393.1h0M652.0 392.6h0M658.0 392.9h0M655.2 393.5h0M653.1 392.7h0M658.7 392.9h0M659.3 391.5h0M650.1 391.2h0M659.0 390.5h0M657.4 389.3h0M654.3 393.8h0M657.5 388.3h0M654.7 392.4h0M656.4 389.8h0M649.8 384.0h0M656.6 387.7h0M657.6 390.5h0M650.8 387.2h0M658.6 390.7h0M651.5 391.6h0M645.7 386.3h0M657.5 388.9h0M652.0 388.8h0M645.3 391.9h0M648.8 389.4h0M650.3 390.7h0M658.5 392.6h0M646.7 394.4h0M657.5 392.3h0M651.6 394.3h0M646.5 394.4h0M658.4 394.3h0M649.8 390.9h0M653.6 393.1h0M654.7 388.4h0M659.8 394.2h0M649.4 394.0h0M649.3 393.3h0M645.5 387.4h0M649.1 387.6h0M657.2 385.9h0M645.4 390.1h0M657.8 391.1h0M654.1 391.1h0M657.3 389.7h0M650.3 391.7h0M652.1 393.7h0M655.1 385.4h0M654.8 394.4h0M651.1 389.2h0M647.0 390.9h0M655.2 389.8h0M665.8 394.3h0M672.3 393.5h0M670.5 389.3h0M672.7 393.9h0M677.0 386.7h0M675.3 393.4h0M672.6 391.6h0M672.3 386.6h0M667.2 386.7h0M667.7 391.4h0M672.5 393.7h0M675.7 392.1h0M675.5 393.7h0M662.2 391.1h0M664.2 390.3h0M663.5 385.7h0M672.9 387.5h0M662.3 394.3h0M670.2 394.1h0M672.5 389.5h0M676.3 385.6h0M671.5 384.4h0M668.9 392.9h0M661.1 390.2h0M671.7 387.7h0M669.0 391.5h0M676.1 391.6h0M662.4 387.7h0M673.3 384.1h0M677.2 390.9h0M662.7 389.5h0M668.6 392.1h0M673.8 392.9h0M677.0 393.2h0M665.0 383.7h0M664.1 385.7h0M664.8 390.7h0M668.2 393.2h0M674.4 383.3h0M676.2 393.6h0M660.5 392.3h0M673.0 389.5h0M676.8 382.7h0M671.9 392.6h0M667.0 394.2h0M666.9 389.0h0M665.5 393.7h0M669.4 386.3h0M671.3 393.9h0M667.6 393.3h0M674.2 391.1h0M667.8 386.6h0M665.2 391.9h0M677.2 392.3h0M669.4 389.4h0M665.9 390.2h0M667.4 388.1h0M669.7 388.5h0M670.0 386.7h0M666.8 393.9h0M666.4 392.8h0M660.3 389.6h0M669.2 391.2h0M672.3 394.1h0M662.2 390.0h0M660.7 388.6h0M668.9 385.4h0M675.0 391.3h0M666.0 392.0h0M673.5 390.6h0M672.6 382.5h0M673.1 389.9h0M673.0 390.2h0M670.2 390.8h0M676.4 382.7h0M669.9 390.4h0M661.8 391.3h0M676.3 393.0h0M673.6 392.8h0M672.5 392.4h0M670.4 385.4h0M660.6 388.9h0M669.2 393.2h0M665.4 391.0h0M673.0 393.5h0M661.2 393.6h0M671.1 391.0h0M673.4 386.9h0M666.4 390.6h0M662.6 387.7h0M671.3 392.8h0M671.7 393.7h0M677.0 389.5h0M676.1 387.9h0M663.8 385.6h0M670.8 391.3h0M672.1 385.5h0M671.9 393.0h0M676.9 384.1h0M667.6 386.0h0M677.4 392.0h0M663.3 392.7h0M668.6 393.8h0M664.2 385.6h0M660.3 391.0h0M667.1 389.4h0M664.5 389.7h0M663.7 394.3h0M675.1 391.8h0M665.2 386.9h0M666.5 391.1h0M662.5 392.5h0M675.3 385.5h0M674.3 383.7h0M664.0 394.2h0M662.3 390.6h0M669.5 392.2h0M672.5 393.0h0M670.6 390.8h0M662.4 389.5h0M663.2 384.4h0M673.3 390.9h0M667.9 393.5h0M662.4 390.2h0M666.5 390.9h0M666.4 393.2h0M662.9 385.1h0M667.6 393.8h0M675.3 393.7h0M664.0 393.5h0M669.8 387.9h0M660.5 388.1h0M672.3 384.3h0M667.4 392.0h0M661.6 393.4h0M675.2 392.6h0M675.8 385.4h0M676.1 393.7h0M667.4 388.0h0M665.4 393.4h0M660.4 391.6h0M669.6 393.4h0M664.5 387.3h0M663.0 384.6h0M675.3 391.2h0M662.3 391.3h0M665.2 394.1h0M672.4 388.8h0M664.7 392.6h0M672.7 383.8h0M666.2 390.7h0M663.9 389.9h0M670.2 392.1h0M670.6 389.1h0M660.8 394.1h0M667.2 393.9h0M669.6 390.0h0M670.9 383.3h0M670.6 385.4h0M662.0 388.6h0M676.3 389.0h0M674.5 389.4h0M667.6 393.8h0M668.4 388.7h0M673.9 384.1h0M669.1 385.7h0M666.5 394.3h0M667.5 391.1h0M673.5 393.0h0M660.4 390.0h0M663.3 383.4h0M669.9 393.9h0M669.1 387.9h0M663.9 381.3h0M661.0 394.0h0M670.4 387.0h0M670.5 382.6h0M663.5 394.2h0M669.4 392.4h0M666.9 392.3h0M675.4 392.6h0M672.1 388.7h0M665.0 382.1h0M664.5 392.0h0M663.4 386.2h0M548.3 386.9h0M541.4 387.1h0M544.0 386.4h0M547.9 389.1h0M540.5 386.4h0M550.4 388.5h0M542.7 387.0h0M550.0 387.2h0M551.5 388.5h0M550.9 388.7h0M547.2 382.9h0M548.7 383.7h0M544.2 384.3h0M550.8 387.4h0M549.3 383.6h0M542.6 387.2h0M549.2 385.6h0M551.0 386.4h0M545.4 388.1h0M543.3 384.8h0M543.1 384.7h0M549.6 385.6h0M543.6 389.1h0M541.4 386.3h0M551.5 383.0h0M543.4 384.5h0M545.3 386.8h0M550.9 384.0h0M548.1 387.4h0M554.5 388.2h0M558.1 388.3h0M565.1 387.1h0M557.0 385.8h0M560.5 389.1h0M552.2 385.6h0M552.7 386.2h0M552.6 386.7h0M566.2 385.8h0M557.0 385.9h0M574.4 386.3h0M573.4 385.7h0M560.5 385.4h0M561.5 383.8h0M555.9 388.2h0M562.4 385.5h0M574.8 387.9h0M552.1 386.6h0M572.2 388.7h0M563.9 387.0h0M571.3 387.9h0M566.0 383.2h0M574.4 387.2h0M559.8 386.4h0M568.8 385.9h0M567.5 387.2h0M568.5 387.4h0M557.3 388.7h0M564.7 388.5h0M558.5 387.8h0M560.6 386.3h0M574.4 387.3h0M564.6 387.7h0M564.6 386.3h0M564.0 387.3h0M560.1 387.8h0M556.9 388.7h0M558.5 388.9h0M561.6 385.3h0M554.6 385.3h0M562.4 385.0h0M561.9 383.8h0M567.6 388.5h0M564.6 388.2h0M569.2 387.3h0M557.2 388.9h0M574.7 388.7h0M557.8 385.1h0M553.2 387.0h0M562.0 384.6h0M570.0 384.6h0M559.3 388.7h0M557.0 389.1h0M558.2 386.5h0M572.6 388.7h0M558.2 385.3h0M589.7 387.9h0M576.8 388.8h0M580.4 387.2h0M576.4 386.9h0M595.4 389.1h0M582.2 387.8h0M590.2 387.1h0M592.0 387.9h0M583.5 386.6h0M586.5 386.5h0M588.2 387.4h0M591.6 387.8h0M587.3 387.3h0M590.0 386.2h0M582.6 387.1h0M599.4 386.2h0M588.9 388.2h0M579.5 386.8h0M585.7 387.9h0M581.4 387.6h0M589.3 388.8h0M591.5 387.2h0M579.9 387.7h0M576.0 387.0h0M591.9 388.0h0M589.7 387.3h0M576.1 388.8h0M587.7 386.4h0M592.7 387.7h0M581.5 388.7h0M591.2 387.0h0M584.8 388.7h0M581.9 387.0h0M594.3 387.8h0M597.2 387.1h0M575.6 388.2h0M597.3 385.6h0M577.2 387.8h0M584.9 387.2h0M575.6 385.1h0M588.3 388.3h0M575.8 386.6h0M598.3 386.5h0M596.5 384.7h0M591.6 388.9h0M582.8 386.8h0M585.4 388.5h0M576.7 385.3h0M591.7 388.3h0M586.8 386.7h0M578.6 385.7h0M580.8 386.4h0M499.5 387.2h0M509.0 387.2h0M516.3 384.1h0M537.4 386.0h0M541.1 383.5h0M548.4 383.5h0M552.0 381.6h0M562.3 382.9h0M568.1 381.6h0M558.6 358.3h0M555.0 365.4h0M556.4 368.5h0M557.2 371.0h0M554.2 376.0h0M561.5 363.6h0M563.7 362.9h0M565.9 370.4h0M567.4 373.5h0M574.7 368.5h0M578.3 368.5h0M591.6 367.9h0M599.6 368.5h0M612.7 376.0h0M623.0 374.4h0M628.8 373.5h0M638.3 378.2h0M644.0 377.2h0M663.8 367.3h0M661.6 372.3h0M666.8 375.4h0M674.0 377.2h0M656.5 381.6h0M620.0 379.1h0M650.0 379.7h0M670.0 379.1h0M608.0 379.7h0M582.0 377.9h0M583.3 377.9h0M584.6 377.9h0M585.9 377.9h0M587.2 377.9h0M588.5 377.9h0M589.8 377.9h0M591.1 377.9h0M592.4 377.9h0M593.7 377.9h0M599.6 378.2h0M600.9 378.2h0M602.2 378.2h0M603.5 378.2h0M604.8 378.2h0M606.1 378.2h0M607.4 378.2h0" stroke="#222a7c" stroke-width="3.5" stroke-linecap="round" fill="none"/>
<path d="M558.9 356.1h0M553.5 362.9h0M563.0 365.4h0M565.2 366.7h0M566.6 360.4h0M544.7 390.9h0M546.0 391.6h0M626.6 370.4h0M644.9 377.2h0M658.7 378.2h0M630.3 387.8h0M611.3 372.9h0M605.0 371.6h0M607.0 370.4h0M609.0 374.8h0M569.6 379.1h0M571.0 378.5h0M572.4 377.9h0M573.9 377.2h0M575.3 376.6h0M576.7 376.0h0M578.1 375.4h0M579.5 374.8h0M581.0 374.1h0M581.0 373.1h0M582.4 373.0h0M583.8 373.7h0M585.2 373.5h0M586.6 373.7h0M588.0 373.7h0M589.4 372.9h0M590.8 372.9h0M592.2 372.9h0M593.6 373.0h0M595.0 373.5h0M596.4 373.3h0M604.0 372.1h0M605.3 373.0h0M606.6 372.1h0M607.9 372.3h0M609.2 373.3h0M610.5 373.2h0M642.7 387.8h0M637.6 387.6h0M635.8 382.3h0M646.3 382.9h0M640.5 383.5h0M642.6 385.8h0M640.7 388.1h0M637.4 386.5h0" stroke="#8fcdf0" stroke-width="3.5" stroke-linecap="round" fill="none"/>
</g>
<circle cx="586.00" cy="355.30" r="1.60" fill="#3e9a4b"/>
<polygon points="582.45,334.24 589.55,334.24 586.00,327.36" fill="#e23b2e" stroke="#111" stroke-width="1"/>
<text x="565.1" y="323.0" font-size="8" fill="#111" stroke="#111" stroke-width="0.22" text-anchor="start" textLength="39.3" lengthAdjust="spacingAndGlyphs">rs1867577</text>
<text x="487.5" y="418.7" font-size="8" fill="#aaa" stroke="#aaa" stroke-width="0.22" text-anchor="middle">+</text>
<text x="487.5" y="427.7" font-size="8" fill="#aaa" stroke="#aaa" stroke-width="0.22" text-anchor="middle">−</text>
<line x1="495.10" y1="424.30" x2="546.70" y2="424.30" stroke="#c0c0c0" stroke-width="1.7"/>
<rect x="495.10" y="421.00" width="11.30" height="6.60" fill="#c0c0c0"/>
<rect x="507.90" y="421.00" width="1.00" height="6.60" fill="#c0c0c0"/>
<rect x="511.50" y="421.00" width="1.00" height="6.60" fill="#c0c0c0"/>
<rect x="515.50" y="421.00" width="1.60" height="6.60" fill="#c0c0c0"/>
<rect x="520.10" y="421.00" width="1.60" height="6.60" fill="#c0c0c0"/>
<rect x="524.20" y="421.00" width="1.10" height="6.60" fill="#c0c0c0"/>
<rect x="527.30" y="421.00" width="8.70" height="6.60" fill="#c0c0c0"/>
<rect x="545.60" y="421.00" width="1.10" height="6.60" fill="#c0c0c0"/>
<text x="506.3" y="435.7" font-size="7.2" fill="#999" font-style="italic" stroke="#999" stroke-width="0.22" text-anchor="start" textLength="28.7" lengthAdjust="spacingAndGlyphs">FRMPD2</text>
<line x1="559.70" y1="415.60" x2="618.00" y2="415.60" stroke="#2d9fdc" stroke-width="1.7"/>
<rect x="559.70" y="413.85" width="1.20" height="3.50" fill="#2d9fdc"/>
<rect x="569.00" y="414.35" width="0.80" height="2.50" fill="#2d9fdc"/>
<rect x="603.40" y="412.25" width="2.20" height="6.70" fill="#2d9fdc"/>
<rect x="606.50" y="412.25" width="2.60" height="6.70" fill="#2d9fdc"/>
<rect x="612.00" y="412.25" width="2.20" height="6.70" fill="#2d9fdc"/>
<rect x="614.80" y="412.25" width="2.40" height="6.70" fill="#2d9fdc"/>
<polygon points="617,412.2 620.7,415.6 617,419" fill="#2d9fdc"/>
<path d="M581.20,415.00 C581.20,404.34 603.40,404.34 603.40,415.00" fill="none" stroke="#e23b2e" stroke-width="1.3"/>
<text x="577.8" y="425.6" font-size="7.2" fill="#2d9fdc" font-style="italic" stroke="#2d9fdc" stroke-width="0.22" text-anchor="start" textLength="23.7" lengthAdjust="spacingAndGlyphs">MAPK8</text>
<line x1="624.30" y1="424.30" x2="677.40" y2="424.30" stroke="#c0c0c0" stroke-width="1.7"/>
<rect x="624.30" y="421.20" width="5.70" height="6.20" fill="#c0c0c0"/>
<rect x="632.30" y="421.20" width="0.90" height="6.20" fill="#c0c0c0"/>
<rect x="641.80" y="421.20" width="0.90" height="6.20" fill="#c0c0c0"/>
<rect x="650.40" y="421.20" width="0.90" height="6.20" fill="#c0c0c0"/>
<rect x="656.10" y="421.20" width="0.90" height="6.20" fill="#c0c0c0"/>
<rect x="664.60" y="421.20" width="0.90" height="6.20" fill="#c0c0c0"/>
<rect x="671.50" y="421.20" width="0.90" height="6.20" fill="#c0c0c0"/>
<rect x="677.00" y="421.20" width="0.90" height="6.20" fill="#c0c0c0"/>
<text x="632.8" y="436.0" font-size="7.2" fill="#999" font-style="italic" stroke="#999" stroke-width="0.22" text-anchor="start" textLength="37.0" lengthAdjust="spacingAndGlyphs">ARHGAP22</text>
<line x1="495.00" y1="439.30" x2="677.50" y2="439.30" stroke="#333" stroke-width="0.8"/>
<text x="495.0" y="448.2" font-size="7.4" fill="#111" stroke="#111" stroke-width="0.22" text-anchor="start" textLength="47.3" lengthAdjust="spacingAndGlyphs">48,163,142 bp</text>
<text x="577.3" y="448.2" font-size="7.4" fill="#111" font-weight="bold" stroke="#111" stroke-width="0.25" text-anchor="start" textLength="18.8" lengthAdjust="spacingAndGlyphs">chr10</text>
<text x="629.7" y="448.2" font-size="7.4" fill="#111" stroke="#111" stroke-width="0.22" text-anchor="start" textLength="47.8" lengthAdjust="spacingAndGlyphs">48,563,142 bp</text>
<text x="561.8" y="467.2" font-size="7.4" fill="#e0322c" stroke="#e0322c" stroke-width="0.22" text-anchor="start" textLength="48.7" lengthAdjust="spacingAndGlyphs">intron junction</text>
<text x="534.6" y="477.3" font-size="7.8" fill="#111" font-weight="bold" stroke="#111" stroke-width="0.25" text-anchor="start" textLength="103.4" lengthAdjust="spacingAndGlyphs">chr10:48363284−48401612</text>
<text x="530.6" y="492.5" font-size="7.4" fill="#3674c0" font-weight="bold" stroke="#3674c0" stroke-width="0.25" text-anchor="start" textLength="14.4" lengthAdjust="spacingAndGlyphs">PBS</text>
<text x="517.1" y="500.7" font-size="7.4" fill="#3674c0" stroke="#3674c0" stroke-width="0.22" text-anchor="start" textLength="42.0" lengthAdjust="spacingAndGlyphs">Beta: −0.010</text>
<text x="507.7" y="508.6" font-size="7.4" fill="#3674c0" stroke="#3674c0" stroke-width="0.22" text-anchor="start" textLength="60.8" lengthAdjust="spacingAndGlyphs">p−value: 4.19e−01</text>
<text x="631.3" y="492.5" font-size="7.4" fill="#d19c1c" font-weight="bold" stroke="#d19c1c" stroke-width="0.25" text-anchor="start" textLength="17.8" lengthAdjust="spacingAndGlyphs">FN−f</text>
<text x="619.5" y="500.7" font-size="7.4" fill="#d19c1c" stroke="#d19c1c" stroke-width="0.22" text-anchor="start" textLength="41.0" lengthAdjust="spacingAndGlyphs">Beta: −0.617</text>
<text x="609.5" y="508.6" font-size="7.4" fill="#d19c1c" stroke="#d19c1c" stroke-width="0.22" text-anchor="start" textLength="60.4" lengthAdjust="spacingAndGlyphs">p−value: 5.34e−11</text>
<line x1="494.90" y1="513.30" x2="494.90" y2="627.20" stroke="#999" stroke-width="1.4"/>
<line x1="494.90" y1="515.80" x2="497.90" y2="515.80" stroke="#333" stroke-width="0.9"/>
<text x="491.9" y="518.3" font-size="7.2" fill="#333" stroke="#333" stroke-width="0.1" text-anchor="end">3</text>
<line x1="494.90" y1="533.60" x2="497.90" y2="533.60" stroke="#333" stroke-width="0.9"/>
<text x="491.9" y="536.1" font-size="7.2" fill="#333" stroke="#333" stroke-width="0.1" text-anchor="end">2</text>
<line x1="494.90" y1="551.40" x2="497.90" y2="551.40" stroke="#333" stroke-width="0.9"/>
<text x="491.9" y="553.9" font-size="7.2" fill="#333" stroke="#333" stroke-width="0.1" text-anchor="end">1</text>
<line x1="494.90" y1="569.20" x2="497.90" y2="569.20" stroke="#333" stroke-width="0.9"/>
<text x="491.9" y="571.7" font-size="7.2" fill="#333" stroke="#333" stroke-width="0.1" text-anchor="end">0</text>
<line x1="494.90" y1="587.00" x2="497.90" y2="587.00" stroke="#333" stroke-width="0.9"/>
<text x="491.9" y="589.5" font-size="7.2" fill="#333" stroke="#333" stroke-width="0.1" text-anchor="end">−1</text>
<line x1="494.90" y1="604.80" x2="497.90" y2="604.80" stroke="#333" stroke-width="0.9"/>
<text x="491.9" y="607.3" font-size="7.2" fill="#333" stroke="#333" stroke-width="0.1" text-anchor="end">−2</text>
<line x1="494.90" y1="622.60" x2="497.90" y2="622.60" stroke="#333" stroke-width="0.9"/>
<text x="491.9" y="625.1" font-size="7.2" fill="#333" stroke="#333" stroke-width="0.1" text-anchor="end">−3</text>
<line x1="494.90" y1="569.20" x2="682.70" y2="569.20" stroke="#666" stroke-width="0.9" stroke-dasharray="4,3"/>
<line x1="500.90" y1="569.20" x2="521.00" y2="569.20" stroke="#666" stroke-width="1.2"/>
<circle cx="509.51" cy="569.30" r="0.90" fill="#5a5a5a"/>
<circle cx="508.34" cy="569.04" r="0.90" fill="#5a5a5a"/>
<circle cx="514.73" cy="569.37" r="0.90" fill="#5a5a5a"/>
<circle cx="515.32" cy="569.37" r="0.90" fill="#5a5a5a"/>
<circle cx="507.87" cy="569.19" r="0.90" fill="#5a5a5a"/>
<circle cx="514.32" cy="569.38" r="0.90" fill="#5a5a5a"/>
<circle cx="508.20" cy="569.19" r="0.90" fill="#5a5a5a"/>
<circle cx="511.85" cy="568.91" r="0.90" fill="#5a5a5a"/>
<circle cx="508.36" cy="569.34" r="0.90" fill="#5a5a5a"/>
<circle cx="512.63" cy="569.17" r="0.90" fill="#5a5a5a"/>
<circle cx="511.67" cy="569.22" r="0.90" fill="#5a5a5a"/>
<circle cx="509.39" cy="568.95" r="0.90" fill="#5a5a5a"/>
<line x1="527.80" y1="569.20" x2="547.90" y2="569.20" stroke="#666" stroke-width="1.2"/>
<circle cx="540.29" cy="569.36" r="0.90" fill="#5a5a5a"/>
<circle cx="537.19" cy="569.36" r="0.90" fill="#5a5a5a"/>
<circle cx="541.16" cy="569.31" r="0.90" fill="#5a5a5a"/>
<circle cx="540.96" cy="569.48" r="0.90" fill="#5a5a5a"/>
<circle cx="533.20" cy="569.47" r="0.90" fill="#5a5a5a"/>
<circle cx="537.37" cy="569.37" r="0.90" fill="#5a5a5a"/>
<circle cx="540.24" cy="568.96" r="0.90" fill="#5a5a5a"/>
<circle cx="538.72" cy="568.95" r="0.90" fill="#5a5a5a"/>
<circle cx="540.19" cy="569.10" r="0.90" fill="#5a5a5a"/>
<circle cx="536.60" cy="569.06" r="0.90" fill="#5a5a5a"/>
<circle cx="540.98" cy="569.28" r="0.90" fill="#5a5a5a"/>
<circle cx="535.82" cy="569.34" r="0.90" fill="#5a5a5a"/>
<line x1="554.80" y1="569.20" x2="574.40" y2="569.20" stroke="#666" stroke-width="1.2"/>
<circle cx="561.58" cy="569.38" r="0.90" fill="#5a5a5a"/>
<circle cx="565.60" cy="569.36" r="0.90" fill="#5a5a5a"/>
<circle cx="565.72" cy="569.49" r="0.90" fill="#5a5a5a"/>
<circle cx="566.47" cy="569.18" r="0.90" fill="#5a5a5a"/>
<circle cx="565.47" cy="569.24" r="0.90" fill="#5a5a5a"/>
<circle cx="562.54" cy="569.08" r="0.90" fill="#5a5a5a"/>
<circle cx="567.47" cy="569.39" r="0.90" fill="#5a5a5a"/>
<circle cx="569.07" cy="569.31" r="0.90" fill="#5a5a5a"/>
<circle cx="564.65" cy="569.14" r="0.90" fill="#5a5a5a"/>
<circle cx="566.57" cy="569.29" r="0.90" fill="#5a5a5a"/>
<circle cx="568.86" cy="569.35" r="0.90" fill="#5a5a5a"/>
<circle cx="563.48" cy="569.07" r="0.90" fill="#5a5a5a"/>
<circle cx="509.20" cy="523.45" r="0.95" fill="#444"/>
<circle cx="513.30" cy="533.96" r="0.95" fill="#444"/>
<circle cx="539.60" cy="530.04" r="0.95" fill="#444"/>
<circle cx="539.60" cy="537.16" r="0.95" fill="#444"/>
<line x1="612.95" y1="522.56" x2="612.95" y2="582.02" stroke="#555" stroke-width="0.8"/>
<rect x="602.60" y="545.88" width="20.70" height="15.49" fill="#f9d67c" stroke="#444" stroke-width="0.8"/>
<line x1="602.60" y1="553.36" x2="623.30" y2="553.36" stroke="#222" stroke-width="1.4"/>
<circle cx="612.49" cy="549.28" r="0.95" fill="#5a5a5a"/>
<circle cx="612.92" cy="560.55" r="0.95" fill="#5a5a5a"/>
<circle cx="614.51" cy="565.53" r="0.95" fill="#5a5a5a"/>
<circle cx="613.56" cy="542.76" r="0.95" fill="#5a5a5a"/>
<circle cx="613.49" cy="550.92" r="0.95" fill="#5a5a5a"/>
<circle cx="612.02" cy="551.38" r="0.95" fill="#5a5a5a"/>
<circle cx="611.93" cy="544.89" r="0.95" fill="#5a5a5a"/>
<circle cx="610.96" cy="559.01" r="0.95" fill="#5a5a5a"/>
<circle cx="614.88" cy="554.47" r="0.95" fill="#5a5a5a"/>
<circle cx="611.27" cy="554.08" r="0.95" fill="#5a5a5a"/>
<circle cx="612.27" cy="546.51" r="0.95" fill="#5a5a5a"/>
<circle cx="611.10" cy="558.10" r="0.95" fill="#5a5a5a"/>
<circle cx="610.42" cy="563.45" r="0.95" fill="#5a5a5a"/>
<circle cx="616.07" cy="554.35" r="0.95" fill="#5a5a5a"/>
<circle cx="615.97" cy="555.12" r="0.95" fill="#5a5a5a"/>
<circle cx="612.30" cy="554.74" r="0.95" fill="#5a5a5a"/>
<circle cx="612.77" cy="559.01" r="0.95" fill="#5a5a5a"/>
<circle cx="612.80" cy="559.73" r="0.95" fill="#5a5a5a"/>
<circle cx="611.96" cy="552.05" r="0.95" fill="#5a5a5a"/>
<circle cx="612.34" cy="535.48" r="0.95" fill="#5a5a5a"/>
<circle cx="611.11" cy="560.15" r="0.95" fill="#5a5a5a"/>
<circle cx="610.64" cy="548.87" r="0.95" fill="#5a5a5a"/>
<circle cx="612.09" cy="527.66" r="0.95" fill="#5a5a5a"/>
<circle cx="611.86" cy="550.95" r="0.95" fill="#5a5a5a"/>
<circle cx="612.85" cy="550.19" r="0.95" fill="#5a5a5a"/>
<circle cx="610.49" cy="552.65" r="0.95" fill="#5a5a5a"/>
<circle cx="610.82" cy="556.81" r="0.95" fill="#5a5a5a"/>
<circle cx="613.12" cy="550.49" r="0.95" fill="#5a5a5a"/>
<circle cx="612.45" cy="551.00" r="0.95" fill="#5a5a5a"/>
<circle cx="609.80" cy="569.29" r="0.95" fill="#5a5a5a"/>
<circle cx="612.20" cy="550.60" r="0.95" fill="#5a5a5a"/>
<circle cx="611.31" cy="556.06" r="0.95" fill="#5a5a5a"/>
<circle cx="611.54" cy="530.69" r="0.95" fill="#5a5a5a"/>
<circle cx="610.59" cy="554.25" r="0.95" fill="#5a5a5a"/>
<circle cx="616.09" cy="550.40" r="0.95" fill="#5a5a5a"/>
<circle cx="611.43" cy="528.31" r="0.95" fill="#5a5a5a"/>
<circle cx="610.44" cy="548.82" r="0.95" fill="#5a5a5a"/>
<circle cx="614.26" cy="571.58" r="0.95" fill="#5a5a5a"/>
<circle cx="615.30" cy="560.01" r="0.95" fill="#5a5a5a"/>
<circle cx="615.97" cy="554.39" r="0.95" fill="#5a5a5a"/>
<circle cx="614.27" cy="568.60" r="0.95" fill="#5a5a5a"/>
<circle cx="611.75" cy="554.18" r="0.95" fill="#5a5a5a"/>
<circle cx="611.50" cy="556.68" r="0.95" fill="#5a5a5a"/>
<circle cx="612.18" cy="547.84" r="0.95" fill="#5a5a5a"/>
<circle cx="614.09" cy="548.80" r="0.95" fill="#5a5a5a"/>
<circle cx="615.71" cy="546.61" r="0.95" fill="#5a5a5a"/>
<circle cx="615.06" cy="562.43" r="0.95" fill="#5a5a5a"/>
<circle cx="612.17" cy="560.88" r="0.95" fill="#5a5a5a"/>
<circle cx="615.82" cy="549.66" r="0.95" fill="#5a5a5a"/>
<circle cx="616.02" cy="532.30" r="0.95" fill="#5a5a5a"/>
<circle cx="609.77" cy="547.31" r="0.95" fill="#5a5a5a"/>
<circle cx="612.95" cy="576.79" r="0.95" fill="#5a5a5a"/>
<circle cx="613.82" cy="560.26" r="0.95" fill="#5a5a5a"/>
<circle cx="611.32" cy="568.73" r="0.95" fill="#5a5a5a"/>
<circle cx="609.87" cy="550.59" r="0.95" fill="#5a5a5a"/>
<circle cx="612.95" cy="522.56" r="0.95" fill="#5a5a5a"/>
<circle cx="612.95" cy="582.02" r="0.95" fill="#5a5a5a"/>
<line x1="639.95" y1="553.00" x2="639.95" y2="594.12" stroke="#555" stroke-width="0.8"/>
<rect x="629.90" y="568.67" width="20.10" height="14.42" fill="#f9d67c" stroke="#444" stroke-width="0.8"/>
<line x1="629.90" y1="575.07" x2="650.00" y2="575.07" stroke="#222" stroke-width="1.4"/>
<circle cx="638.52" cy="569.48" r="0.95" fill="#5a5a5a"/>
<circle cx="642.42" cy="576.58" r="0.95" fill="#5a5a5a"/>
<circle cx="641.01" cy="578.29" r="0.95" fill="#5a5a5a"/>
<circle cx="639.13" cy="582.15" r="0.95" fill="#5a5a5a"/>
<circle cx="637.02" cy="581.06" r="0.95" fill="#5a5a5a"/>
<circle cx="637.10" cy="586.47" r="0.95" fill="#5a5a5a"/>
<circle cx="638.58" cy="581.94" r="0.95" fill="#5a5a5a"/>
<circle cx="638.58" cy="573.62" r="0.95" fill="#5a5a5a"/>
<circle cx="640.46" cy="578.29" r="0.95" fill="#5a5a5a"/>
<circle cx="636.75" cy="574.09" r="0.95" fill="#5a5a5a"/>
<circle cx="640.30" cy="585.51" r="0.95" fill="#5a5a5a"/>
<circle cx="638.44" cy="576.68" r="0.95" fill="#5a5a5a"/>
<circle cx="642.15" cy="571.85" r="0.95" fill="#5a5a5a"/>
<circle cx="640.27" cy="575.40" r="0.95" fill="#5a5a5a"/>
<circle cx="640.00" cy="578.93" r="0.95" fill="#5a5a5a"/>
<circle cx="641.53" cy="591.83" r="0.95" fill="#5a5a5a"/>
<circle cx="638.45" cy="574.47" r="0.95" fill="#5a5a5a"/>
<circle cx="638.73" cy="573.72" r="0.95" fill="#5a5a5a"/>
<circle cx="637.38" cy="583.02" r="0.95" fill="#5a5a5a"/>
<circle cx="639.29" cy="590.73" r="0.95" fill="#5a5a5a"/>
<circle cx="642.71" cy="592.63" r="0.95" fill="#5a5a5a"/>
<circle cx="639.53" cy="569.21" r="0.95" fill="#5a5a5a"/>
<circle cx="637.32" cy="574.38" r="0.95" fill="#5a5a5a"/>
<circle cx="641.80" cy="572.28" r="0.95" fill="#5a5a5a"/>
<circle cx="637.57" cy="566.14" r="0.95" fill="#5a5a5a"/>
<circle cx="637.01" cy="575.74" r="0.95" fill="#5a5a5a"/>
<circle cx="640.36" cy="589.92" r="0.95" fill="#5a5a5a"/>
<circle cx="642.85" cy="580.73" r="0.95" fill="#5a5a5a"/>
<circle cx="640.63" cy="572.52" r="0.95" fill="#5a5a5a"/>
<circle cx="637.15" cy="570.50" r="0.95" fill="#5a5a5a"/>
<circle cx="640.57" cy="579.93" r="0.95" fill="#5a5a5a"/>
<circle cx="638.24" cy="569.81" r="0.95" fill="#5a5a5a"/>
<circle cx="641.36" cy="569.86" r="0.95" fill="#5a5a5a"/>
<circle cx="641.45" cy="577.70" r="0.95" fill="#5a5a5a"/>
<circle cx="638.20" cy="572.68" r="0.95" fill="#5a5a5a"/>
<circle cx="642.60" cy="591.08" r="0.95" fill="#5a5a5a"/>
<circle cx="637.77" cy="593.12" r="0.95" fill="#5a5a5a"/>
<circle cx="638.62" cy="560.44" r="0.95" fill="#5a5a5a"/>
<circle cx="638.33" cy="570.27" r="0.95" fill="#5a5a5a"/>
<circle cx="637.66" cy="577.06" r="0.95" fill="#5a5a5a"/>
<circle cx="638.31" cy="564.62" r="0.95" fill="#5a5a5a"/>
<circle cx="639.13" cy="573.24" r="0.95" fill="#5a5a5a"/>
<circle cx="642.83" cy="575.49" r="0.95" fill="#5a5a5a"/>
<circle cx="639.84" cy="579.45" r="0.95" fill="#5a5a5a"/>
<circle cx="636.80" cy="553.31" r="0.95" fill="#5a5a5a"/>
<circle cx="638.07" cy="581.09" r="0.95" fill="#5a5a5a"/>
<circle cx="643.11" cy="575.88" r="0.95" fill="#5a5a5a"/>
<circle cx="642.50" cy="579.02" r="0.95" fill="#5a5a5a"/>
<circle cx="642.52" cy="591.07" r="0.95" fill="#5a5a5a"/>
<circle cx="637.60" cy="568.98" r="0.95" fill="#5a5a5a"/>
<circle cx="640.05" cy="573.04" r="0.95" fill="#5a5a5a"/>
<circle cx="641.61" cy="576.04" r="0.95" fill="#5a5a5a"/>
<circle cx="640.17" cy="568.95" r="0.95" fill="#5a5a5a"/>
<circle cx="641.47" cy="588.63" r="0.95" fill="#5a5a5a"/>
<circle cx="638.90" cy="570.36" r="0.95" fill="#5a5a5a"/>
<circle cx="638.39" cy="571.37" r="0.95" fill="#5a5a5a"/>
<circle cx="640.90" cy="570.88" r="0.95" fill="#5a5a5a"/>
<circle cx="641.64" cy="582.86" r="0.95" fill="#5a5a5a"/>
<circle cx="639.22" cy="579.66" r="0.95" fill="#5a5a5a"/>
<circle cx="641.85" cy="570.96" r="0.95" fill="#5a5a5a"/>
<circle cx="639.95" cy="553.00" r="0.95" fill="#5a5a5a"/>
<circle cx="639.95" cy="594.12" r="0.95" fill="#5a5a5a"/>
<line x1="667.15" y1="588.78" x2="667.15" y2="610.67" stroke="#555" stroke-width="0.8"/>
<rect x="656.80" y="597.15" width="20.70" height="8.37" fill="#f9d67c" stroke="#444" stroke-width="0.8"/>
<line x1="656.80" y1="599.99" x2="677.50" y2="599.99" stroke="#222" stroke-width="1.4"/>
<circle cx="664.98" cy="595.91" r="0.95" fill="#5a5a5a"/>
<circle cx="663.96" cy="597.18" r="0.95" fill="#5a5a5a"/>
<circle cx="665.04" cy="604.26" r="0.95" fill="#5a5a5a"/>
<circle cx="664.38" cy="600.33" r="0.95" fill="#5a5a5a"/>
<circle cx="665.06" cy="601.26" r="0.95" fill="#5a5a5a"/>
<circle cx="666.18" cy="601.12" r="0.95" fill="#5a5a5a"/>
<circle cx="666.22" cy="604.61" r="0.95" fill="#5a5a5a"/>
<circle cx="667.16" cy="604.81" r="0.95" fill="#5a5a5a"/>
<circle cx="667.15" cy="588.78" r="0.95" fill="#5a5a5a"/>
<circle cx="667.15" cy="610.67" r="0.95" fill="#5a5a5a"/>
<text x="511.3" y="636.2" font-size="8" fill="#111" stroke="#111" stroke-width="0.22" text-anchor="middle">G/G</text>
<text x="538.2" y="636.2" font-size="8" fill="#111" stroke="#111" stroke-width="0.22" text-anchor="middle">G/A</text>
<text x="565.1" y="636.2" font-size="8" fill="#111" stroke="#111" stroke-width="0.22" text-anchor="middle">A/A</text>
<text x="612.9" y="636.2" font-size="8" fill="#111" stroke="#111" stroke-width="0.22" text-anchor="middle">G/G</text>
<text x="639.8" y="636.2" font-size="8" fill="#111" stroke="#111" stroke-width="0.22" text-anchor="middle">G/A</text>
<text x="666.8" y="636.2" font-size="8" fill="#111" stroke="#111" stroke-width="0.22" text-anchor="middle">A/A</text>
</svg></body></html>
